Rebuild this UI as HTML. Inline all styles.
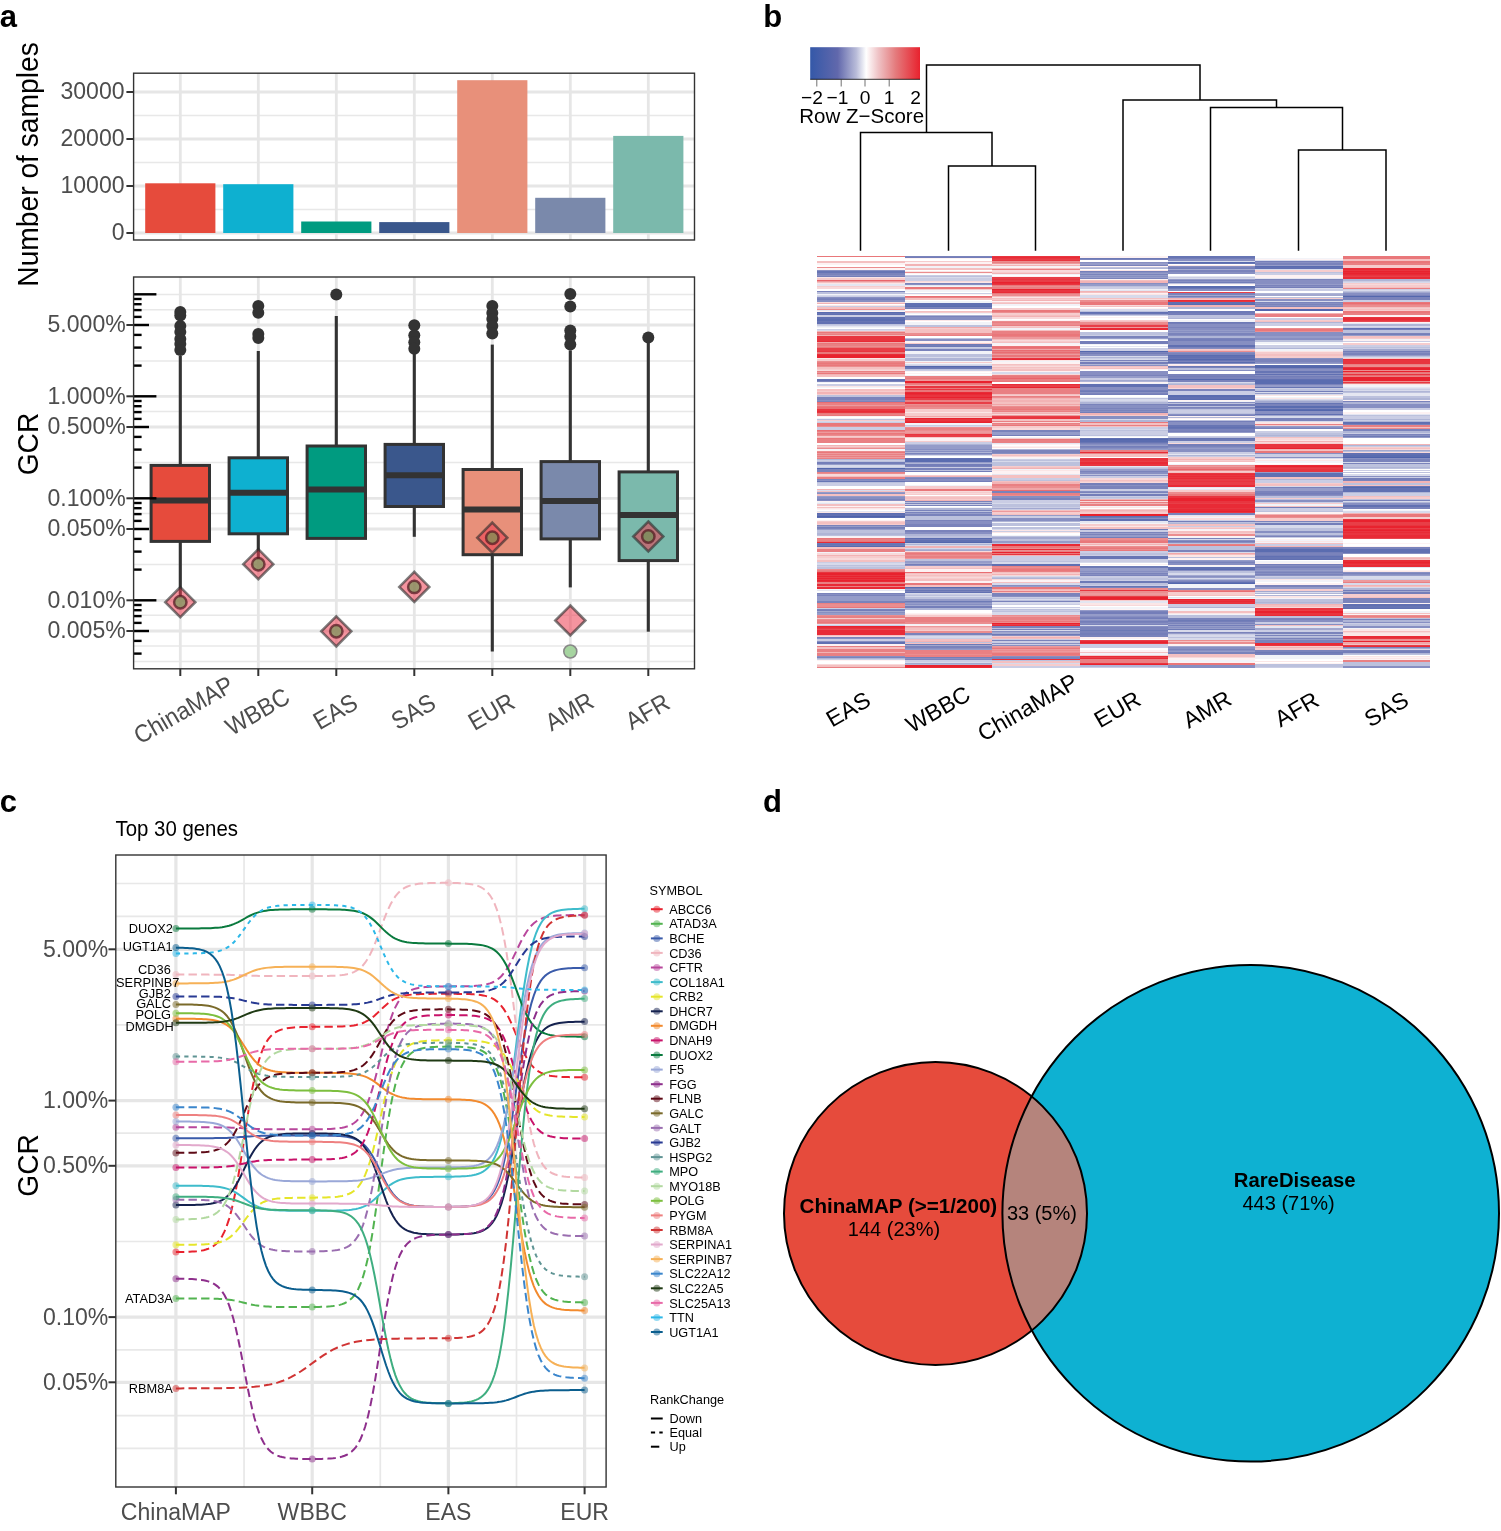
<!DOCTYPE html>
<html><head><meta charset="utf-8"><title>Figure</title>
<style>html,body{margin:0;padding:0;background:#fff;} svg{display:block;} text{font-family:'Liberation Sans', Arial, Helvetica, sans-serif;}</style>
</head><body>
<svg width="1501" height="1531" viewBox="0 0 1501 1531">
<rect width="1501" height="1531" fill="#fff"/>
<rect x="133.6" y="73.2" width="560.9" height="166.8" fill="#fff"/>
<line x1="133.6" x2="694.5" y1="115.6" y2="115.6" stroke="#e8e8e8" stroke-width="1.5"/>
<line x1="133.6" x2="694.5" y1="162.6" y2="162.6" stroke="#e8e8e8" stroke-width="1.5"/>
<line x1="133.6" x2="694.5" y1="209.6" y2="209.6" stroke="#e8e8e8" stroke-width="1.5"/>
<line x1="133.6" x2="694.5" y1="233.0" y2="233.0" stroke="#e6e6e6" stroke-width="2.8"/>
<line x1="133.6" x2="694.5" y1="186.0" y2="186.0" stroke="#e6e6e6" stroke-width="2.8"/>
<line x1="133.6" x2="694.5" y1="139.0" y2="139.0" stroke="#e6e6e6" stroke-width="2.8"/>
<line x1="133.6" x2="694.5" y1="92.0" y2="92.0" stroke="#e6e6e6" stroke-width="2.8"/>
<line x1="180.3" x2="180.3" y1="73.2" y2="240.0" stroke="#e6e6e6" stroke-width="2.8"/>
<line x1="258.3" x2="258.3" y1="73.2" y2="240.0" stroke="#e6e6e6" stroke-width="2.8"/>
<line x1="336.3" x2="336.3" y1="73.2" y2="240.0" stroke="#e6e6e6" stroke-width="2.8"/>
<line x1="414.3" x2="414.3" y1="73.2" y2="240.0" stroke="#e6e6e6" stroke-width="2.8"/>
<line x1="492.3" x2="492.3" y1="73.2" y2="240.0" stroke="#e6e6e6" stroke-width="2.8"/>
<line x1="570.3" x2="570.3" y1="73.2" y2="240.0" stroke="#e6e6e6" stroke-width="2.8"/>
<line x1="648.3" x2="648.3" y1="73.2" y2="240.0" stroke="#e6e6e6" stroke-width="2.8"/>
<rect x="145.2" y="183.3" width="70.2" height="49.7" fill="#E64B3C"/>
<rect x="223.2" y="184.2" width="70.2" height="48.8" fill="#0EB0D0"/>
<rect x="301.2" y="221.5" width="70.2" height="11.5" fill="#009B80"/>
<rect x="379.2" y="222.1" width="70.2" height="10.9" fill="#3A578C"/>
<rect x="457.2" y="80.2" width="70.2" height="152.8" fill="#E8907A"/>
<rect x="535.2" y="197.8" width="70.2" height="35.2" fill="#7A89AB"/>
<rect x="613.2" y="135.9" width="70.2" height="97.1" fill="#7BB9AC"/>
<rect x="133.6" y="73.2" width="560.9" height="166.8" fill="none" stroke="#333" stroke-width="1.4"/>
<line x1="126.4" x2="133.6" y1="233.0" y2="233.0" stroke="#333" stroke-width="2"/>
<text transform="translate(124.60,240.40) scale(0.93,1)" font-size="24.8" fill="#4d4d4d" text-anchor="end">0</text>
<line x1="126.4" x2="133.6" y1="186.0" y2="186.0" stroke="#333" stroke-width="2"/>
<text transform="translate(124.60,193.40) scale(0.93,1)" font-size="24.8" fill="#4d4d4d" text-anchor="end">10000</text>
<line x1="126.4" x2="133.6" y1="139.0" y2="139.0" stroke="#333" stroke-width="2"/>
<text transform="translate(124.60,146.40) scale(0.93,1)" font-size="24.8" fill="#4d4d4d" text-anchor="end">20000</text>
<line x1="126.4" x2="133.6" y1="92.0" y2="92.0" stroke="#333" stroke-width="2"/>
<text transform="translate(124.60,99.40) scale(0.93,1)" font-size="24.8" fill="#4d4d4d" text-anchor="end">30000</text>
<text transform="translate(38.30,164.50) rotate(-90) scale(0.94,1)" font-size="30.0" fill="#000" text-anchor="middle">Number of samples</text>
<rect x="133.6" y="277.0" width="560.9" height="391.79999999999995" fill="#fff"/>
<line x1="133.6" x2="694.5" y1="294.4" y2="294.4" stroke="#e8e8e8" stroke-width="1.5"/>
<line x1="133.6" x2="694.5" y1="309.8" y2="309.8" stroke="#e8e8e8" stroke-width="1.5"/>
<line x1="133.6" x2="694.5" y1="360.9" y2="360.9" stroke="#e8e8e8" stroke-width="1.5"/>
<line x1="133.6" x2="694.5" y1="411.5" y2="411.5" stroke="#e8e8e8" stroke-width="1.5"/>
<line x1="133.6" x2="694.5" y1="462.5" y2="462.5" stroke="#e8e8e8" stroke-width="1.5"/>
<line x1="133.6" x2="694.5" y1="513.6" y2="513.6" stroke="#e8e8e8" stroke-width="1.5"/>
<line x1="133.6" x2="694.5" y1="564.5" y2="564.5" stroke="#e8e8e8" stroke-width="1.5"/>
<line x1="133.6" x2="694.5" y1="615.2" y2="615.2" stroke="#e8e8e8" stroke-width="1.5"/>
<line x1="133.6" x2="694.5" y1="645.9" y2="645.9" stroke="#e8e8e8" stroke-width="1.5"/>
<line x1="133.6" x2="694.5" y1="661.5" y2="661.5" stroke="#e8e8e8" stroke-width="1.5"/>
<line x1="133.6" x2="694.5" y1="325.0" y2="325.0" stroke="#e6e6e6" stroke-width="2.8"/>
<line x1="133.6" x2="694.5" y1="396.3" y2="396.3" stroke="#e6e6e6" stroke-width="2.8"/>
<line x1="133.6" x2="694.5" y1="427.0" y2="427.0" stroke="#e6e6e6" stroke-width="2.8"/>
<line x1="133.6" x2="694.5" y1="498.3" y2="498.3" stroke="#e6e6e6" stroke-width="2.8"/>
<line x1="133.6" x2="694.5" y1="529.0" y2="529.0" stroke="#e6e6e6" stroke-width="2.8"/>
<line x1="133.6" x2="694.5" y1="600.3" y2="600.3" stroke="#e6e6e6" stroke-width="2.8"/>
<line x1="133.6" x2="694.5" y1="631.0" y2="631.0" stroke="#e6e6e6" stroke-width="2.8"/>
<line x1="180.3" x2="180.3" y1="277.0" y2="668.8" stroke="#e6e6e6" stroke-width="2.8"/>
<line x1="258.3" x2="258.3" y1="277.0" y2="668.8" stroke="#e6e6e6" stroke-width="2.8"/>
<line x1="336.3" x2="336.3" y1="277.0" y2="668.8" stroke="#e6e6e6" stroke-width="2.8"/>
<line x1="414.3" x2="414.3" y1="277.0" y2="668.8" stroke="#e6e6e6" stroke-width="2.8"/>
<line x1="492.3" x2="492.3" y1="277.0" y2="668.8" stroke="#e6e6e6" stroke-width="2.8"/>
<line x1="570.3" x2="570.3" y1="277.0" y2="668.8" stroke="#e6e6e6" stroke-width="2.8"/>
<line x1="648.3" x2="648.3" y1="277.0" y2="668.8" stroke="#e6e6e6" stroke-width="2.8"/>
<line x1="180.3" x2="180.3" y1="356.0" y2="465.4" stroke="#333" stroke-width="3.1"/>
<line x1="180.3" x2="180.3" y1="541.4" y2="596.0" stroke="#333" stroke-width="3.1"/>
<rect x="151.1" y="465.4" width="58.4" height="76.0" fill="#E64B3C" stroke="#333" stroke-width="3.0"/>
<line x1="151.1" x2="209.5" y1="500.4" y2="500.4" stroke="#333" stroke-width="6.0"/>
<circle cx="180.3" cy="312" r="6" fill="#333"/>
<circle cx="180.3" cy="315.6" r="6" fill="#333"/>
<circle cx="180.3" cy="326" r="6" fill="#333"/>
<circle cx="180.3" cy="332" r="6" fill="#333"/>
<circle cx="180.3" cy="339" r="6" fill="#333"/>
<circle cx="180.3" cy="344" r="6" fill="#333"/>
<circle cx="180.3" cy="350" r="6" fill="#333"/>
<line x1="258.3" x2="258.3" y1="351.0" y2="457.8" stroke="#333" stroke-width="3.1"/>
<line x1="258.3" x2="258.3" y1="533.8" y2="559.0" stroke="#333" stroke-width="3.1"/>
<rect x="229.1" y="457.8" width="58.4" height="76.0" fill="#0EB0D0" stroke="#333" stroke-width="3.0"/>
<line x1="229.1" x2="287.5" y1="492.8" y2="492.8" stroke="#333" stroke-width="6.0"/>
<circle cx="258.3" cy="306" r="6" fill="#333"/>
<circle cx="258.3" cy="312.8" r="6" fill="#333"/>
<circle cx="258.3" cy="334" r="6" fill="#333"/>
<circle cx="258.3" cy="338" r="6" fill="#333"/>
<line x1="336.3" x2="336.3" y1="316.0" y2="446.0" stroke="#333" stroke-width="3.1"/>
<rect x="307.1" y="446.0" width="58.4" height="92.4" fill="#009B80" stroke="#333" stroke-width="3.0"/>
<line x1="307.1" x2="365.5" y1="489.5" y2="489.5" stroke="#333" stroke-width="6.0"/>
<circle cx="336.3" cy="294.4" r="6" fill="#333"/>
<line x1="414.3" x2="414.3" y1="354.0" y2="444.4" stroke="#333" stroke-width="3.1"/>
<line x1="414.3" x2="414.3" y1="506.5" y2="536.8" stroke="#333" stroke-width="3.1"/>
<rect x="385.1" y="444.4" width="58.4" height="62.1" fill="#3A578C" stroke="#333" stroke-width="3.0"/>
<line x1="385.1" x2="443.5" y1="475.3" y2="475.3" stroke="#333" stroke-width="6.0"/>
<circle cx="414.3" cy="325.3" r="6" fill="#333"/>
<circle cx="414.3" cy="335.3" r="6" fill="#333"/>
<circle cx="414.3" cy="342.3" r="6" fill="#333"/>
<circle cx="414.3" cy="348.8" r="6" fill="#333"/>
<line x1="492.3" x2="492.3" y1="344.6" y2="469.5" stroke="#333" stroke-width="3.1"/>
<line x1="492.3" x2="492.3" y1="554.7" y2="651.5" stroke="#333" stroke-width="3.1"/>
<rect x="463.1" y="469.5" width="58.4" height="85.2" fill="#E8907A" stroke="#333" stroke-width="3.0"/>
<line x1="463.1" x2="521.5" y1="509.4" y2="509.4" stroke="#333" stroke-width="6.0"/>
<circle cx="492.3" cy="306.1" r="6" fill="#333"/>
<circle cx="492.3" cy="313.1" r="6" fill="#333"/>
<circle cx="492.3" cy="319" r="6" fill="#333"/>
<circle cx="492.3" cy="326" r="6" fill="#333"/>
<circle cx="492.3" cy="333.4" r="6" fill="#333"/>
<line x1="570.3" x2="570.3" y1="350.4" y2="461.6" stroke="#333" stroke-width="3.1"/>
<line x1="570.3" x2="570.3" y1="538.9" y2="587.4" stroke="#333" stroke-width="3.1"/>
<rect x="541.1" y="461.6" width="58.4" height="77.3" fill="#7A89AB" stroke="#333" stroke-width="3.0"/>
<line x1="541.1" x2="599.5" y1="501.0" y2="501.0" stroke="#333" stroke-width="6.0"/>
<circle cx="570.3" cy="294" r="6" fill="#333"/>
<circle cx="570.3" cy="306.6" r="6" fill="#333"/>
<circle cx="570.3" cy="330.6" r="6" fill="#333"/>
<circle cx="570.3" cy="336.4" r="6" fill="#333"/>
<circle cx="570.3" cy="344.6" r="6" fill="#333"/>
<line x1="648.3" x2="648.3" y1="337.6" y2="471.9" stroke="#333" stroke-width="3.1"/>
<line x1="648.3" x2="648.3" y1="560.6" y2="631.7" stroke="#333" stroke-width="3.1"/>
<rect x="619.1" y="471.9" width="58.4" height="88.7" fill="#7BB9AC" stroke="#333" stroke-width="3.0"/>
<line x1="619.1" x2="677.5" y1="515.0" y2="515.0" stroke="#333" stroke-width="6.0"/>
<circle cx="648.3" cy="337.6" r="6" fill="#333"/>
<path d="M180.3 587.2 L195.3 602.2 L180.3 617.2 L165.3 602.2 Z" fill="rgba(236,60,80,0.55)" stroke="rgba(40,40,40,0.6)" stroke-width="2.6"/>
<circle cx="180.3" cy="602.2" r="6.2" fill="rgba(96,153,80,0.6)" stroke="rgba(85,25,35,0.72)" stroke-width="2.5"/>
<path d="M258.3 549.2 L273.3 564.2 L258.3 579.2 L243.3 564.2 Z" fill="rgba(236,60,80,0.55)" stroke="rgba(40,40,40,0.6)" stroke-width="2.6"/>
<circle cx="258.3" cy="564.2" r="6.2" fill="rgba(96,153,80,0.6)" stroke="rgba(85,25,35,0.72)" stroke-width="2.5"/>
<path d="M336.3 616.3 L351.3 631.3 L336.3 646.3 L321.3 631.3 Z" fill="rgba(236,60,80,0.55)" stroke="rgba(40,40,40,0.6)" stroke-width="2.6"/>
<circle cx="336.3" cy="631.3" r="6.2" fill="rgba(96,153,80,0.6)" stroke="rgba(85,25,35,0.72)" stroke-width="2.5"/>
<path d="M414.3 571.9 L429.3 586.9 L414.3 601.9 L399.3 586.9 Z" fill="rgba(236,60,80,0.55)" stroke="rgba(40,40,40,0.6)" stroke-width="2.6"/>
<circle cx="414.3" cy="586.9" r="6.2" fill="rgba(96,153,80,0.6)" stroke="rgba(85,25,35,0.72)" stroke-width="2.5"/>
<path d="M492.3 522.7 L507.3 537.7 L492.3 552.7 L477.3 537.7 Z" fill="rgba(236,60,80,0.55)" stroke="rgba(40,40,40,0.6)" stroke-width="2.6"/>
<circle cx="492.3" cy="537.7" r="6.2" fill="rgba(96,153,80,0.6)" stroke="rgba(85,25,35,0.72)" stroke-width="2.5"/>
<path d="M570.3 605.5 L585.3 620.5 L570.3 635.5 L555.3 620.5 Z" fill="rgba(236,60,80,0.55)" stroke="rgba(40,40,40,0.6)" stroke-width="2.6"/>
<path d="M648.3 521.5 L663.3 536.5 L648.3 551.5 L633.3 536.5 Z" fill="rgba(236,60,80,0.55)" stroke="rgba(40,40,40,0.6)" stroke-width="2.6"/>
<circle cx="648.3" cy="536.5" r="6.2" fill="rgba(96,153,80,0.6)" stroke="rgba(85,25,35,0.72)" stroke-width="2.5"/>
<circle cx="570.3" cy="651.5" r="6.5" fill="#a6d4a0" stroke="#888" stroke-width="1.6"/>
<line x1="133.6" x2="141.6" y1="653.6" y2="653.6" stroke="#000" stroke-width="2.4"/>
<line x1="133.6" x2="141.6" y1="640.9" y2="640.9" stroke="#000" stroke-width="2.4"/>
<line x1="133.6" x2="149.0" y1="631.0" y2="631.0" stroke="#000" stroke-width="2.4"/>
<line x1="133.6" x2="141.6" y1="622.9" y2="622.9" stroke="#000" stroke-width="2.4"/>
<line x1="133.6" x2="141.6" y1="616.1" y2="616.1" stroke="#000" stroke-width="2.4"/>
<line x1="133.6" x2="141.6" y1="610.2" y2="610.2" stroke="#000" stroke-width="2.4"/>
<line x1="133.6" x2="141.6" y1="605.0" y2="605.0" stroke="#000" stroke-width="2.4"/>
<line x1="133.6" x2="156.4" y1="600.3" y2="600.3" stroke="#000" stroke-width="2.4"/>
<line x1="133.6" x2="141.6" y1="569.6" y2="569.6" stroke="#000" stroke-width="2.4"/>
<line x1="133.6" x2="141.6" y1="551.6" y2="551.6" stroke="#000" stroke-width="2.4"/>
<line x1="133.6" x2="141.6" y1="538.9" y2="538.9" stroke="#000" stroke-width="2.4"/>
<line x1="133.6" x2="149.0" y1="529.0" y2="529.0" stroke="#000" stroke-width="2.4"/>
<line x1="133.6" x2="141.6" y1="520.9" y2="520.9" stroke="#000" stroke-width="2.4"/>
<line x1="133.6" x2="141.6" y1="514.1" y2="514.1" stroke="#000" stroke-width="2.4"/>
<line x1="133.6" x2="141.6" y1="508.2" y2="508.2" stroke="#000" stroke-width="2.4"/>
<line x1="133.6" x2="141.6" y1="503.0" y2="503.0" stroke="#000" stroke-width="2.4"/>
<line x1="133.6" x2="156.4" y1="498.3" y2="498.3" stroke="#000" stroke-width="2.4"/>
<line x1="133.6" x2="141.6" y1="467.6" y2="467.6" stroke="#000" stroke-width="2.4"/>
<line x1="133.6" x2="141.6" y1="449.6" y2="449.6" stroke="#000" stroke-width="2.4"/>
<line x1="133.6" x2="141.6" y1="436.9" y2="436.9" stroke="#000" stroke-width="2.4"/>
<line x1="133.6" x2="149.0" y1="427.0" y2="427.0" stroke="#000" stroke-width="2.4"/>
<line x1="133.6" x2="141.6" y1="418.9" y2="418.9" stroke="#000" stroke-width="2.4"/>
<line x1="133.6" x2="141.6" y1="412.1" y2="412.1" stroke="#000" stroke-width="2.4"/>
<line x1="133.6" x2="141.6" y1="406.2" y2="406.2" stroke="#000" stroke-width="2.4"/>
<line x1="133.6" x2="141.6" y1="401.0" y2="401.0" stroke="#000" stroke-width="2.4"/>
<line x1="133.6" x2="156.4" y1="396.3" y2="396.3" stroke="#000" stroke-width="2.4"/>
<line x1="133.6" x2="141.6" y1="365.6" y2="365.6" stroke="#000" stroke-width="2.4"/>
<line x1="133.6" x2="141.6" y1="347.6" y2="347.6" stroke="#000" stroke-width="2.4"/>
<line x1="133.6" x2="141.6" y1="334.9" y2="334.9" stroke="#000" stroke-width="2.4"/>
<line x1="133.6" x2="149.0" y1="325.0" y2="325.0" stroke="#000" stroke-width="2.4"/>
<line x1="133.6" x2="141.6" y1="316.9" y2="316.9" stroke="#000" stroke-width="2.4"/>
<line x1="133.6" x2="141.6" y1="310.1" y2="310.1" stroke="#000" stroke-width="2.4"/>
<line x1="133.6" x2="141.6" y1="304.2" y2="304.2" stroke="#000" stroke-width="2.4"/>
<line x1="133.6" x2="141.6" y1="299.0" y2="299.0" stroke="#000" stroke-width="2.4"/>
<line x1="133.6" x2="156.4" y1="294.3" y2="294.3" stroke="#000" stroke-width="2.4"/>
<rect x="133.6" y="277.0" width="560.9" height="391.79999999999995" fill="none" stroke="#333" stroke-width="1.4"/>
<line x1="126.4" x2="133.6" y1="325.0" y2="325.0" stroke="#333" stroke-width="2"/>
<text transform="translate(125.70,332.41) scale(0.93,1)" font-size="24.8" fill="#4d4d4d" text-anchor="end">5.000%</text>
<line x1="126.4" x2="133.6" y1="396.3" y2="396.3" stroke="#333" stroke-width="2"/>
<text transform="translate(125.70,403.70) scale(0.93,1)" font-size="24.8" fill="#4d4d4d" text-anchor="end">1.000%</text>
<line x1="126.4" x2="133.6" y1="427.0" y2="427.0" stroke="#333" stroke-width="2"/>
<text transform="translate(125.70,434.41) scale(0.93,1)" font-size="24.8" fill="#4d4d4d" text-anchor="end">0.500%</text>
<line x1="126.4" x2="133.6" y1="498.3" y2="498.3" stroke="#333" stroke-width="2"/>
<text transform="translate(125.70,505.70) scale(0.93,1)" font-size="24.8" fill="#4d4d4d" text-anchor="end">0.100%</text>
<line x1="126.4" x2="133.6" y1="529.0" y2="529.0" stroke="#333" stroke-width="2"/>
<text transform="translate(125.70,536.41) scale(0.93,1)" font-size="24.8" fill="#4d4d4d" text-anchor="end">0.050%</text>
<line x1="126.4" x2="133.6" y1="600.3" y2="600.3" stroke="#333" stroke-width="2"/>
<text transform="translate(125.70,607.70) scale(0.93,1)" font-size="24.8" fill="#4d4d4d" text-anchor="end">0.010%</text>
<line x1="126.4" x2="133.6" y1="631.0" y2="631.0" stroke="#333" stroke-width="2"/>
<text transform="translate(125.70,638.41) scale(0.93,1)" font-size="24.8" fill="#4d4d4d" text-anchor="end">0.005%</text>
<line x1="180.3" x2="180.3" y1="668.8" y2="676" stroke="#333" stroke-width="2"/>
<line x1="258.3" x2="258.3" y1="668.8" y2="676" stroke="#333" stroke-width="2"/>
<line x1="336.3" x2="336.3" y1="668.8" y2="676" stroke="#333" stroke-width="2"/>
<line x1="414.3" x2="414.3" y1="668.8" y2="676" stroke="#333" stroke-width="2"/>
<line x1="492.3" x2="492.3" y1="668.8" y2="676" stroke="#333" stroke-width="2"/>
<line x1="570.3" x2="570.3" y1="668.8" y2="676" stroke="#333" stroke-width="2"/>
<line x1="648.3" x2="648.3" y1="668.8" y2="676" stroke="#333" stroke-width="2"/>
<text transform="translate(187.80,717.30) rotate(-30) scale(0.93,1)" font-size="24.8" fill="#4d4d4d" text-anchor="middle">ChinaMAP</text>
<text transform="translate(261.60,719.00) rotate(-30) scale(0.93,1)" font-size="24.8" fill="#4d4d4d" text-anchor="middle">WBBC</text>
<text transform="translate(339.60,719.00) rotate(-30) scale(0.93,1)" font-size="24.8" fill="#4d4d4d" text-anchor="middle">EAS</text>
<text transform="translate(417.60,719.00) rotate(-30) scale(0.93,1)" font-size="24.8" fill="#4d4d4d" text-anchor="middle">SAS</text>
<text transform="translate(495.60,719.00) rotate(-30) scale(0.93,1)" font-size="24.8" fill="#4d4d4d" text-anchor="middle">EUR</text>
<text transform="translate(573.60,719.00) rotate(-30) scale(0.93,1)" font-size="24.8" fill="#4d4d4d" text-anchor="middle">AMR</text>
<text transform="translate(651.60,719.00) rotate(-30) scale(0.93,1)" font-size="24.8" fill="#4d4d4d" text-anchor="middle">AFR</text>
<text transform="translate(38.30,444.00) rotate(-90) scale(0.94,1)" font-size="30.0" fill="#000" text-anchor="middle">GCR</text>
<defs><linearGradient id="ck" x1="0" x2="1" y1="0" y2="0"><stop offset="0" stop-color="#3458A8"/><stop offset="0.25" stop-color="#6168AC"/><stop offset="0.42" stop-color="#b9bcd9"/><stop offset="0.51" stop-color="#ffffff"/><stop offset="0.62" stop-color="#efc3c6"/><stop offset="0.78" stop-color="#e47a7c"/><stop offset="1" stop-color="#E8222E"/></linearGradient></defs>
<rect x="810.2" y="47.2" width="109.8" height="32.1" fill="url(#ck)"/>
<line x1="810.2" x2="920" y1="79.3" y2="79.3" stroke="#000" stroke-width="0.8"/>
<line x1="816.8" x2="816.8" y1="79.3" y2="86.5" stroke="#333" stroke-width="0.7"/>
<line x1="841.2" x2="841.2" y1="79.3" y2="86.5" stroke="#333" stroke-width="0.7"/>
<line x1="865.0" x2="865.0" y1="79.3" y2="86.5" stroke="#333" stroke-width="0.7"/>
<line x1="889.2" x2="889.2" y1="79.3" y2="86.5" stroke="#333" stroke-width="0.7"/>
<text x="812.0" y="104.2" font-size="19.2" fill="#000" text-anchor="middle">−2</text>
<text x="837.5" y="104.2" font-size="19.2" fill="#000" text-anchor="middle">−1</text>
<text x="865.0" y="104.2" font-size="19.2" fill="#000" text-anchor="middle">0</text>
<text x="889.2" y="104.2" font-size="19.2" fill="#000" text-anchor="middle">1</text>
<text x="915.7" y="104.2" font-size="19.2" fill="#000" text-anchor="middle">2</text>
<text x="861.7" y="122.7" font-size="20.5" fill="#000" text-anchor="middle">Row Z−Score</text>
<path d="M926.5 65L1200 65 M926.5 65L926.5 132.5 M1200 65L1200 100 M860.5 132.5L992 132.5 M860.5 132.5L860.5 250 M992 132.5L992 166 M948.5 166L1035.5 166 M948.5 166L948.5 250 M1035.5 166L1035.5 250 M1123 100L1276.5 100 M1123 100L1123 250 M1276.5 100L1276.5 107.5 M1210.5 107.5L1342.5 107.5 M1210.5 107.5L1210.5 250 M1342.5 107.5L1342.5 150 M1298.5 150L1386 150 M1298.5 150L1298.5 250 M1386 150L1386 250" stroke="#000" stroke-width="1.5" fill="none" stroke-linecap="square"/>
<text transform="translate(852.2,716.2) rotate(-30)" font-size="23.2" fill="#000" text-anchor="middle">EAS</text>
<text transform="translate(941.9,716.2) rotate(-30)" font-size="23.2" fill="#000" text-anchor="middle">WBBC</text>
<text transform="translate(1031.6,714.2) rotate(-30)" font-size="23.2" fill="#000" text-anchor="middle">ChinaMAP</text>
<text transform="translate(1121.3,716.2) rotate(-30)" font-size="23.2" fill="#000" text-anchor="middle">EUR</text>
<text transform="translate(1211.0,716.2) rotate(-30)" font-size="23.2" fill="#000" text-anchor="middle">AMR</text>
<text transform="translate(1300.7,716.2) rotate(-30)" font-size="23.2" fill="#000" text-anchor="middle">AFR</text>
<text transform="translate(1390.4,716.2) rotate(-30)" font-size="23.2" fill="#000" text-anchor="middle">SAS</text>
<g shape-rendering="crispEdges"><rect x="817.2" y="256.0" width="87.6" height="1.0" fill="#e9777a"/><rect x="817.2" y="259.5" width="87.6" height="0.5" fill="#fdf2f3"/><rect x="817.2" y="260.5" width="87.6" height="0.5" fill="#f2f3f8"/><rect x="817.2" y="261.0" width="87.6" height="1.5" fill="#f4c0c1"/><rect x="817.2" y="262.5" width="87.6" height="0.5" fill="#f2b3b5"/><rect x="817.2" y="263.0" width="87.6" height="2.0" fill="#fdf2f3"/><rect x="817.2" y="266.5" width="87.6" height="0.5" fill="#e98083"/><rect x="817.2" y="267.0" width="87.6" height="1.0" fill="#eb8d8f"/><rect x="817.2" y="268.0" width="87.6" height="1.5" fill="#fdf2f3"/><rect x="817.2" y="269.5" width="87.6" height="0.5" fill="#959cc9"/><rect x="817.2" y="270.0" width="87.6" height="0.5" fill="#878fc2"/><rect x="817.2" y="270.5" width="87.6" height="0.5" fill="#959cc9"/><rect x="817.2" y="271.0" width="87.6" height="1.5" fill="#6775b4"/><rect x="817.2" y="272.5" width="87.6" height="0.5" fill="#5a6cb0"/><rect x="817.2" y="273.0" width="87.6" height="1.5" fill="#7a83bb"/><rect x="817.2" y="274.5" width="87.6" height="1.0" fill="#878fc2"/><rect x="817.2" y="275.5" width="87.6" height="1.0" fill="#747eb9"/><rect x="817.2" y="276.5" width="87.6" height="0.5" fill="#7a83bb"/><rect x="817.2" y="277.0" width="87.6" height="0.5" fill="#fbe6e6"/><rect x="817.2" y="277.5" width="87.6" height="0.5" fill="#f2f3f8"/><rect x="817.2" y="278.0" width="87.6" height="2.0" fill="#f6cccd"/><rect x="817.2" y="280.0" width="87.6" height="0.5" fill="#e9646a"/><rect x="817.2" y="280.5" width="87.6" height="1.5" fill="#ed999c"/><rect x="817.2" y="282.0" width="87.6" height="0.5" fill="#f4c0c1"/><rect x="817.2" y="282.5" width="87.6" height="1.0" fill="#fbe6e6"/><rect x="817.2" y="283.5" width="87.6" height="0.5" fill="#f2b3b5"/><rect x="817.2" y="284.0" width="87.6" height="1.5" fill="#e4e6f1"/><rect x="817.2" y="285.5" width="87.6" height="0.5" fill="#f2f3f8"/><rect x="817.2" y="286.0" width="87.6" height="1.0" fill="#f6cccd"/><rect x="817.2" y="287.0" width="87.6" height="1.5" fill="#f8d9da"/><rect x="817.2" y="290.5" width="87.6" height="1.5" fill="#7a83bb"/><rect x="817.2" y="292.0" width="87.6" height="2.0" fill="#bcc1dd"/><rect x="817.2" y="294.0" width="87.6" height="0.5" fill="#f2f3f8"/><rect x="817.2" y="294.5" width="87.6" height="1.0" fill="#d7daeb"/><rect x="817.2" y="295.5" width="87.6" height="1.5" fill="#cacde4"/><rect x="817.2" y="297.0" width="87.6" height="1.0" fill="#878fc2"/><rect x="817.2" y="298.0" width="87.6" height="0.5" fill="#7a83bb"/><rect x="817.2" y="298.5" width="87.6" height="1.0" fill="#747eb9"/><rect x="817.2" y="299.5" width="87.6" height="2.0" fill="#878fc2"/><rect x="817.2" y="301.5" width="87.6" height="1.0" fill="#f8d9da"/><rect x="817.2" y="302.5" width="87.6" height="1.0" fill="#f2b3b5"/><rect x="817.2" y="303.5" width="87.6" height="0.5" fill="#f6cccd"/><rect x="817.2" y="304.5" width="87.6" height="0.5" fill="#fdf2f3"/><rect x="817.2" y="305.0" width="87.6" height="0.5" fill="#fbe6e6"/><rect x="817.2" y="306.0" width="87.6" height="1.0" fill="#cacde4"/><rect x="817.2" y="307.0" width="87.6" height="1.5" fill="#f4c0c1"/><rect x="817.2" y="308.5" width="87.6" height="1.5" fill="#eb8d8f"/><rect x="817.2" y="310.0" width="87.6" height="0.5" fill="#e4e6f1"/><rect x="817.2" y="310.5" width="87.6" height="1.5" fill="#fdf2f3"/><rect x="817.2" y="312.0" width="87.6" height="1.0" fill="#5a6cb0"/><rect x="817.2" y="313.0" width="87.6" height="1.0" fill="#6775b4"/><rect x="817.2" y="314.0" width="87.6" height="0.5" fill="#6170b2"/><rect x="817.2" y="314.5" width="87.6" height="2.5" fill="#cacde4"/><rect x="817.2" y="317.0" width="87.6" height="2.0" fill="#6170b2"/><rect x="817.2" y="319.0" width="87.6" height="1.5" fill="#5a6cb0"/><rect x="817.2" y="320.5" width="87.6" height="1.0" fill="#6775b4"/><rect x="817.2" y="321.5" width="87.6" height="2.5" fill="#6170b2"/><rect x="817.2" y="324.0" width="87.6" height="1.0" fill="#bcc1dd"/><rect x="817.2" y="325.0" width="87.6" height="0.5" fill="#cacde4"/><rect x="817.2" y="325.5" width="87.6" height="0.5" fill="#bcc1dd"/><rect x="817.2" y="326.0" width="87.6" height="1.0" fill="#e4e6f1"/><rect x="817.2" y="327.0" width="87.6" height="0.5" fill="#f2f3f8"/><rect x="817.2" y="329.0" width="87.6" height="1.0" fill="#cacde4"/><rect x="817.2" y="330.0" width="87.6" height="0.5" fill="#d7daeb"/><rect x="817.2" y="330.5" width="87.6" height="0.5" fill="#bcc1dd"/><rect x="817.2" y="331.0" width="87.6" height="0.5" fill="#f2b3b5"/><rect x="817.2" y="331.5" width="87.6" height="1.0" fill="#e9777a"/><rect x="817.2" y="332.5" width="87.6" height="1.0" fill="#eb8d8f"/><rect x="817.2" y="333.5" width="87.6" height="1.5" fill="#e98083"/><rect x="817.2" y="335.0" width="87.6" height="1.0" fill="#f2b3b5"/><rect x="817.2" y="336.0" width="87.6" height="3.5" fill="#e8353f"/><rect x="817.2" y="339.5" width="87.6" height="0.5" fill="#e82b36"/><rect x="817.2" y="340.0" width="87.6" height="1.0" fill="#e8353f"/><rect x="817.2" y="341.0" width="87.6" height="1.0" fill="#e82b36"/><rect x="817.2" y="342.0" width="87.6" height="1.0" fill="#f0a6a8"/><rect x="817.2" y="343.0" width="87.6" height="1.0" fill="#e9777a"/><rect x="817.2" y="344.0" width="87.6" height="2.0" fill="#e98083"/><rect x="817.2" y="346.0" width="87.6" height="0.5" fill="#eb8d8f"/><rect x="817.2" y="346.5" width="87.6" height="1.0" fill="#e9777a"/><rect x="817.2" y="347.5" width="87.6" height="0.5" fill="#eb8d8f"/><rect x="817.2" y="348.0" width="87.6" height="0.5" fill="#e83e47"/><rect x="817.2" y="348.5" width="87.6" height="0.5" fill="#e82b36"/><rect x="817.2" y="349.0" width="87.6" height="1.5" fill="#e83e47"/><rect x="817.2" y="350.5" width="87.6" height="1.5" fill="#e8353f"/><rect x="817.2" y="352.0" width="87.6" height="2.0" fill="#e9777a"/><rect x="817.2" y="354.0" width="87.6" height="1.0" fill="#e82b36"/><rect x="817.2" y="355.0" width="87.6" height="2.5" fill="#e8222e"/><rect x="817.2" y="357.5" width="87.6" height="1.0" fill="#fbe6e6"/><rect x="817.2" y="358.5" width="87.6" height="1.0" fill="#f6cccd"/><rect x="817.2" y="359.5" width="87.6" height="0.5" fill="#fbe6e6"/><rect x="817.2" y="360.0" width="87.6" height="0.5" fill="#f6cccd"/><rect x="817.2" y="360.5" width="87.6" height="0.5" fill="#e98083"/><rect x="817.2" y="361.0" width="87.6" height="1.0" fill="#eb8d8f"/><rect x="817.2" y="362.0" width="87.6" height="0.5" fill="#e98083"/><rect x="817.2" y="362.5" width="87.6" height="1.5" fill="#e9777a"/><rect x="817.2" y="364.0" width="87.6" height="1.0" fill="#e98083"/><rect x="817.2" y="365.0" width="87.6" height="1.0" fill="#e9777a"/><rect x="817.2" y="366.0" width="87.6" height="0.5" fill="#eb8d8f"/><rect x="817.2" y="366.5" width="87.6" height="2.0" fill="#f4c0c1"/><rect x="817.2" y="368.5" width="87.6" height="1.5" fill="#f6cccd"/><rect x="817.2" y="370.0" width="87.6" height="0.5" fill="#f8d9da"/><rect x="817.2" y="370.5" width="87.6" height="0.5" fill="#f6cccd"/><rect x="817.2" y="371.0" width="87.6" height="1.0" fill="#e98083"/><rect x="817.2" y="372.0" width="87.6" height="0.5" fill="#ed999c"/><rect x="817.2" y="372.5" width="87.6" height="1.0" fill="#e9777a"/><rect x="817.2" y="373.5" width="87.6" height="1.5" fill="#f2b3b5"/><rect x="817.2" y="375.0" width="87.6" height="1.5" fill="#f4c0c1"/><rect x="817.2" y="376.5" width="87.6" height="0.5" fill="#f8d9da"/><rect x="817.2" y="379.0" width="87.6" height="0.5" fill="#6775b4"/><rect x="817.2" y="379.5" width="87.6" height="1.5" fill="#6170b2"/><rect x="817.2" y="381.0" width="87.6" height="0.5" fill="#7a83bb"/><rect x="817.2" y="381.5" width="87.6" height="1.5" fill="#f2f3f8"/><rect x="817.2" y="384.0" width="87.6" height="1.5" fill="#cacde4"/><rect x="817.2" y="385.5" width="87.6" height="0.5" fill="#747eb9"/><rect x="817.2" y="386.0" width="87.6" height="1.0" fill="#fbe6e6"/><rect x="817.2" y="387.0" width="87.6" height="0.5" fill="#f2f3f8"/><rect x="817.2" y="388.5" width="87.6" height="2.5" fill="#f4c0c1"/><rect x="817.2" y="391.0" width="87.6" height="0.5" fill="#f6cccd"/><rect x="817.2" y="391.5" width="87.6" height="0.5" fill="#f8d9da"/><rect x="817.2" y="392.0" width="87.6" height="2.0" fill="#f2b3b5"/><rect x="817.2" y="394.0" width="87.6" height="0.5" fill="#f6cccd"/><rect x="817.2" y="394.5" width="87.6" height="1.0" fill="#bcc1dd"/><rect x="817.2" y="395.5" width="87.6" height="0.5" fill="#e4e6f1"/><rect x="817.2" y="396.0" width="87.6" height="0.5" fill="#bcc1dd"/><rect x="817.2" y="396.5" width="87.6" height="0.5" fill="#d7daeb"/><rect x="817.2" y="397.0" width="87.6" height="2.5" fill="#7a83bb"/><rect x="817.2" y="399.5" width="87.6" height="1.5" fill="#878fc2"/><rect x="817.2" y="401.0" width="87.6" height="0.5" fill="#7a83bb"/><rect x="817.2" y="401.5" width="87.6" height="0.5" fill="#e98083"/><rect x="817.2" y="402.0" width="87.6" height="0.5" fill="#e96d72"/><rect x="817.2" y="402.5" width="87.6" height="2.5" fill="#e98083"/><rect x="817.2" y="405.0" width="87.6" height="1.0" fill="#ed999c"/><rect x="817.2" y="406.0" width="87.6" height="1.0" fill="#e9777a"/><rect x="817.2" y="407.0" width="87.6" height="1.5" fill="#e96d72"/><rect x="817.2" y="408.5" width="87.6" height="2.0" fill="#e8353f"/><rect x="817.2" y="410.5" width="87.6" height="1.0" fill="#e82b36"/><rect x="817.2" y="411.5" width="87.6" height="1.0" fill="#e8353f"/><rect x="817.2" y="412.5" width="87.6" height="0.5" fill="#e82b36"/><rect x="817.2" y="413.0" width="87.6" height="1.0" fill="#e9777a"/><rect x="817.2" y="414.0" width="87.6" height="1.0" fill="#e98083"/><rect x="817.2" y="415.0" width="87.6" height="1.0" fill="#e9777a"/><rect x="817.2" y="416.0" width="87.6" height="1.0" fill="#fdf2f3"/><rect x="817.2" y="417.5" width="87.6" height="0.5" fill="#fdf2f3"/><rect x="817.2" y="418.0" width="87.6" height="1.0" fill="#f2f3f8"/><rect x="817.2" y="419.0" width="87.6" height="1.0" fill="#bcc1dd"/><rect x="817.2" y="420.0" width="87.6" height="1.0" fill="#f6cccd"/><rect x="817.2" y="421.0" width="87.6" height="1.0" fill="#d7daeb"/><rect x="817.2" y="422.0" width="87.6" height="1.0" fill="#cacde4"/><rect x="817.2" y="423.0" width="87.6" height="2.5" fill="#e9777a"/><rect x="817.2" y="425.5" width="87.6" height="1.0" fill="#eb8d8f"/><rect x="817.2" y="426.5" width="87.6" height="3.0" fill="#cacde4"/><rect x="817.2" y="429.5" width="87.6" height="0.5" fill="#afb5d6"/><rect x="817.2" y="430.0" width="87.6" height="1.0" fill="#e96d72"/><rect x="817.2" y="431.0" width="87.6" height="0.5" fill="#e98083"/><rect x="817.2" y="431.5" width="87.6" height="1.5" fill="#ed999c"/><rect x="817.2" y="433.0" width="87.6" height="0.5" fill="#e9777a"/><rect x="817.2" y="433.5" width="87.6" height="1.0" fill="#e98083"/><rect x="817.2" y="434.5" width="87.6" height="1.5" fill="#eb8d8f"/><rect x="817.2" y="436.0" width="87.6" height="0.5" fill="#f6cccd"/><rect x="817.2" y="436.5" width="87.6" height="1.5" fill="#f4c0c1"/><rect x="817.2" y="438.0" width="87.6" height="1.0" fill="#e9777a"/><rect x="817.2" y="439.0" width="87.6" height="4.0" fill="#e98083"/><rect x="817.2" y="445.0" width="87.6" height="0.5" fill="#f2b3b5"/><rect x="817.2" y="445.5" width="87.6" height="1.5" fill="#f6cccd"/><rect x="817.2" y="447.0" width="87.6" height="1.0" fill="#f2b3b5"/><rect x="817.2" y="448.0" width="87.6" height="0.5" fill="#eb8d8f"/><rect x="817.2" y="448.5" width="87.6" height="1.5" fill="#f2f3f8"/><rect x="817.2" y="450.0" width="87.6" height="1.0" fill="#fdf2f3"/><rect x="817.2" y="451.0" width="87.6" height="0.5" fill="#eb8d8f"/><rect x="817.2" y="451.5" width="87.6" height="1.0" fill="#e9777a"/><rect x="817.2" y="452.5" width="87.6" height="1.5" fill="#ed999c"/><rect x="817.2" y="454.0" width="87.6" height="1.0" fill="#e98083"/><rect x="817.2" y="455.0" width="87.6" height="0.5" fill="#ed999c"/><rect x="817.2" y="455.5" width="87.6" height="1.5" fill="#e98083"/><rect x="817.2" y="457.0" width="87.6" height="0.5" fill="#ed999c"/><rect x="817.2" y="457.5" width="87.6" height="1.5" fill="#e98083"/><rect x="817.2" y="459.0" width="87.6" height="0.5" fill="#afb5d6"/><rect x="817.2" y="459.5" width="87.6" height="1.5" fill="#cacde4"/><rect x="817.2" y="461.0" width="87.6" height="0.5" fill="#bcc1dd"/><rect x="817.2" y="461.5" width="87.6" height="0.5" fill="#878fc2"/><rect x="817.2" y="462.0" width="87.6" height="1.5" fill="#747eb9"/><rect x="817.2" y="463.5" width="87.6" height="1.0" fill="#959cc9"/><rect x="817.2" y="464.5" width="87.6" height="0.5" fill="#878fc2"/><rect x="817.2" y="465.0" width="87.6" height="1.5" fill="#d7daeb"/><rect x="817.2" y="466.5" width="87.6" height="1.5" fill="#cacde4"/><rect x="817.2" y="468.0" width="87.6" height="1.0" fill="#5467ad"/><rect x="817.2" y="469.0" width="87.6" height="2.5" fill="#7a83bb"/><rect x="817.2" y="471.5" width="87.6" height="0.5" fill="#959cc9"/><rect x="817.2" y="472.0" width="87.6" height="1.0" fill="#e98083"/><rect x="817.2" y="473.0" width="87.6" height="1.0" fill="#eb8d8f"/><rect x="817.2" y="474.0" width="87.6" height="1.5" fill="#f8d9da"/><rect x="817.2" y="475.5" width="87.6" height="0.5" fill="#f0a6a8"/><rect x="817.2" y="476.0" width="87.6" height="0.5" fill="#f4c0c1"/><rect x="817.2" y="476.5" width="87.6" height="2.0" fill="#e98083"/><rect x="817.2" y="478.5" width="87.6" height="1.0" fill="#7a83bb"/><rect x="817.2" y="479.5" width="87.6" height="1.0" fill="#878fc2"/><rect x="817.2" y="480.5" width="87.6" height="1.5" fill="#6775b4"/><rect x="817.2" y="482.0" width="87.6" height="0.5" fill="#bcc1dd"/><rect x="817.2" y="482.5" width="87.6" height="1.0" fill="#cacde4"/><rect x="817.2" y="483.5" width="87.6" height="0.5" fill="#bcc1dd"/><rect x="817.2" y="484.0" width="87.6" height="1.5" fill="#cacde4"/><rect x="817.2" y="485.5" width="87.6" height="0.5" fill="#d7daeb"/><rect x="817.2" y="486.5" width="87.6" height="0.5" fill="#f2f3f8"/><rect x="817.2" y="488.5" width="87.6" height="1.0" fill="#f2b3b5"/><rect x="817.2" y="489.5" width="87.6" height="1.5" fill="#d7daeb"/><rect x="817.2" y="491.0" width="87.6" height="0.5" fill="#f4c0c1"/><rect x="817.2" y="491.5" width="87.6" height="0.5" fill="#e4e6f1"/><rect x="817.2" y="492.0" width="87.6" height="0.5" fill="#959cc9"/><rect x="817.2" y="492.5" width="87.6" height="1.0" fill="#878fc2"/><rect x="817.2" y="493.5" width="87.6" height="2.5" fill="#f4c0c1"/><rect x="817.2" y="496.0" width="87.6" height="1.0" fill="#959cc9"/><rect x="817.2" y="497.0" width="87.6" height="1.5" fill="#878fc2"/><rect x="817.2" y="498.5" width="87.6" height="1.5" fill="#7a83bb"/><rect x="817.2" y="500.0" width="87.6" height="0.5" fill="#878fc2"/><rect x="817.2" y="500.5" width="87.6" height="1.5" fill="#fdf2f3"/><rect x="817.2" y="502.0" width="87.6" height="0.5" fill="#f2f3f8"/><rect x="817.2" y="502.5" width="87.6" height="0.5" fill="#bcc1dd"/><rect x="817.2" y="503.0" width="87.6" height="1.0" fill="#e4e6f1"/><rect x="817.2" y="504.0" width="87.6" height="1.5" fill="#f4c0c1"/><rect x="817.2" y="505.5" width="87.6" height="1.5" fill="#fdf2f3"/><rect x="817.2" y="507.0" width="87.6" height="0.5" fill="#f4c0c1"/><rect x="817.2" y="507.5" width="87.6" height="0.5" fill="#f2f3f8"/><rect x="817.2" y="508.0" width="87.6" height="0.5" fill="#fbe6e6"/><rect x="817.2" y="508.5" width="87.6" height="1.0" fill="#fdf2f3"/><rect x="817.2" y="511.0" width="87.6" height="1.0" fill="#e4e6f1"/><rect x="817.2" y="512.0" width="87.6" height="0.5" fill="#fbe6e6"/><rect x="817.2" y="512.5" width="87.6" height="0.5" fill="#6775b4"/><rect x="817.2" y="513.0" width="87.6" height="0.5" fill="#5a6cb0"/><rect x="817.2" y="513.5" width="87.6" height="2.0" fill="#6170b2"/><rect x="817.2" y="515.5" width="87.6" height="1.0" fill="#4e62ab"/><rect x="817.2" y="516.5" width="87.6" height="1.5" fill="#5a6cb0"/><rect x="817.2" y="520.0" width="87.6" height="1.0" fill="#fdf2f3"/><rect x="817.2" y="521.0" width="87.6" height="0.5" fill="#f6cccd"/><rect x="817.2" y="521.5" width="87.6" height="2.5" fill="#f4c0c1"/><rect x="817.2" y="524.0" width="87.6" height="0.5" fill="#f6cccd"/><rect x="817.2" y="524.5" width="87.6" height="0.5" fill="#f4c0c1"/><rect x="817.2" y="525.0" width="87.6" height="1.0" fill="#7a83bb"/><rect x="817.2" y="526.0" width="87.6" height="0.5" fill="#959cc9"/><rect x="817.2" y="526.5" width="87.6" height="1.0" fill="#747eb9"/><rect x="817.2" y="527.5" width="87.6" height="0.5" fill="#959cc9"/><rect x="817.2" y="528.0" width="87.6" height="1.0" fill="#7a83bb"/><rect x="817.2" y="529.0" width="87.6" height="1.0" fill="#959cc9"/><rect x="817.2" y="530.0" width="87.6" height="2.5" fill="#bcc1dd"/><rect x="817.2" y="532.5" width="87.6" height="2.0" fill="#afb5d6"/><rect x="817.2" y="534.5" width="87.6" height="1.0" fill="#bcc1dd"/><rect x="817.2" y="535.5" width="87.6" height="1.0" fill="#f2f3f8"/><rect x="817.2" y="536.5" width="87.6" height="0.5" fill="#afb5d6"/><rect x="817.2" y="537.0" width="87.6" height="1.0" fill="#fdf2f3"/><rect x="817.2" y="538.0" width="87.6" height="1.0" fill="#e9777a"/><rect x="817.2" y="539.0" width="87.6" height="1.5" fill="#e98083"/><rect x="817.2" y="540.5" width="87.6" height="1.0" fill="#e9777a"/><rect x="817.2" y="541.5" width="87.6" height="0.5" fill="#e8353f"/><rect x="817.2" y="542.0" width="87.6" height="0.5" fill="#e82b36"/><rect x="817.2" y="542.5" width="87.6" height="0.5" fill="#e8222e"/><rect x="817.2" y="543.0" width="87.6" height="1.0" fill="#6d7ab6"/><rect x="817.2" y="544.0" width="87.6" height="0.5" fill="#6775b4"/><rect x="817.2" y="544.5" width="87.6" height="0.5" fill="#6170b2"/><rect x="817.2" y="545.0" width="87.6" height="1.0" fill="#6d7ab6"/><rect x="817.2" y="546.0" width="87.6" height="1.0" fill="#5a6cb0"/><rect x="817.2" y="547.0" width="87.6" height="2.0" fill="#f4c0c1"/><rect x="817.2" y="549.0" width="87.6" height="2.5" fill="#e98083"/><rect x="817.2" y="551.5" width="87.6" height="0.5" fill="#f6cccd"/><rect x="817.2" y="552.0" width="87.6" height="1.0" fill="#f2f3f8"/><rect x="817.2" y="553.0" width="87.6" height="1.5" fill="#f8d9da"/><rect x="817.2" y="554.5" width="87.6" height="1.5" fill="#f2b3b5"/><rect x="817.2" y="556.0" width="87.6" height="2.0" fill="#f6cccd"/><rect x="817.2" y="558.0" width="87.6" height="1.5" fill="#f8d9da"/><rect x="817.2" y="559.5" width="87.6" height="0.5" fill="#fbe6e6"/><rect x="817.2" y="560.0" width="87.6" height="1.5" fill="#f4c0c1"/><rect x="817.2" y="561.5" width="87.6" height="1.0" fill="#cacde4"/><rect x="817.2" y="562.5" width="87.6" height="2.0" fill="#d7daeb"/><rect x="817.2" y="564.5" width="87.6" height="0.5" fill="#fdf2f3"/><rect x="817.2" y="565.0" width="87.6" height="1.0" fill="#bcc1dd"/><rect x="817.2" y="566.0" width="87.6" height="1.0" fill="#cacde4"/><rect x="817.2" y="567.0" width="87.6" height="1.5" fill="#bcc1dd"/><rect x="817.2" y="568.5" width="87.6" height="0.5" fill="#e9777a"/><rect x="817.2" y="569.0" width="87.6" height="0.5" fill="#eb8d8f"/><rect x="817.2" y="569.5" width="87.6" height="1.5" fill="#e98083"/><rect x="817.2" y="571.0" width="87.6" height="0.5" fill="#e9777a"/><rect x="817.2" y="571.5" width="87.6" height="0.5" fill="#e98083"/><rect x="817.2" y="572.0" width="87.6" height="0.5" fill="#e8353f"/><rect x="817.2" y="572.5" width="87.6" height="0.5" fill="#e82b36"/><rect x="817.2" y="573.0" width="87.6" height="1.0" fill="#e8222e"/><rect x="817.2" y="574.0" width="87.6" height="0.5" fill="#e8222e"/><rect x="817.2" y="574.5" width="87.6" height="1.0" fill="#e8353f"/><rect x="817.2" y="575.5" width="87.6" height="0.5" fill="#e8222e"/><rect x="817.2" y="576.0" width="87.6" height="1.0" fill="#e8222e"/><rect x="817.2" y="577.0" width="87.6" height="0.5" fill="#e8353f"/><rect x="817.2" y="577.5" width="87.6" height="1.0" fill="#e8222e"/><rect x="817.2" y="578.5" width="87.6" height="1.0" fill="#e8353f"/><rect x="817.2" y="579.5" width="87.6" height="0.5" fill="#e82b36"/><rect x="817.2" y="580.0" width="87.6" height="1.0" fill="#e8222e"/><rect x="817.2" y="581.0" width="87.6" height="1.0" fill="#e82b36"/><rect x="817.2" y="582.0" width="87.6" height="2.0" fill="#e98083"/><rect x="817.2" y="584.0" width="87.6" height="1.5" fill="#e82b36"/><rect x="817.2" y="585.5" width="87.6" height="1.5" fill="#e98083"/><rect x="817.2" y="587.0" width="87.6" height="1.5" fill="#e82b36"/><rect x="817.2" y="588.5" width="87.6" height="0.5" fill="#e8353f"/><rect x="817.2" y="589.0" width="87.6" height="1.0" fill="#f2f3f8"/><rect x="817.2" y="590.0" width="87.6" height="0.5" fill="#e4e6f1"/><rect x="817.2" y="592.5" width="87.6" height="1.0" fill="#7a83bb"/><rect x="817.2" y="593.5" width="87.6" height="1.5" fill="#878fc2"/><rect x="817.2" y="595.0" width="87.6" height="0.5" fill="#7a83bb"/><rect x="817.2" y="595.5" width="87.6" height="1.0" fill="#959cc9"/><rect x="817.2" y="596.5" width="87.6" height="0.5" fill="#7a83bb"/><rect x="817.2" y="597.0" width="87.6" height="3.5" fill="#959cc9"/><rect x="817.2" y="600.5" width="87.6" height="0.5" fill="#cacde4"/><rect x="817.2" y="601.0" width="87.6" height="1.5" fill="#7a83bb"/><rect x="817.2" y="602.5" width="87.6" height="0.5" fill="#878fc2"/><rect x="817.2" y="603.0" width="87.6" height="0.5" fill="#e98083"/><rect x="817.2" y="603.5" width="87.6" height="3.5" fill="#eb8d8f"/><rect x="817.2" y="607.0" width="87.6" height="0.5" fill="#e9777a"/><rect x="817.2" y="607.5" width="87.6" height="1.5" fill="#cacde4"/><rect x="817.2" y="609.0" width="87.6" height="0.5" fill="#7a83bb"/><rect x="817.2" y="609.5" width="87.6" height="1.5" fill="#747eb9"/><rect x="817.2" y="611.0" width="87.6" height="0.5" fill="#a2a8cf"/><rect x="817.2" y="611.5" width="87.6" height="1.0" fill="#878fc2"/><rect x="817.2" y="612.5" width="87.6" height="2.0" fill="#959cc9"/><rect x="817.2" y="614.5" width="87.6" height="1.0" fill="#eb8d8f"/><rect x="817.2" y="615.5" width="87.6" height="2.0" fill="#e98083"/><rect x="817.2" y="617.5" width="87.6" height="1.5" fill="#f6cccd"/><rect x="817.2" y="619.0" width="87.6" height="1.0" fill="#eb8d8f"/><rect x="817.2" y="620.0" width="87.6" height="1.5" fill="#e98083"/><rect x="817.2" y="621.5" width="87.6" height="1.5" fill="#e9777a"/><rect x="817.2" y="623.0" width="87.6" height="1.0" fill="#eb8d8f"/><rect x="817.2" y="624.0" width="87.6" height="1.0" fill="#e4e6f1"/><rect x="817.2" y="625.0" width="87.6" height="1.0" fill="#cacde4"/><rect x="817.2" y="626.0" width="87.6" height="0.5" fill="#e8222e"/><rect x="817.2" y="626.5" width="87.6" height="1.0" fill="#e82b36"/><rect x="817.2" y="627.5" width="87.6" height="1.0" fill="#e8353f"/><rect x="817.2" y="628.5" width="87.6" height="0.5" fill="#e8222e"/><rect x="817.2" y="629.0" width="87.6" height="0.5" fill="#e84850"/><rect x="817.2" y="629.5" width="87.6" height="5.0" fill="#e82b36"/><rect x="817.2" y="634.5" width="87.6" height="0.5" fill="#f6cccd"/><rect x="817.2" y="635.0" width="87.6" height="0.5" fill="#f4c0c1"/><rect x="817.2" y="635.5" width="87.6" height="1.0" fill="#f8d9da"/><rect x="817.2" y="636.5" width="87.6" height="1.0" fill="#7a83bb"/><rect x="817.2" y="637.5" width="87.6" height="1.0" fill="#878fc2"/><rect x="817.2" y="638.5" width="87.6" height="2.0" fill="#cacde4"/><rect x="817.2" y="640.5" width="87.6" height="1.0" fill="#878fc2"/><rect x="817.2" y="641.5" width="87.6" height="1.0" fill="#6170b2"/><rect x="817.2" y="642.5" width="87.6" height="0.5" fill="#6775b4"/><rect x="817.2" y="643.0" width="87.6" height="0.5" fill="#6170b2"/><rect x="817.2" y="643.5" width="87.6" height="0.5" fill="#5a6cb0"/><rect x="817.2" y="644.0" width="87.6" height="2.0" fill="#fdf2f3"/><rect x="817.2" y="646.0" width="87.6" height="1.0" fill="#e98083"/><rect x="817.2" y="647.0" width="87.6" height="2.0" fill="#f4c0c1"/><rect x="817.2" y="649.0" width="87.6" height="3.0" fill="#e98083"/><rect x="817.2" y="652.0" width="87.6" height="1.0" fill="#f2b3b5"/><rect x="817.2" y="653.0" width="87.6" height="2.5" fill="#e98083"/><rect x="817.2" y="655.5" width="87.6" height="1.5" fill="#878fc2"/><rect x="817.2" y="657.0" width="87.6" height="1.0" fill="#7a83bb"/><rect x="817.2" y="658.0" width="87.6" height="1.0" fill="#afb5d6"/><rect x="817.2" y="659.0" width="87.6" height="1.0" fill="#cacde4"/><rect x="817.2" y="660.0" width="87.6" height="0.5" fill="#fdf2f3"/><rect x="817.2" y="663.5" width="87.6" height="1.0" fill="#f8d9da"/><rect x="817.2" y="664.5" width="87.6" height="0.5" fill="#eb8d8f"/><rect x="817.2" y="665.0" width="87.6" height="2.0" fill="#f4c0c1"/><rect x="817.2" y="667.0" width="87.6" height="1.0" fill="#e98083"/><rect x="904.8" y="256.0" width="87.6" height="0.5" fill="#7a83bb"/><rect x="904.8" y="256.5" width="87.6" height="1.5" fill="#747eb9"/><rect x="904.8" y="258.0" width="87.6" height="1.0" fill="#fdf2f3"/><rect x="904.8" y="261.0" width="87.6" height="0.5" fill="#f6cccd"/><rect x="904.8" y="261.5" width="87.6" height="0.5" fill="#f4c0c1"/><rect x="904.8" y="262.0" width="87.6" height="0.5" fill="#fdf2f3"/><rect x="904.8" y="263.0" width="87.6" height="1.0" fill="#fdf2f3"/><rect x="904.8" y="264.0" width="87.6" height="1.5" fill="#f2b3b5"/><rect x="904.8" y="265.5" width="87.6" height="0.5" fill="#f6cccd"/><rect x="904.8" y="266.0" width="87.6" height="1.5" fill="#f2f3f8"/><rect x="904.8" y="267.5" width="87.6" height="0.5" fill="#fdf2f3"/><rect x="904.8" y="268.0" width="87.6" height="1.5" fill="#f4c0c1"/><rect x="904.8" y="270.5" width="87.6" height="1.0" fill="#fbe6e6"/><rect x="904.8" y="271.5" width="87.6" height="0.5" fill="#e98083"/><rect x="904.8" y="272.0" width="87.6" height="1.0" fill="#eb8d8f"/><rect x="904.8" y="273.0" width="87.6" height="1.0" fill="#fdf2f3"/><rect x="904.8" y="274.5" width="87.6" height="0.5" fill="#bcc1dd"/><rect x="904.8" y="275.0" width="87.6" height="0.5" fill="#cacde4"/><rect x="904.8" y="275.5" width="87.6" height="1.5" fill="#bcc1dd"/><rect x="904.8" y="277.0" width="87.6" height="0.5" fill="#d7daeb"/><rect x="904.8" y="277.5" width="87.6" height="3.0" fill="#cacde4"/><rect x="904.8" y="280.5" width="87.6" height="0.5" fill="#d7daeb"/><rect x="904.8" y="281.0" width="87.6" height="1.0" fill="#f8d9da"/><rect x="904.8" y="282.0" width="87.6" height="1.0" fill="#fbe6e6"/><rect x="904.8" y="283.0" width="87.6" height="0.5" fill="#7a83bb"/><rect x="904.8" y="283.5" width="87.6" height="1.0" fill="#878fc2"/><rect x="904.8" y="284.5" width="87.6" height="1.0" fill="#e4e6f1"/><rect x="904.8" y="285.5" width="87.6" height="1.5" fill="#f2f3f8"/><rect x="904.8" y="287.0" width="87.6" height="1.5" fill="#e9777a"/><rect x="904.8" y="288.5" width="87.6" height="1.5" fill="#f6cccd"/><rect x="904.8" y="290.0" width="87.6" height="2.0" fill="#f2f3f8"/><rect x="904.8" y="292.5" width="87.6" height="1.5" fill="#cacde4"/><rect x="904.8" y="294.0" width="87.6" height="1.0" fill="#fdf2f3"/><rect x="904.8" y="296.0" width="87.6" height="0.5" fill="#e96d72"/><rect x="904.8" y="296.5" width="87.6" height="1.5" fill="#e98083"/><rect x="904.8" y="298.0" width="87.6" height="1.5" fill="#f4c0c1"/><rect x="904.8" y="299.5" width="87.6" height="0.5" fill="#f6cccd"/><rect x="904.8" y="301.0" width="87.6" height="2.0" fill="#f2f3f8"/><rect x="904.8" y="303.0" width="87.6" height="1.5" fill="#6170b2"/><rect x="904.8" y="304.5" width="87.6" height="0.5" fill="#6d7ab6"/><rect x="904.8" y="305.0" width="87.6" height="1.0" fill="#6170b2"/><rect x="904.8" y="306.0" width="87.6" height="1.0" fill="#5a6cb0"/><rect x="904.8" y="307.0" width="87.6" height="1.0" fill="#7a83bb"/><rect x="904.8" y="308.0" width="87.6" height="0.5" fill="#747eb9"/><rect x="904.8" y="308.5" width="87.6" height="0.5" fill="#7a83bb"/><rect x="904.8" y="309.0" width="87.6" height="1.0" fill="#fdf2f3"/><rect x="904.8" y="311.0" width="87.6" height="1.0" fill="#f4c0c1"/><rect x="904.8" y="312.0" width="87.6" height="1.0" fill="#f6cccd"/><rect x="904.8" y="313.0" width="87.6" height="0.5" fill="#f2f3f8"/><rect x="904.8" y="315.0" width="87.6" height="1.0" fill="#afb5d6"/><rect x="904.8" y="316.0" width="87.6" height="1.0" fill="#7a83bb"/><rect x="904.8" y="317.0" width="87.6" height="2.5" fill="#878fc2"/><rect x="904.8" y="319.5" width="87.6" height="1.0" fill="#fbe6e6"/><rect x="904.8" y="321.5" width="87.6" height="1.0" fill="#f2f3f8"/><rect x="904.8" y="323.0" width="87.6" height="2.0" fill="#f2f3f8"/><rect x="904.8" y="325.0" width="87.6" height="1.5" fill="#bcc1dd"/><rect x="904.8" y="326.5" width="87.6" height="0.5" fill="#cacde4"/><rect x="904.8" y="327.0" width="87.6" height="0.5" fill="#f0a6a8"/><rect x="904.8" y="327.5" width="87.6" height="0.5" fill="#f8d9da"/><rect x="904.8" y="328.0" width="87.6" height="0.5" fill="#f6cccd"/><rect x="904.8" y="328.5" width="87.6" height="0.5" fill="#f2b3b5"/><rect x="904.8" y="329.0" width="87.6" height="3.5" fill="#f4c0c1"/><rect x="904.8" y="332.5" width="87.6" height="0.5" fill="#f6cccd"/><rect x="904.8" y="333.0" width="87.6" height="2.0" fill="#eb8d8f"/><rect x="904.8" y="335.0" width="87.6" height="1.0" fill="#e98083"/><rect x="904.8" y="337.5" width="87.6" height="1.0" fill="#bcc1dd"/><rect x="904.8" y="338.5" width="87.6" height="0.5" fill="#7a83bb"/><rect x="904.8" y="339.0" width="87.6" height="2.0" fill="#878fc2"/><rect x="904.8" y="341.0" width="87.6" height="2.0" fill="#fdf2f3"/><rect x="904.8" y="343.0" width="87.6" height="0.5" fill="#f6cccd"/><rect x="904.8" y="343.5" width="87.6" height="0.5" fill="#f2f3f8"/><rect x="904.8" y="344.0" width="87.6" height="1.0" fill="#6d7ab6"/><rect x="904.8" y="345.0" width="87.6" height="1.0" fill="#747eb9"/><rect x="904.8" y="346.0" width="87.6" height="0.5" fill="#6d7ab6"/><rect x="904.8" y="346.5" width="87.6" height="1.5" fill="#cacde4"/><rect x="904.8" y="348.0" width="87.6" height="1.0" fill="#bcc1dd"/><rect x="904.8" y="349.0" width="87.6" height="2.0" fill="#7a83bb"/><rect x="904.8" y="351.0" width="87.6" height="3.0" fill="#f2f3f8"/><rect x="904.8" y="354.0" width="87.6" height="1.5" fill="#bcc1dd"/><rect x="904.8" y="355.5" width="87.6" height="0.5" fill="#cacde4"/><rect x="904.8" y="356.0" width="87.6" height="0.5" fill="#bcc1dd"/><rect x="904.8" y="356.5" width="87.6" height="1.5" fill="#d7daeb"/><rect x="904.8" y="358.0" width="87.6" height="2.5" fill="#afb5d6"/><rect x="904.8" y="360.5" width="87.6" height="1.0" fill="#f2f3f8"/><rect x="904.8" y="362.0" width="87.6" height="1.0" fill="#f6cccd"/><rect x="904.8" y="363.0" width="87.6" height="1.0" fill="#f2f3f8"/><rect x="904.8" y="364.0" width="87.6" height="0.5" fill="#d7daeb"/><rect x="904.8" y="364.5" width="87.6" height="1.5" fill="#cacde4"/><rect x="904.8" y="366.0" width="87.6" height="0.5" fill="#5467ad"/><rect x="904.8" y="366.5" width="87.6" height="1.0" fill="#6775b4"/><rect x="904.8" y="367.5" width="87.6" height="0.5" fill="#6170b2"/><rect x="904.8" y="368.0" width="87.6" height="0.5" fill="#6d7ab6"/><rect x="904.8" y="368.5" width="87.6" height="0.5" fill="#6170b2"/><rect x="904.8" y="369.0" width="87.6" height="1.0" fill="#bcc1dd"/><rect x="904.8" y="370.0" width="87.6" height="0.5" fill="#cacde4"/><rect x="904.8" y="370.5" width="87.6" height="0.5" fill="#bcc1dd"/><rect x="904.8" y="371.0" width="87.6" height="0.5" fill="#fdf2f3"/><rect x="904.8" y="372.5" width="87.6" height="1.0" fill="#fdf2f3"/><rect x="904.8" y="374.5" width="87.6" height="1.0" fill="#f2f3f8"/><rect x="904.8" y="375.5" width="87.6" height="2.0" fill="#e98083"/><rect x="904.8" y="377.5" width="87.6" height="0.5" fill="#ed999c"/><rect x="904.8" y="378.0" width="87.6" height="1.0" fill="#e9777a"/><rect x="904.8" y="379.0" width="87.6" height="1.0" fill="#eb8d8f"/><rect x="904.8" y="380.0" width="87.6" height="0.5" fill="#ed999c"/><rect x="904.8" y="380.5" width="87.6" height="2.0" fill="#e8222e"/><rect x="904.8" y="382.5" width="87.6" height="1.0" fill="#e9777a"/><rect x="904.8" y="383.5" width="87.6" height="1.5" fill="#e98083"/><rect x="904.8" y="385.0" width="87.6" height="0.5" fill="#f0a6a8"/><rect x="904.8" y="385.5" width="87.6" height="0.5" fill="#e98083"/><rect x="904.8" y="386.0" width="87.6" height="1.5" fill="#e8353f"/><rect x="904.8" y="387.5" width="87.6" height="1.5" fill="#e9777a"/><rect x="904.8" y="389.0" width="87.6" height="1.0" fill="#e8353f"/><rect x="904.8" y="390.0" width="87.6" height="1.5" fill="#e9777a"/><rect x="904.8" y="391.5" width="87.6" height="1.0" fill="#e82b36"/><rect x="904.8" y="392.5" width="87.6" height="1.0" fill="#e8222e"/><rect x="904.8" y="393.5" width="87.6" height="0.5" fill="#e83e47"/><rect x="904.8" y="394.0" width="87.6" height="1.0" fill="#e82b36"/><rect x="904.8" y="395.0" width="87.6" height="1.5" fill="#e8353f"/><rect x="904.8" y="396.5" width="87.6" height="1.5" fill="#e8222e"/><rect x="904.8" y="398.0" width="87.6" height="2.0" fill="#e83e47"/><rect x="904.8" y="400.0" width="87.6" height="2.0" fill="#e98083"/><rect x="904.8" y="402.0" width="87.6" height="2.0" fill="#e83e47"/><rect x="904.8" y="404.0" width="87.6" height="1.0" fill="#eb8d8f"/><rect x="904.8" y="405.0" width="87.6" height="1.5" fill="#e98083"/><rect x="904.8" y="406.5" width="87.6" height="2.0" fill="#eb8d8f"/><rect x="904.8" y="408.5" width="87.6" height="3.5" fill="#f6cccd"/><rect x="904.8" y="412.0" width="87.6" height="1.0" fill="#fbe6e6"/><rect x="904.8" y="413.0" width="87.6" height="3.0" fill="#f6cccd"/><rect x="904.8" y="416.0" width="87.6" height="0.5" fill="#f0a6a8"/><rect x="904.8" y="416.5" width="87.6" height="0.5" fill="#f4c0c1"/><rect x="904.8" y="417.0" width="87.6" height="1.0" fill="#f6cccd"/><rect x="904.8" y="418.0" width="87.6" height="0.5" fill="#e8222e"/><rect x="904.8" y="418.5" width="87.6" height="2.0" fill="#e8353f"/><rect x="904.8" y="420.5" width="87.6" height="1.5" fill="#e82b36"/><rect x="904.8" y="422.0" width="87.6" height="0.5" fill="#e8222e"/><rect x="904.8" y="422.5" width="87.6" height="0.5" fill="#cacde4"/><rect x="904.8" y="423.0" width="87.6" height="1.5" fill="#f2f3f8"/><rect x="904.8" y="424.5" width="87.6" height="1.0" fill="#cacde4"/><rect x="904.8" y="425.5" width="87.6" height="1.0" fill="#d7daeb"/><rect x="904.8" y="426.5" width="87.6" height="1.0" fill="#eb8d8f"/><rect x="904.8" y="427.5" width="87.6" height="2.0" fill="#e98083"/><rect x="904.8" y="429.5" width="87.6" height="1.0" fill="#eb8d8f"/><rect x="904.8" y="430.5" width="87.6" height="2.0" fill="#ed999c"/><rect x="904.8" y="432.5" width="87.6" height="1.0" fill="#eb8d8f"/><rect x="904.8" y="433.5" width="87.6" height="1.0" fill="#e8353f"/><rect x="904.8" y="434.5" width="87.6" height="2.0" fill="#e83e47"/><rect x="904.8" y="436.5" width="87.6" height="0.5" fill="#e9777a"/><rect x="904.8" y="437.0" width="87.6" height="1.0" fill="#f6cccd"/><rect x="904.8" y="438.0" width="87.6" height="3.0" fill="#fdf2f3"/><rect x="904.8" y="441.0" width="87.6" height="0.5" fill="#f6cccd"/><rect x="904.8" y="441.5" width="87.6" height="0.5" fill="#bcc1dd"/><rect x="904.8" y="442.0" width="87.6" height="0.5" fill="#cacde4"/><rect x="904.8" y="442.5" width="87.6" height="0.5" fill="#bcc1dd"/><rect x="904.8" y="443.0" width="87.6" height="0.5" fill="#cacde4"/><rect x="904.8" y="443.5" width="87.6" height="1.5" fill="#afb5d6"/><rect x="904.8" y="445.0" width="87.6" height="3.5" fill="#959cc9"/><rect x="904.8" y="448.5" width="87.6" height="1.0" fill="#878fc2"/><rect x="904.8" y="449.5" width="87.6" height="1.5" fill="#a2a8cf"/><rect x="904.8" y="451.0" width="87.6" height="1.0" fill="#878fc2"/><rect x="904.8" y="452.0" width="87.6" height="0.5" fill="#afb5d6"/><rect x="904.8" y="452.5" width="87.6" height="1.0" fill="#7a83bb"/><rect x="904.8" y="453.5" width="87.6" height="1.5" fill="#959cc9"/><rect x="904.8" y="455.0" width="87.6" height="0.5" fill="#d7daeb"/><rect x="904.8" y="457.5" width="87.6" height="0.5" fill="#fdf2f3"/><rect x="904.8" y="458.0" width="87.6" height="0.5" fill="#6170b2"/><rect x="904.8" y="458.5" width="87.6" height="1.0" fill="#5a6cb0"/><rect x="904.8" y="459.5" width="87.6" height="0.5" fill="#6170b2"/><rect x="904.8" y="460.0" width="87.6" height="0.5" fill="#5a6cb0"/><rect x="904.8" y="460.5" width="87.6" height="0.5" fill="#6170b2"/><rect x="904.8" y="461.0" width="87.6" height="0.5" fill="#5a6cb0"/><rect x="904.8" y="461.5" width="87.6" height="1.5" fill="#959cc9"/><rect x="904.8" y="463.0" width="87.6" height="1.0" fill="#afb5d6"/><rect x="904.8" y="464.0" width="87.6" height="1.5" fill="#747eb9"/><rect x="904.8" y="465.5" width="87.6" height="1.0" fill="#7a83bb"/><rect x="904.8" y="466.5" width="87.6" height="1.5" fill="#cacde4"/><rect x="904.8" y="468.0" width="87.6" height="1.5" fill="#7a83bb"/><rect x="904.8" y="469.5" width="87.6" height="1.0" fill="#bcc1dd"/><rect x="904.8" y="470.5" width="87.6" height="1.0" fill="#747eb9"/><rect x="904.8" y="471.5" width="87.6" height="0.5" fill="#cacde4"/><rect x="904.8" y="474.5" width="87.6" height="1.0" fill="#f6cccd"/><rect x="904.8" y="475.5" width="87.6" height="1.0" fill="#f2b3b5"/><rect x="904.8" y="476.5" width="87.6" height="0.5" fill="#7a83bb"/><rect x="904.8" y="477.0" width="87.6" height="1.0" fill="#878fc2"/><rect x="904.8" y="478.0" width="87.6" height="1.0" fill="#7a83bb"/><rect x="904.8" y="479.0" width="87.6" height="1.5" fill="#878fc2"/><rect x="904.8" y="480.5" width="87.6" height="1.0" fill="#747eb9"/><rect x="904.8" y="481.5" width="87.6" height="0.5" fill="#d7daeb"/><rect x="904.8" y="483.5" width="87.6" height="0.5" fill="#e4e6f1"/><rect x="904.8" y="485.0" width="87.6" height="1.0" fill="#f2f3f8"/><rect x="904.8" y="486.0" width="87.6" height="3.0" fill="#f6cccd"/><rect x="904.8" y="489.0" width="87.6" height="1.5" fill="#e9777a"/><rect x="904.8" y="490.5" width="87.6" height="0.5" fill="#f4c0c1"/><rect x="904.8" y="491.0" width="87.6" height="1.0" fill="#f8d9da"/><rect x="904.8" y="492.0" width="87.6" height="0.5" fill="#f6cccd"/><rect x="904.8" y="492.5" width="87.6" height="1.0" fill="#f8d9da"/><rect x="904.8" y="493.5" width="87.6" height="1.5" fill="#f6cccd"/><rect x="904.8" y="496.0" width="87.6" height="1.0" fill="#f6cccd"/><rect x="904.8" y="497.0" width="87.6" height="1.5" fill="#f4c0c1"/><rect x="904.8" y="498.5" width="87.6" height="0.5" fill="#f8d9da"/><rect x="904.8" y="499.0" width="87.6" height="0.5" fill="#f6cccd"/><rect x="904.8" y="499.5" width="87.6" height="0.5" fill="#f4c0c1"/><rect x="904.8" y="500.0" width="87.6" height="0.5" fill="#f2b3b5"/><rect x="904.8" y="500.5" width="87.6" height="1.0" fill="#7a83bb"/><rect x="904.8" y="501.5" width="87.6" height="1.5" fill="#bcc1dd"/><rect x="904.8" y="503.0" width="87.6" height="1.0" fill="#7a83bb"/><rect x="904.8" y="504.0" width="87.6" height="0.5" fill="#cacde4"/><rect x="904.8" y="504.5" width="87.6" height="1.0" fill="#7a83bb"/><rect x="904.8" y="506.5" width="87.6" height="1.0" fill="#f2f3f8"/><rect x="904.8" y="507.5" width="87.6" height="2.5" fill="#afb5d6"/><rect x="904.8" y="510.0" width="87.6" height="0.5" fill="#7a83bb"/><rect x="904.8" y="510.5" width="87.6" height="1.5" fill="#bcc1dd"/><rect x="904.8" y="512.0" width="87.6" height="1.0" fill="#7a83bb"/><rect x="904.8" y="513.0" width="87.6" height="0.5" fill="#959cc9"/><rect x="904.8" y="513.5" width="87.6" height="2.0" fill="#7a83bb"/><rect x="904.8" y="515.5" width="87.6" height="0.5" fill="#afb5d6"/><rect x="904.8" y="516.0" width="87.6" height="3.5" fill="#bcc1dd"/><rect x="904.8" y="519.5" width="87.6" height="1.0" fill="#7a83bb"/><rect x="904.8" y="520.5" width="87.6" height="2.0" fill="#878fc2"/><rect x="904.8" y="522.5" width="87.6" height="0.5" fill="#6d7ab6"/><rect x="904.8" y="523.0" width="87.6" height="1.0" fill="#878fc2"/><rect x="904.8" y="524.0" width="87.6" height="2.5" fill="#7a83bb"/><rect x="904.8" y="526.5" width="87.6" height="0.5" fill="#e4e6f1"/><rect x="904.8" y="530.0" width="87.6" height="1.5" fill="#7a83bb"/><rect x="904.8" y="531.5" width="87.6" height="0.5" fill="#afb5d6"/><rect x="904.8" y="532.0" width="87.6" height="1.5" fill="#878fc2"/><rect x="904.8" y="533.5" width="87.6" height="0.5" fill="#a2a8cf"/><rect x="904.8" y="534.0" width="87.6" height="2.0" fill="#afb5d6"/><rect x="904.8" y="536.0" width="87.6" height="1.5" fill="#bcc1dd"/><rect x="904.8" y="537.5" width="87.6" height="0.5" fill="#7a83bb"/><rect x="904.8" y="538.0" width="87.6" height="1.0" fill="#5a6cb0"/><rect x="904.8" y="539.0" width="87.6" height="0.5" fill="#6d7ab6"/><rect x="904.8" y="539.5" width="87.6" height="2.5" fill="#6170b2"/><rect x="904.8" y="542.0" width="87.6" height="0.5" fill="#5467ad"/><rect x="904.8" y="542.5" width="87.6" height="1.5" fill="#cacde4"/><rect x="904.8" y="544.0" width="87.6" height="0.5" fill="#afb5d6"/><rect x="904.8" y="544.5" width="87.6" height="0.5" fill="#bcc1dd"/><rect x="904.8" y="545.0" width="87.6" height="1.0" fill="#d7daeb"/><rect x="904.8" y="546.0" width="87.6" height="1.5" fill="#f2b3b5"/><rect x="904.8" y="547.5" width="87.6" height="0.5" fill="#f8d9da"/><rect x="904.8" y="548.0" width="87.6" height="0.5" fill="#d7daeb"/><rect x="904.8" y="548.5" width="87.6" height="1.5" fill="#afb5d6"/><rect x="904.8" y="550.0" width="87.6" height="1.0" fill="#a2a8cf"/><rect x="904.8" y="551.0" width="87.6" height="1.0" fill="#f8d9da"/><rect x="904.8" y="552.0" width="87.6" height="1.0" fill="#eb8d8f"/><rect x="904.8" y="553.0" width="87.6" height="1.0" fill="#e9777a"/><rect x="904.8" y="554.0" width="87.6" height="1.0" fill="#e98083"/><rect x="904.8" y="555.0" width="87.6" height="0.5" fill="#eb8d8f"/><rect x="904.8" y="555.5" width="87.6" height="2.0" fill="#e98083"/><rect x="904.8" y="557.5" width="87.6" height="1.0" fill="#ed999c"/><rect x="904.8" y="558.5" width="87.6" height="0.5" fill="#e9777a"/><rect x="904.8" y="559.0" width="87.6" height="1.5" fill="#bcc1dd"/><rect x="904.8" y="560.5" width="87.6" height="2.0" fill="#959cc9"/><rect x="904.8" y="562.5" width="87.6" height="1.5" fill="#a2a8cf"/><rect x="904.8" y="564.0" width="87.6" height="1.0" fill="#747eb9"/><rect x="904.8" y="565.0" width="87.6" height="1.0" fill="#878fc2"/><rect x="904.8" y="566.0" width="87.6" height="1.5" fill="#f6cccd"/><rect x="904.8" y="567.5" width="87.6" height="1.5" fill="#f4c0c1"/><rect x="904.8" y="569.0" width="87.6" height="3.0" fill="#fdf2f3"/><rect x="904.8" y="572.0" width="87.6" height="0.5" fill="#e96d72"/><rect x="904.8" y="572.5" width="87.6" height="1.0" fill="#f4c0c1"/><rect x="904.8" y="573.5" width="87.6" height="1.0" fill="#f6cccd"/><rect x="904.8" y="574.5" width="87.6" height="1.5" fill="#f4c0c1"/><rect x="904.8" y="576.0" width="87.6" height="0.5" fill="#f6cccd"/><rect x="904.8" y="576.5" width="87.6" height="1.5" fill="#f8d9da"/><rect x="904.8" y="578.0" width="87.6" height="0.5" fill="#f6cccd"/><rect x="904.8" y="578.5" width="87.6" height="2.0" fill="#f4c0c1"/><rect x="904.8" y="580.5" width="87.6" height="2.0" fill="#fdf2f3"/><rect x="904.8" y="583.0" width="87.6" height="1.5" fill="#e9777a"/><rect x="904.8" y="584.5" width="87.6" height="0.5" fill="#e98083"/><rect x="904.8" y="585.0" width="87.6" height="1.5" fill="#f4c0c1"/><rect x="904.8" y="586.5" width="87.6" height="1.0" fill="#5a6cb0"/><rect x="904.8" y="587.5" width="87.6" height="1.5" fill="#7a83bb"/><rect x="904.8" y="589.0" width="87.6" height="1.0" fill="#878fc2"/><rect x="904.8" y="590.0" width="87.6" height="1.0" fill="#6775b4"/><rect x="904.8" y="591.0" width="87.6" height="1.0" fill="#7a83bb"/><rect x="904.8" y="592.0" width="87.6" height="0.5" fill="#6170b2"/><rect x="904.8" y="592.5" width="87.6" height="1.5" fill="#d7daeb"/><rect x="904.8" y="594.0" width="87.6" height="0.5" fill="#cacde4"/><rect x="904.8" y="594.5" width="87.6" height="1.5" fill="#bcc1dd"/><rect x="904.8" y="596.0" width="87.6" height="0.5" fill="#d7daeb"/><rect x="904.8" y="596.5" width="87.6" height="2.5" fill="#bcc1dd"/><rect x="904.8" y="599.0" width="87.6" height="1.5" fill="#959cc9"/><rect x="904.8" y="600.5" width="87.6" height="1.0" fill="#6d7ab6"/><rect x="904.8" y="601.5" width="87.6" height="1.5" fill="#878fc2"/><rect x="904.8" y="603.0" width="87.6" height="0.5" fill="#959cc9"/><rect x="904.8" y="603.5" width="87.6" height="1.0" fill="#878fc2"/><rect x="904.8" y="604.5" width="87.6" height="1.0" fill="#a2a8cf"/><rect x="904.8" y="605.5" width="87.6" height="0.5" fill="#7a83bb"/><rect x="904.8" y="606.0" width="87.6" height="1.5" fill="#747eb9"/><rect x="904.8" y="607.5" width="87.6" height="2.0" fill="#afb5d6"/><rect x="904.8" y="612.5" width="87.6" height="1.0" fill="#fdf2f3"/><rect x="904.8" y="613.5" width="87.6" height="1.0" fill="#fbe6e6"/><rect x="904.8" y="614.5" width="87.6" height="0.5" fill="#f4c0c1"/><rect x="904.8" y="615.0" width="87.6" height="1.5" fill="#f6cccd"/><rect x="904.8" y="616.5" width="87.6" height="0.5" fill="#ed999c"/><rect x="904.8" y="617.0" width="87.6" height="4.5" fill="#e98083"/><rect x="904.8" y="621.5" width="87.6" height="2.5" fill="#eb8d8f"/><rect x="904.8" y="624.0" width="87.6" height="0.5" fill="#f2f3f8"/><rect x="904.8" y="624.5" width="87.6" height="1.5" fill="#fdf2f3"/><rect x="904.8" y="626.0" width="87.6" height="0.5" fill="#ed999c"/><rect x="904.8" y="626.5" width="87.6" height="1.5" fill="#f2b3b5"/><rect x="904.8" y="628.0" width="87.6" height="1.5" fill="#f4c0c1"/><rect x="904.8" y="629.5" width="87.6" height="1.5" fill="#f6cccd"/><rect x="904.8" y="631.0" width="87.6" height="2.0" fill="#eb8d8f"/><rect x="904.8" y="633.0" width="87.6" height="2.0" fill="#7a83bb"/><rect x="904.8" y="635.0" width="87.6" height="1.0" fill="#bcc1dd"/><rect x="904.8" y="636.0" width="87.6" height="1.5" fill="#d7daeb"/><rect x="904.8" y="637.5" width="87.6" height="1.5" fill="#cacde4"/><rect x="904.8" y="639.0" width="87.6" height="1.5" fill="#f4c0c1"/><rect x="904.8" y="640.5" width="87.6" height="1.5" fill="#f2b3b5"/><rect x="904.8" y="642.0" width="87.6" height="1.0" fill="#bcc1dd"/><rect x="904.8" y="643.0" width="87.6" height="1.0" fill="#f4c0c1"/><rect x="904.8" y="644.0" width="87.6" height="1.0" fill="#6d7ab6"/><rect x="904.8" y="645.0" width="87.6" height="1.0" fill="#a2a8cf"/><rect x="904.8" y="646.0" width="87.6" height="1.5" fill="#7a83bb"/><rect x="904.8" y="647.5" width="87.6" height="0.5" fill="#a2a8cf"/><rect x="904.8" y="648.0" width="87.6" height="1.0" fill="#878fc2"/><rect x="904.8" y="649.0" width="87.6" height="0.5" fill="#959cc9"/><rect x="904.8" y="649.5" width="87.6" height="4.0" fill="#e98083"/><rect x="904.8" y="653.5" width="87.6" height="1.5" fill="#eb8d8f"/><rect x="904.8" y="655.0" width="87.6" height="1.5" fill="#e98083"/><rect x="904.8" y="656.5" width="87.6" height="0.5" fill="#959cc9"/><rect x="904.8" y="657.0" width="87.6" height="1.0" fill="#747eb9"/><rect x="904.8" y="658.0" width="87.6" height="0.5" fill="#878fc2"/><rect x="904.8" y="658.5" width="87.6" height="0.5" fill="#959cc9"/><rect x="904.8" y="659.0" width="87.6" height="1.0" fill="#7a83bb"/><rect x="904.8" y="660.0" width="87.6" height="1.5" fill="#cacde4"/><rect x="904.8" y="661.5" width="87.6" height="1.0" fill="#d7daeb"/><rect x="904.8" y="662.5" width="87.6" height="1.5" fill="#a2a8cf"/><rect x="904.8" y="664.0" width="87.6" height="1.0" fill="#afb5d6"/><rect x="904.8" y="665.0" width="87.6" height="1.0" fill="#e8222e"/><rect x="904.8" y="666.0" width="87.6" height="0.5" fill="#e8222e"/><rect x="904.8" y="666.5" width="87.6" height="1.5" fill="#e82b36"/><rect x="992.4" y="256.0" width="87.6" height="0.5" fill="#e8353f"/><rect x="992.4" y="256.5" width="87.6" height="1.5" fill="#e82b36"/><rect x="992.4" y="258.0" width="87.6" height="0.5" fill="#e8353f"/><rect x="992.4" y="258.5" width="87.6" height="1.0" fill="#e83e47"/><rect x="992.4" y="259.5" width="87.6" height="1.0" fill="#e8353f"/><rect x="992.4" y="260.5" width="87.6" height="0.5" fill="#e8222e"/><rect x="992.4" y="261.0" width="87.6" height="1.0" fill="#eb8d8f"/><rect x="992.4" y="262.0" width="87.6" height="1.0" fill="#e98083"/><rect x="992.4" y="263.0" width="87.6" height="1.0" fill="#ed999c"/><rect x="992.4" y="264.0" width="87.6" height="1.0" fill="#f8d9da"/><rect x="992.4" y="265.0" width="87.6" height="0.5" fill="#f2b3b5"/><rect x="992.4" y="265.5" width="87.6" height="0.5" fill="#f6cccd"/><rect x="992.4" y="266.0" width="87.6" height="0.5" fill="#f2f3f8"/><rect x="992.4" y="267.0" width="87.6" height="0.5" fill="#fdf2f3"/><rect x="992.4" y="268.0" width="87.6" height="1.0" fill="#f4c0c1"/><rect x="992.4" y="269.0" width="87.6" height="0.5" fill="#e98083"/><rect x="992.4" y="269.5" width="87.6" height="0.5" fill="#f6cccd"/><rect x="992.4" y="270.0" width="87.6" height="2.0" fill="#f8d9da"/><rect x="992.4" y="272.0" width="87.6" height="0.5" fill="#f6cccd"/><rect x="992.4" y="272.5" width="87.6" height="1.0" fill="#f2b3b5"/><rect x="992.4" y="273.5" width="87.6" height="0.5" fill="#f8d9da"/><rect x="992.4" y="274.0" width="87.6" height="1.0" fill="#f2f3f8"/><rect x="992.4" y="276.0" width="87.6" height="1.0" fill="#fdf2f3"/><rect x="992.4" y="277.0" width="87.6" height="1.5" fill="#e83e47"/><rect x="992.4" y="278.5" width="87.6" height="0.5" fill="#e82b36"/><rect x="992.4" y="279.0" width="87.6" height="1.0" fill="#e8353f"/><rect x="992.4" y="280.0" width="87.6" height="1.5" fill="#e83e47"/><rect x="992.4" y="281.5" width="87.6" height="1.5" fill="#e8222e"/><rect x="992.4" y="283.0" width="87.6" height="0.5" fill="#e82b36"/><rect x="992.4" y="283.5" width="87.6" height="1.0" fill="#e8353f"/><rect x="992.4" y="284.5" width="87.6" height="0.5" fill="#e82b36"/><rect x="992.4" y="285.0" width="87.6" height="1.0" fill="#e9777a"/><rect x="992.4" y="286.0" width="87.6" height="1.0" fill="#eb8d8f"/><rect x="992.4" y="287.0" width="87.6" height="2.0" fill="#e98083"/><rect x="992.4" y="289.0" width="87.6" height="0.5" fill="#e8222e"/><rect x="992.4" y="289.5" width="87.6" height="2.0" fill="#e8353f"/><rect x="992.4" y="291.5" width="87.6" height="1.5" fill="#e82b36"/><rect x="992.4" y="293.0" width="87.6" height="0.5" fill="#e9777a"/><rect x="992.4" y="293.5" width="87.6" height="2.5" fill="#eb8d8f"/><rect x="992.4" y="296.0" width="87.6" height="1.0" fill="#f4c0c1"/><rect x="992.4" y="297.0" width="87.6" height="0.5" fill="#fbe6e6"/><rect x="992.4" y="297.5" width="87.6" height="0.5" fill="#f2b3b5"/><rect x="992.4" y="298.0" width="87.6" height="1.0" fill="#f4c0c1"/><rect x="992.4" y="299.0" width="87.6" height="1.0" fill="#f6cccd"/><rect x="992.4" y="300.0" width="87.6" height="0.5" fill="#f2b3b5"/><rect x="992.4" y="300.5" width="87.6" height="1.0" fill="#fdf2f3"/><rect x="992.4" y="302.0" width="87.6" height="1.0" fill="#f6cccd"/><rect x="992.4" y="303.0" width="87.6" height="0.5" fill="#f4c0c1"/><rect x="992.4" y="303.5" width="87.6" height="0.5" fill="#f0a6a8"/><rect x="992.4" y="304.0" width="87.6" height="1.5" fill="#f2f3f8"/><rect x="992.4" y="308.0" width="87.6" height="2.0" fill="#f6cccd"/><rect x="992.4" y="310.0" width="87.6" height="1.5" fill="#e9777a"/><rect x="992.4" y="311.5" width="87.6" height="1.5" fill="#eb8d8f"/><rect x="992.4" y="313.0" width="87.6" height="1.5" fill="#f6cccd"/><rect x="992.4" y="314.5" width="87.6" height="0.5" fill="#fdf2f3"/><rect x="992.4" y="315.0" width="87.6" height="1.0" fill="#f4c0c1"/><rect x="992.4" y="316.0" width="87.6" height="1.0" fill="#f2b3b5"/><rect x="992.4" y="317.0" width="87.6" height="1.5" fill="#f8d9da"/><rect x="992.4" y="318.5" width="87.6" height="0.5" fill="#f2b3b5"/><rect x="992.4" y="319.5" width="87.6" height="1.5" fill="#fdf2f3"/><rect x="992.4" y="321.0" width="87.6" height="0.5" fill="#eb8d8f"/><rect x="992.4" y="321.5" width="87.6" height="1.5" fill="#e98083"/><rect x="992.4" y="323.0" width="87.6" height="2.0" fill="#eb8d8f"/><rect x="992.4" y="325.0" width="87.6" height="1.0" fill="#e98083"/><rect x="992.4" y="326.0" width="87.6" height="0.5" fill="#f6cccd"/><rect x="992.4" y="326.5" width="87.6" height="0.5" fill="#f8d9da"/><rect x="992.4" y="327.0" width="87.6" height="0.5" fill="#f4c0c1"/><rect x="992.4" y="327.5" width="87.6" height="0.5" fill="#f8d9da"/><rect x="992.4" y="328.0" width="87.6" height="1.5" fill="#f2f3f8"/><rect x="992.4" y="329.5" width="87.6" height="1.5" fill="#f4c0c1"/><rect x="992.4" y="331.0" width="87.6" height="3.0" fill="#e98083"/><rect x="992.4" y="334.0" width="87.6" height="2.0" fill="#e9777a"/><rect x="992.4" y="336.0" width="87.6" height="1.0" fill="#e98083"/><rect x="992.4" y="337.0" width="87.6" height="1.5" fill="#ed999c"/><rect x="992.4" y="338.5" width="87.6" height="0.5" fill="#f6cccd"/><rect x="992.4" y="339.0" width="87.6" height="1.0" fill="#f4c0c1"/><rect x="992.4" y="340.0" width="87.6" height="1.0" fill="#f8d9da"/><rect x="992.4" y="341.0" width="87.6" height="1.0" fill="#f6cccd"/><rect x="992.4" y="342.0" width="87.6" height="0.5" fill="#f4c0c1"/><rect x="992.4" y="342.5" width="87.6" height="1.5" fill="#f2f3f8"/><rect x="992.4" y="344.0" width="87.6" height="1.5" fill="#fdf2f3"/><rect x="992.4" y="345.5" width="87.6" height="1.5" fill="#e9777a"/><rect x="992.4" y="347.0" width="87.6" height="0.5" fill="#e96d72"/><rect x="992.4" y="347.5" width="87.6" height="1.5" fill="#e9777a"/><rect x="992.4" y="349.0" width="87.6" height="0.5" fill="#f0a6a8"/><rect x="992.4" y="349.5" width="87.6" height="1.0" fill="#e96d72"/><rect x="992.4" y="350.5" width="87.6" height="0.5" fill="#ed999c"/><rect x="992.4" y="351.0" width="87.6" height="0.5" fill="#e98083"/><rect x="992.4" y="351.5" width="87.6" height="1.0" fill="#e96d72"/><rect x="992.4" y="352.5" width="87.6" height="1.5" fill="#e98083"/><rect x="992.4" y="354.0" width="87.6" height="1.0" fill="#ed999c"/><rect x="992.4" y="355.0" width="87.6" height="1.5" fill="#e9777a"/><rect x="992.4" y="356.5" width="87.6" height="1.0" fill="#ed999c"/><rect x="992.4" y="357.5" width="87.6" height="1.0" fill="#e8353f"/><rect x="992.4" y="358.5" width="87.6" height="1.0" fill="#e82b36"/><rect x="992.4" y="359.5" width="87.6" height="1.0" fill="#fbe6e6"/><rect x="992.4" y="360.5" width="87.6" height="1.5" fill="#f2f3f8"/><rect x="992.4" y="362.0" width="87.6" height="1.5" fill="#fdf2f3"/><rect x="992.4" y="363.5" width="87.6" height="1.5" fill="#f4c0c1"/><rect x="992.4" y="365.0" width="87.6" height="0.5" fill="#f6cccd"/><rect x="992.4" y="365.5" width="87.6" height="1.0" fill="#f8d9da"/><rect x="992.4" y="366.5" width="87.6" height="1.5" fill="#f4c0c1"/><rect x="992.4" y="368.0" width="87.6" height="0.5" fill="#f6cccd"/><rect x="992.4" y="368.5" width="87.6" height="0.5" fill="#f2b3b5"/><rect x="992.4" y="369.0" width="87.6" height="2.0" fill="#f4c0c1"/><rect x="992.4" y="371.0" width="87.6" height="1.0" fill="#fdf2f3"/><rect x="992.4" y="372.0" width="87.6" height="1.5" fill="#d7daeb"/><rect x="992.4" y="373.5" width="87.6" height="1.0" fill="#f8d9da"/><rect x="992.4" y="374.5" width="87.6" height="1.5" fill="#e98083"/><rect x="992.4" y="376.0" width="87.6" height="1.5" fill="#e9777a"/><rect x="992.4" y="377.5" width="87.6" height="0.5" fill="#ed999c"/><rect x="992.4" y="378.0" width="87.6" height="0.5" fill="#e9646a"/><rect x="992.4" y="378.5" width="87.6" height="2.5" fill="#e98083"/><rect x="992.4" y="381.0" width="87.6" height="0.5" fill="#e9777a"/><rect x="992.4" y="381.5" width="87.6" height="0.5" fill="#f2f3f8"/><rect x="992.4" y="384.0" width="87.6" height="1.0" fill="#e82b36"/><rect x="992.4" y="385.0" width="87.6" height="1.5" fill="#e83e47"/><rect x="992.4" y="386.5" width="87.6" height="1.0" fill="#e8222e"/><rect x="992.4" y="387.5" width="87.6" height="6.0" fill="#e98083"/><rect x="992.4" y="393.5" width="87.6" height="1.5" fill="#f4c0c1"/><rect x="992.4" y="395.0" width="87.6" height="0.5" fill="#f6cccd"/><rect x="992.4" y="395.5" width="87.6" height="1.5" fill="#e98083"/><rect x="992.4" y="397.0" width="87.6" height="1.0" fill="#eb8d8f"/><rect x="992.4" y="398.0" width="87.6" height="0.5" fill="#f2b3b5"/><rect x="992.4" y="398.5" width="87.6" height="0.5" fill="#fbe6e6"/><rect x="992.4" y="399.0" width="87.6" height="1.0" fill="#f4c0c1"/><rect x="992.4" y="400.0" width="87.6" height="0.5" fill="#f2b3b5"/><rect x="992.4" y="400.5" width="87.6" height="0.5" fill="#f4c0c1"/><rect x="992.4" y="401.0" width="87.6" height="0.5" fill="#f2b3b5"/><rect x="992.4" y="401.5" width="87.6" height="2.0" fill="#f4c0c1"/><rect x="992.4" y="403.5" width="87.6" height="0.5" fill="#f2b3b5"/><rect x="992.4" y="404.0" width="87.6" height="1.0" fill="#f0a6a8"/><rect x="992.4" y="405.0" width="87.6" height="1.0" fill="#f4c0c1"/><rect x="992.4" y="406.0" width="87.6" height="1.0" fill="#eb8d8f"/><rect x="992.4" y="407.0" width="87.6" height="1.5" fill="#e98083"/><rect x="992.4" y="408.5" width="87.6" height="1.5" fill="#e9777a"/><rect x="992.4" y="410.0" width="87.6" height="0.5" fill="#eb8d8f"/><rect x="992.4" y="410.5" width="87.6" height="1.0" fill="#e98083"/><rect x="992.4" y="411.5" width="87.6" height="1.0" fill="#f4c0c1"/><rect x="992.4" y="412.5" width="87.6" height="0.5" fill="#eb8d8f"/><rect x="992.4" y="413.0" width="87.6" height="0.5" fill="#f2b3b5"/><rect x="992.4" y="413.5" width="87.6" height="1.5" fill="#f8d9da"/><rect x="992.4" y="415.0" width="87.6" height="1.0" fill="#ed999c"/><rect x="992.4" y="416.0" width="87.6" height="1.0" fill="#e83e47"/><rect x="992.4" y="417.0" width="87.6" height="2.0" fill="#e8353f"/><rect x="992.4" y="419.0" width="87.6" height="2.0" fill="#f4c0c1"/><rect x="992.4" y="421.0" width="87.6" height="1.0" fill="#e98083"/><rect x="992.4" y="422.0" width="87.6" height="1.0" fill="#f8d9da"/><rect x="992.4" y="423.0" width="87.6" height="1.0" fill="#e98083"/><rect x="992.4" y="424.0" width="87.6" height="1.0" fill="#eb8d8f"/><rect x="992.4" y="425.0" width="87.6" height="0.5" fill="#e9777a"/><rect x="992.4" y="425.5" width="87.6" height="2.0" fill="#f6cccd"/><rect x="992.4" y="427.5" width="87.6" height="0.5" fill="#ed999c"/><rect x="992.4" y="428.0" width="87.6" height="1.5" fill="#f8d9da"/><rect x="992.4" y="429.5" width="87.6" height="0.5" fill="#f6cccd"/><rect x="992.4" y="430.0" width="87.6" height="2.0" fill="#7a83bb"/><rect x="992.4" y="432.0" width="87.6" height="2.5" fill="#959cc9"/><rect x="992.4" y="434.5" width="87.6" height="0.5" fill="#7a83bb"/><rect x="992.4" y="435.0" width="87.6" height="1.0" fill="#747eb9"/><rect x="992.4" y="437.0" width="87.6" height="0.5" fill="#f2f3f8"/><rect x="992.4" y="437.5" width="87.6" height="0.5" fill="#fdf2f3"/><rect x="992.4" y="438.0" width="87.6" height="0.5" fill="#f6cccd"/><rect x="992.4" y="438.5" width="87.6" height="1.0" fill="#e9777a"/><rect x="992.4" y="439.5" width="87.6" height="3.5" fill="#e98083"/><rect x="992.4" y="443.0" width="87.6" height="1.0" fill="#e4e6f1"/><rect x="992.4" y="444.0" width="87.6" height="0.5" fill="#fdf2f3"/><rect x="992.4" y="445.5" width="87.6" height="1.0" fill="#fdf2f3"/><rect x="992.4" y="446.5" width="87.6" height="1.0" fill="#fbe6e6"/><rect x="992.4" y="448.5" width="87.6" height="1.0" fill="#afb5d6"/><rect x="992.4" y="449.5" width="87.6" height="0.5" fill="#959cc9"/><rect x="992.4" y="450.0" width="87.6" height="2.5" fill="#7a83bb"/><rect x="992.4" y="452.5" width="87.6" height="0.5" fill="#afb5d6"/><rect x="992.4" y="453.0" width="87.6" height="0.5" fill="#878fc2"/><rect x="992.4" y="453.5" width="87.6" height="0.5" fill="#f8d9da"/><rect x="992.4" y="454.0" width="87.6" height="0.5" fill="#f6cccd"/><rect x="992.4" y="454.5" width="87.6" height="1.5" fill="#f4c0c1"/><rect x="992.4" y="456.0" width="87.6" height="1.0" fill="#f8d9da"/><rect x="992.4" y="457.0" width="87.6" height="1.0" fill="#fdf2f3"/><rect x="992.4" y="458.0" width="87.6" height="1.0" fill="#f2f3f8"/><rect x="992.4" y="459.0" width="87.6" height="1.0" fill="#cacde4"/><rect x="992.4" y="460.0" width="87.6" height="1.0" fill="#bcc1dd"/><rect x="992.4" y="461.0" width="87.6" height="0.5" fill="#d7daeb"/><rect x="992.4" y="461.5" width="87.6" height="0.5" fill="#afb5d6"/><rect x="992.4" y="462.0" width="87.6" height="1.5" fill="#bcc1dd"/><rect x="992.4" y="463.5" width="87.6" height="0.5" fill="#cacde4"/><rect x="992.4" y="464.0" width="87.6" height="1.5" fill="#bcc1dd"/><rect x="992.4" y="465.5" width="87.6" height="0.5" fill="#afb5d6"/><rect x="992.4" y="466.0" width="87.6" height="0.5" fill="#f6cccd"/><rect x="992.4" y="466.5" width="87.6" height="1.0" fill="#f4c0c1"/><rect x="992.4" y="467.5" width="87.6" height="1.0" fill="#f2b3b5"/><rect x="992.4" y="468.5" width="87.6" height="1.0" fill="#f2f3f8"/><rect x="992.4" y="469.5" width="87.6" height="1.5" fill="#fbe6e6"/><rect x="992.4" y="471.0" width="87.6" height="2.5" fill="#fdf2f3"/><rect x="992.4" y="473.5" width="87.6" height="1.0" fill="#e4e6f1"/><rect x="992.4" y="474.5" width="87.6" height="0.5" fill="#f2b3b5"/><rect x="992.4" y="475.0" width="87.6" height="3.0" fill="#f4c0c1"/><rect x="992.4" y="478.0" width="87.6" height="1.5" fill="#cacde4"/><rect x="992.4" y="479.5" width="87.6" height="1.0" fill="#bcc1dd"/><rect x="992.4" y="480.5" width="87.6" height="1.0" fill="#f4c0c1"/><rect x="992.4" y="481.5" width="87.6" height="2.5" fill="#f2b3b5"/><rect x="992.4" y="484.0" width="87.6" height="1.5" fill="#e98083"/><rect x="992.4" y="485.5" width="87.6" height="2.5" fill="#eb8d8f"/><rect x="992.4" y="488.0" width="87.6" height="1.5" fill="#f0a6a8"/><rect x="992.4" y="489.5" width="87.6" height="0.5" fill="#e9777a"/><rect x="992.4" y="490.0" width="87.6" height="1.0" fill="#e96d72"/><rect x="992.4" y="491.0" width="87.6" height="1.5" fill="#7a83bb"/><rect x="992.4" y="492.5" width="87.6" height="0.5" fill="#959cc9"/><rect x="992.4" y="493.0" width="87.6" height="2.0" fill="#e98083"/><rect x="992.4" y="495.0" width="87.6" height="1.0" fill="#eb8d8f"/><rect x="992.4" y="496.0" width="87.6" height="0.5" fill="#878fc2"/><rect x="992.4" y="496.5" width="87.6" height="0.5" fill="#afb5d6"/><rect x="992.4" y="497.0" width="87.6" height="1.0" fill="#878fc2"/><rect x="992.4" y="498.0" width="87.6" height="1.5" fill="#7a83bb"/><rect x="992.4" y="499.5" width="87.6" height="3.0" fill="#cacde4"/><rect x="992.4" y="502.5" width="87.6" height="1.5" fill="#d7daeb"/><rect x="992.4" y="504.0" width="87.6" height="3.0" fill="#bcc1dd"/><rect x="992.4" y="507.0" width="87.6" height="0.5" fill="#cacde4"/><rect x="992.4" y="507.5" width="87.6" height="1.0" fill="#a2a8cf"/><rect x="992.4" y="508.5" width="87.6" height="1.0" fill="#cacde4"/><rect x="992.4" y="509.5" width="87.6" height="0.5" fill="#d7daeb"/><rect x="992.4" y="510.0" width="87.6" height="0.5" fill="#f4c0c1"/><rect x="992.4" y="510.5" width="87.6" height="1.0" fill="#ed999c"/><rect x="992.4" y="511.5" width="87.6" height="2.0" fill="#f6cccd"/><rect x="992.4" y="513.5" width="87.6" height="1.0" fill="#f4c0c1"/><rect x="992.4" y="514.5" width="87.6" height="1.0" fill="#959cc9"/><rect x="992.4" y="515.5" width="87.6" height="2.0" fill="#cacde4"/><rect x="992.4" y="517.5" width="87.6" height="3.5" fill="#878fc2"/><rect x="992.4" y="521.0" width="87.6" height="0.5" fill="#afb5d6"/><rect x="992.4" y="521.5" width="87.6" height="1.0" fill="#f2f3f8"/><rect x="992.4" y="522.5" width="87.6" height="1.0" fill="#bcc1dd"/><rect x="992.4" y="523.5" width="87.6" height="0.5" fill="#f2f3f8"/><rect x="992.4" y="524.0" width="87.6" height="1.5" fill="#bcc1dd"/><rect x="992.4" y="527.0" width="87.6" height="1.5" fill="#bcc1dd"/><rect x="992.4" y="528.5" width="87.6" height="1.5" fill="#d7daeb"/><rect x="992.4" y="530.0" width="87.6" height="1.0" fill="#fbe6e6"/><rect x="992.4" y="531.0" width="87.6" height="1.0" fill="#cacde4"/><rect x="992.4" y="532.0" width="87.6" height="1.0" fill="#fbe6e6"/><rect x="992.4" y="535.0" width="87.6" height="1.0" fill="#f2f3f8"/><rect x="992.4" y="536.0" width="87.6" height="1.0" fill="#bcc1dd"/><rect x="992.4" y="537.0" width="87.6" height="2.0" fill="#a2a8cf"/><rect x="992.4" y="539.0" width="87.6" height="1.5" fill="#bcc1dd"/><rect x="992.4" y="540.5" width="87.6" height="0.5" fill="#7a83bb"/><rect x="992.4" y="541.0" width="87.6" height="1.5" fill="#959cc9"/><rect x="992.4" y="542.5" width="87.6" height="1.5" fill="#bcc1dd"/><rect x="992.4" y="544.0" width="87.6" height="2.0" fill="#e82b36"/><rect x="992.4" y="546.0" width="87.6" height="1.5" fill="#e9777a"/><rect x="992.4" y="547.5" width="87.6" height="1.0" fill="#eb8d8f"/><rect x="992.4" y="548.5" width="87.6" height="1.5" fill="#e82b36"/><rect x="992.4" y="550.0" width="87.6" height="1.0" fill="#eb8d8f"/><rect x="992.4" y="551.0" width="87.6" height="1.0" fill="#e98083"/><rect x="992.4" y="552.0" width="87.6" height="1.0" fill="#e8222e"/><rect x="992.4" y="553.0" width="87.6" height="1.0" fill="#e9777a"/><rect x="992.4" y="554.0" width="87.6" height="0.5" fill="#e8353f"/><rect x="992.4" y="554.5" width="87.6" height="1.5" fill="#f2b3b5"/><rect x="992.4" y="556.0" width="87.6" height="4.5" fill="#cacde4"/><rect x="992.4" y="560.5" width="87.6" height="1.0" fill="#bcc1dd"/><rect x="992.4" y="561.5" width="87.6" height="2.0" fill="#d7daeb"/><rect x="992.4" y="563.5" width="87.6" height="2.0" fill="#6170b2"/><rect x="992.4" y="565.5" width="87.6" height="0.5" fill="#bcc1dd"/><rect x="992.4" y="566.0" width="87.6" height="0.5" fill="#e98083"/><rect x="992.4" y="566.5" width="87.6" height="1.5" fill="#eb8d8f"/><rect x="992.4" y="568.0" width="87.6" height="1.0" fill="#e98083"/><rect x="992.4" y="569.0" width="87.6" height="1.5" fill="#e9777a"/><rect x="992.4" y="570.5" width="87.6" height="1.0" fill="#e98083"/><rect x="992.4" y="571.5" width="87.6" height="0.5" fill="#e9777a"/><rect x="992.4" y="572.0" width="87.6" height="0.5" fill="#f4c0c1"/><rect x="992.4" y="572.5" width="87.6" height="1.0" fill="#f6cccd"/><rect x="992.4" y="573.5" width="87.6" height="1.0" fill="#f2b3b5"/><rect x="992.4" y="574.5" width="87.6" height="1.5" fill="#f8d9da"/><rect x="992.4" y="576.0" width="87.6" height="0.5" fill="#d7daeb"/><rect x="992.4" y="576.5" width="87.6" height="0.5" fill="#afb5d6"/><rect x="992.4" y="577.0" width="87.6" height="1.0" fill="#bcc1dd"/><rect x="992.4" y="578.0" width="87.6" height="0.5" fill="#afb5d6"/><rect x="992.4" y="578.5" width="87.6" height="1.0" fill="#f8d9da"/><rect x="992.4" y="579.5" width="87.6" height="1.0" fill="#fdf2f3"/><rect x="992.4" y="580.5" width="87.6" height="0.5" fill="#f2f3f8"/><rect x="992.4" y="581.0" width="87.6" height="1.0" fill="#fdf2f3"/><rect x="992.4" y="582.0" width="87.6" height="0.5" fill="#f4c0c1"/><rect x="992.4" y="582.5" width="87.6" height="0.5" fill="#f6cccd"/><rect x="992.4" y="583.0" width="87.6" height="1.5" fill="#d7daeb"/><rect x="992.4" y="584.5" width="87.6" height="0.5" fill="#bcc1dd"/><rect x="992.4" y="585.0" width="87.6" height="0.5" fill="#878fc2"/><rect x="992.4" y="585.5" width="87.6" height="1.0" fill="#959cc9"/><rect x="992.4" y="586.5" width="87.6" height="2.0" fill="#e9777a"/><rect x="992.4" y="588.5" width="87.6" height="1.5" fill="#f2b3b5"/><rect x="992.4" y="590.0" width="87.6" height="1.0" fill="#f4c0c1"/><rect x="992.4" y="591.0" width="87.6" height="1.0" fill="#e98083"/><rect x="992.4" y="592.0" width="87.6" height="0.5" fill="#f4c0c1"/><rect x="992.4" y="592.5" width="87.6" height="3.0" fill="#7a83bb"/><rect x="992.4" y="595.5" width="87.6" height="1.0" fill="#878fc2"/><rect x="992.4" y="596.5" width="87.6" height="1.5" fill="#cacde4"/><rect x="992.4" y="598.0" width="87.6" height="0.5" fill="#bcc1dd"/><rect x="992.4" y="598.5" width="87.6" height="1.5" fill="#d7daeb"/><rect x="992.4" y="600.0" width="87.6" height="0.5" fill="#bcc1dd"/><rect x="992.4" y="600.5" width="87.6" height="1.0" fill="#7a83bb"/><rect x="992.4" y="601.5" width="87.6" height="2.0" fill="#d7daeb"/><rect x="992.4" y="603.5" width="87.6" height="1.0" fill="#cacde4"/><rect x="992.4" y="604.5" width="87.6" height="0.5" fill="#d7daeb"/><rect x="992.4" y="606.5" width="87.6" height="1.0" fill="#cacde4"/><rect x="992.4" y="607.5" width="87.6" height="0.5" fill="#fdf2f3"/><rect x="992.4" y="608.0" width="87.6" height="1.0" fill="#f2f3f8"/><rect x="992.4" y="609.0" width="87.6" height="1.0" fill="#bcc1dd"/><rect x="992.4" y="610.0" width="87.6" height="0.5" fill="#cacde4"/><rect x="992.4" y="610.5" width="87.6" height="1.0" fill="#bcc1dd"/><rect x="992.4" y="611.5" width="87.6" height="3.0" fill="#d7daeb"/><rect x="992.4" y="614.5" width="87.6" height="1.5" fill="#eb8d8f"/><rect x="992.4" y="616.0" width="87.6" height="1.0" fill="#ed999c"/><rect x="992.4" y="617.0" width="87.6" height="2.5" fill="#e98083"/><rect x="992.4" y="619.5" width="87.6" height="1.0" fill="#eb8d8f"/><rect x="992.4" y="620.5" width="87.6" height="1.0" fill="#e9777a"/><rect x="992.4" y="621.5" width="87.6" height="1.5" fill="#eb8d8f"/><rect x="992.4" y="623.0" width="87.6" height="1.0" fill="#e8222e"/><rect x="992.4" y="624.0" width="87.6" height="1.0" fill="#e83e47"/><rect x="992.4" y="625.0" width="87.6" height="1.0" fill="#e82b36"/><rect x="992.4" y="626.0" width="87.6" height="1.5" fill="#7a83bb"/><rect x="992.4" y="627.5" width="87.6" height="1.0" fill="#bcc1dd"/><rect x="992.4" y="628.5" width="87.6" height="1.0" fill="#7a83bb"/><rect x="992.4" y="629.5" width="87.6" height="1.5" fill="#d7daeb"/><rect x="992.4" y="631.0" width="87.6" height="1.0" fill="#878fc2"/><rect x="992.4" y="632.0" width="87.6" height="1.5" fill="#a2a8cf"/><rect x="992.4" y="633.5" width="87.6" height="1.5" fill="#6d7ab6"/><rect x="992.4" y="635.0" width="87.6" height="0.5" fill="#878fc2"/><rect x="992.4" y="635.5" width="87.6" height="0.5" fill="#f4c0c1"/><rect x="992.4" y="636.0" width="87.6" height="0.5" fill="#f6cccd"/><rect x="992.4" y="636.5" width="87.6" height="1.0" fill="#f2b3b5"/><rect x="992.4" y="637.5" width="87.6" height="0.5" fill="#f6cccd"/><rect x="992.4" y="638.0" width="87.6" height="1.0" fill="#f4c0c1"/><rect x="992.4" y="639.0" width="87.6" height="0.5" fill="#cacde4"/><rect x="992.4" y="639.5" width="87.6" height="1.0" fill="#7a83bb"/><rect x="992.4" y="640.5" width="87.6" height="0.5" fill="#d7daeb"/><rect x="992.4" y="641.0" width="87.6" height="2.0" fill="#cacde4"/><rect x="992.4" y="643.0" width="87.6" height="0.5" fill="#878fc2"/><rect x="992.4" y="643.5" width="87.6" height="1.5" fill="#cacde4"/><rect x="992.4" y="645.0" width="87.6" height="1.0" fill="#878fc2"/><rect x="992.4" y="646.0" width="87.6" height="1.0" fill="#ed999c"/><rect x="992.4" y="647.0" width="87.6" height="1.0" fill="#eb8d8f"/><rect x="992.4" y="648.0" width="87.6" height="1.0" fill="#e9777a"/><rect x="992.4" y="649.0" width="87.6" height="1.0" fill="#ed999c"/><rect x="992.4" y="650.0" width="87.6" height="0.5" fill="#eb8d8f"/><rect x="992.4" y="650.5" width="87.6" height="0.5" fill="#e9777a"/><rect x="992.4" y="651.0" width="87.6" height="0.5" fill="#ed999c"/><rect x="992.4" y="651.5" width="87.6" height="1.5" fill="#eb8d8f"/><rect x="992.4" y="653.0" width="87.6" height="1.5" fill="#e9777a"/><rect x="992.4" y="654.5" width="87.6" height="1.0" fill="#e98083"/><rect x="992.4" y="655.5" width="87.6" height="0.5" fill="#e8222e"/><rect x="992.4" y="656.0" width="87.6" height="1.0" fill="#878fc2"/><rect x="992.4" y="657.0" width="87.6" height="1.5" fill="#7a83bb"/><rect x="992.4" y="658.5" width="87.6" height="1.0" fill="#e82b36"/><rect x="992.4" y="659.5" width="87.6" height="0.5" fill="#878fc2"/><rect x="992.4" y="660.0" width="87.6" height="0.5" fill="#bcc1dd"/><rect x="992.4" y="660.5" width="87.6" height="2.0" fill="#f4c0c1"/><rect x="992.4" y="662.5" width="87.6" height="1.5" fill="#d7daeb"/><rect x="992.4" y="664.0" width="87.6" height="2.0" fill="#f6cccd"/><rect x="992.4" y="666.0" width="87.6" height="2.0" fill="#cacde4"/><rect x="1080.0" y="256.0" width="87.6" height="1.5" fill="#fdf2f3"/><rect x="1080.0" y="258.0" width="87.6" height="1.0" fill="#6d7ab6"/><rect x="1080.0" y="259.0" width="87.6" height="0.5" fill="#7a83bb"/><rect x="1080.0" y="259.5" width="87.6" height="0.5" fill="#959cc9"/><rect x="1080.0" y="262.0" width="87.6" height="1.0" fill="#878fc2"/><rect x="1080.0" y="263.0" width="87.6" height="1.5" fill="#959cc9"/><rect x="1080.0" y="264.5" width="87.6" height="1.0" fill="#7a83bb"/><rect x="1080.0" y="266.0" width="87.6" height="1.0" fill="#fdf2f3"/><rect x="1080.0" y="267.0" width="87.6" height="0.5" fill="#bcc1dd"/><rect x="1080.0" y="267.5" width="87.6" height="0.5" fill="#d7daeb"/><rect x="1080.0" y="268.0" width="87.6" height="0.5" fill="#afb5d6"/><rect x="1080.0" y="268.5" width="87.6" height="0.5" fill="#d7daeb"/><rect x="1080.0" y="270.0" width="87.6" height="1.0" fill="#fbe6e6"/><rect x="1080.0" y="271.0" width="87.6" height="1.0" fill="#747eb9"/><rect x="1080.0" y="272.0" width="87.6" height="1.0" fill="#878fc2"/><rect x="1080.0" y="273.0" width="87.6" height="0.5" fill="#959cc9"/><rect x="1080.0" y="273.5" width="87.6" height="1.5" fill="#7a83bb"/><rect x="1080.0" y="275.0" width="87.6" height="1.0" fill="#959cc9"/><rect x="1080.0" y="276.0" width="87.6" height="1.0" fill="#878fc2"/><rect x="1080.0" y="277.0" width="87.6" height="1.0" fill="#959cc9"/><rect x="1080.0" y="278.0" width="87.6" height="0.5" fill="#7a83bb"/><rect x="1080.0" y="279.0" width="87.6" height="1.0" fill="#fdf2f3"/><rect x="1080.0" y="280.0" width="87.6" height="1.0" fill="#f4c0c1"/><rect x="1080.0" y="281.0" width="87.6" height="2.0" fill="#f2b3b5"/><rect x="1080.0" y="283.0" width="87.6" height="1.0" fill="#878fc2"/><rect x="1080.0" y="284.0" width="87.6" height="1.5" fill="#959cc9"/><rect x="1080.0" y="285.5" width="87.6" height="0.5" fill="#747eb9"/><rect x="1080.0" y="286.0" width="87.6" height="1.0" fill="#bcc1dd"/><rect x="1080.0" y="287.0" width="87.6" height="1.5" fill="#cacde4"/><rect x="1080.0" y="288.5" width="87.6" height="0.5" fill="#7a83bb"/><rect x="1080.0" y="289.0" width="87.6" height="1.0" fill="#f2f3f8"/><rect x="1080.0" y="290.0" width="87.6" height="0.5" fill="#e4e6f1"/><rect x="1080.0" y="290.5" width="87.6" height="0.5" fill="#f2f3f8"/><rect x="1080.0" y="291.0" width="87.6" height="1.0" fill="#f2b3b5"/><rect x="1080.0" y="292.0" width="87.6" height="1.0" fill="#f4c0c1"/><rect x="1080.0" y="293.0" width="87.6" height="1.0" fill="#fdf2f3"/><rect x="1080.0" y="294.0" width="87.6" height="1.0" fill="#fbe6e6"/><rect x="1080.0" y="295.0" width="87.6" height="2.5" fill="#d7daeb"/><rect x="1080.0" y="297.5" width="87.6" height="0.5" fill="#afb5d6"/><rect x="1080.0" y="298.0" width="87.6" height="1.0" fill="#f4c0c1"/><rect x="1080.0" y="299.0" width="87.6" height="1.0" fill="#f8d9da"/><rect x="1080.0" y="300.0" width="87.6" height="1.5" fill="#eb8d8f"/><rect x="1080.0" y="301.5" width="87.6" height="0.5" fill="#e98083"/><rect x="1080.0" y="302.0" width="87.6" height="2.5" fill="#e9777a"/><rect x="1080.0" y="304.5" width="87.6" height="0.5" fill="#eb8d8f"/><rect x="1080.0" y="305.0" width="87.6" height="0.5" fill="#f8d9da"/><rect x="1080.0" y="305.5" width="87.6" height="1.5" fill="#f4c0c1"/><rect x="1080.0" y="308.0" width="87.6" height="1.0" fill="#fdf2f3"/><rect x="1080.0" y="309.0" width="87.6" height="1.5" fill="#d7daeb"/><rect x="1080.0" y="310.5" width="87.6" height="0.5" fill="#a2a8cf"/><rect x="1080.0" y="311.0" width="87.6" height="0.5" fill="#bcc1dd"/><rect x="1080.0" y="311.5" width="87.6" height="0.5" fill="#e4e6f1"/><rect x="1080.0" y="312.0" width="87.6" height="1.0" fill="#6170b2"/><rect x="1080.0" y="313.0" width="87.6" height="1.0" fill="#6775b4"/><rect x="1080.0" y="314.0" width="87.6" height="1.0" fill="#959cc9"/><rect x="1080.0" y="315.0" width="87.6" height="1.0" fill="#cacde4"/><rect x="1080.0" y="317.0" width="87.6" height="0.5" fill="#fdf2f3"/><rect x="1080.0" y="317.5" width="87.6" height="0.5" fill="#f2f3f8"/><rect x="1080.0" y="320.0" width="87.6" height="1.0" fill="#f6cccd"/><rect x="1080.0" y="321.0" width="87.6" height="1.0" fill="#f4c0c1"/><rect x="1080.0" y="322.0" width="87.6" height="1.5" fill="#eb8d8f"/><rect x="1080.0" y="323.5" width="87.6" height="1.5" fill="#e98083"/><rect x="1080.0" y="325.0" width="87.6" height="2.0" fill="#e83e47"/><rect x="1080.0" y="327.0" width="87.6" height="1.0" fill="#ed999c"/><rect x="1080.0" y="328.0" width="87.6" height="1.5" fill="#e82b36"/><rect x="1080.0" y="329.5" width="87.6" height="0.5" fill="#cacde4"/><rect x="1080.0" y="332.0" width="87.6" height="2.5" fill="#bcc1dd"/><rect x="1080.0" y="334.5" width="87.6" height="0.5" fill="#afb5d6"/><rect x="1080.0" y="335.0" width="87.6" height="1.0" fill="#cacde4"/><rect x="1080.0" y="336.0" width="87.6" height="1.5" fill="#7a83bb"/><rect x="1080.0" y="337.5" width="87.6" height="1.0" fill="#959cc9"/><rect x="1080.0" y="338.5" width="87.6" height="0.5" fill="#878fc2"/><rect x="1080.0" y="339.0" width="87.6" height="1.0" fill="#e4e6f1"/><rect x="1080.0" y="340.5" width="87.6" height="3.5" fill="#747eb9"/><rect x="1080.0" y="344.0" width="87.6" height="0.5" fill="#f2f3f8"/><rect x="1080.0" y="346.0" width="87.6" height="1.0" fill="#e4e6f1"/><rect x="1080.0" y="347.5" width="87.6" height="3.0" fill="#cacde4"/><rect x="1080.0" y="350.5" width="87.6" height="1.0" fill="#5467ad"/><rect x="1080.0" y="351.5" width="87.6" height="1.0" fill="#7a83bb"/><rect x="1080.0" y="352.5" width="87.6" height="1.0" fill="#747eb9"/><rect x="1080.0" y="353.5" width="87.6" height="2.0" fill="#878fc2"/><rect x="1080.0" y="355.5" width="87.6" height="0.5" fill="#5a6cb0"/><rect x="1080.0" y="356.0" width="87.6" height="1.0" fill="#d7daeb"/><rect x="1080.0" y="357.0" width="87.6" height="0.5" fill="#afb5d6"/><rect x="1080.0" y="357.5" width="87.6" height="1.0" fill="#cacde4"/><rect x="1080.0" y="358.5" width="87.6" height="0.5" fill="#afb5d6"/><rect x="1080.0" y="359.0" width="87.6" height="0.5" fill="#d7daeb"/><rect x="1080.0" y="359.5" width="87.6" height="1.5" fill="#7a83bb"/><rect x="1080.0" y="361.0" width="87.6" height="1.0" fill="#bcc1dd"/><rect x="1080.0" y="362.0" width="87.6" height="2.0" fill="#747eb9"/><rect x="1080.0" y="364.0" width="87.6" height="1.0" fill="#afb5d6"/><rect x="1080.0" y="365.0" width="87.6" height="1.0" fill="#878fc2"/><rect x="1080.0" y="366.0" width="87.6" height="0.5" fill="#f4c0c1"/><rect x="1080.0" y="366.5" width="87.6" height="1.5" fill="#f6cccd"/><rect x="1080.0" y="368.0" width="87.6" height="0.5" fill="#f4c0c1"/><rect x="1080.0" y="368.5" width="87.6" height="1.0" fill="#fdf2f3"/><rect x="1080.0" y="371.0" width="87.6" height="3.5" fill="#878fc2"/><rect x="1080.0" y="374.5" width="87.6" height="1.0" fill="#7a83bb"/><rect x="1080.0" y="375.5" width="87.6" height="1.0" fill="#959cc9"/><rect x="1080.0" y="376.5" width="87.6" height="0.5" fill="#878fc2"/><rect x="1080.0" y="377.0" width="87.6" height="0.5" fill="#959cc9"/><rect x="1080.0" y="377.5" width="87.6" height="0.5" fill="#a2a8cf"/><rect x="1080.0" y="378.0" width="87.6" height="1.5" fill="#cacde4"/><rect x="1080.0" y="379.5" width="87.6" height="1.0" fill="#a2a8cf"/><rect x="1080.0" y="380.5" width="87.6" height="1.0" fill="#afb5d6"/><rect x="1080.0" y="381.5" width="87.6" height="1.0" fill="#fdf2f3"/><rect x="1080.0" y="382.5" width="87.6" height="1.0" fill="#f2f3f8"/><rect x="1080.0" y="383.5" width="87.6" height="0.5" fill="#fdf2f3"/><rect x="1080.0" y="384.0" width="87.6" height="2.5" fill="#6170b2"/><rect x="1080.0" y="386.5" width="87.6" height="3.0" fill="#878fc2"/><rect x="1080.0" y="389.5" width="87.6" height="1.5" fill="#747eb9"/><rect x="1080.0" y="391.0" width="87.6" height="1.0" fill="#6d7ab6"/><rect x="1080.0" y="392.0" width="87.6" height="0.5" fill="#878fc2"/><rect x="1080.0" y="392.5" width="87.6" height="0.5" fill="#747eb9"/><rect x="1080.0" y="393.0" width="87.6" height="1.0" fill="#7a83bb"/><rect x="1080.0" y="394.0" width="87.6" height="0.5" fill="#747eb9"/><rect x="1080.0" y="394.5" width="87.6" height="0.5" fill="#fdf2f3"/><rect x="1080.0" y="397.0" width="87.6" height="0.5" fill="#f2f3f8"/><rect x="1080.0" y="397.5" width="87.6" height="0.5" fill="#e4e6f1"/><rect x="1080.0" y="398.0" width="87.6" height="1.0" fill="#bcc1dd"/><rect x="1080.0" y="399.0" width="87.6" height="2.0" fill="#d7daeb"/><rect x="1080.0" y="401.0" width="87.6" height="1.0" fill="#cacde4"/><rect x="1080.0" y="402.0" width="87.6" height="1.5" fill="#afb5d6"/><rect x="1080.0" y="403.5" width="87.6" height="0.5" fill="#cacde4"/><rect x="1080.0" y="404.0" width="87.6" height="1.0" fill="#7a83bb"/><rect x="1080.0" y="405.0" width="87.6" height="3.0" fill="#878fc2"/><rect x="1080.0" y="408.0" width="87.6" height="0.5" fill="#7a83bb"/><rect x="1080.0" y="408.5" width="87.6" height="1.0" fill="#878fc2"/><rect x="1080.0" y="409.5" width="87.6" height="1.5" fill="#7a83bb"/><rect x="1080.0" y="411.0" width="87.6" height="1.0" fill="#878fc2"/><rect x="1080.0" y="412.0" width="87.6" height="1.0" fill="#747eb9"/><rect x="1080.0" y="413.0" width="87.6" height="2.0" fill="#f2b3b5"/><rect x="1080.0" y="415.0" width="87.6" height="1.0" fill="#f6cccd"/><rect x="1080.0" y="416.0" width="87.6" height="2.5" fill="#878fc2"/><rect x="1080.0" y="418.5" width="87.6" height="1.5" fill="#d7daeb"/><rect x="1080.0" y="420.0" width="87.6" height="2.0" fill="#afb5d6"/><rect x="1080.0" y="422.0" width="87.6" height="1.0" fill="#e9777a"/><rect x="1080.0" y="423.0" width="87.6" height="2.0" fill="#f4c0c1"/><rect x="1080.0" y="425.0" width="87.6" height="0.5" fill="#e98083"/><rect x="1080.0" y="425.5" width="87.6" height="1.5" fill="#f4c0c1"/><rect x="1080.0" y="427.0" width="87.6" height="1.5" fill="#cacde4"/><rect x="1080.0" y="428.5" width="87.6" height="1.5" fill="#d7daeb"/><rect x="1080.0" y="430.0" width="87.6" height="1.0" fill="#bcc1dd"/><rect x="1080.0" y="431.0" width="87.6" height="2.5" fill="#cacde4"/><rect x="1080.0" y="433.5" width="87.6" height="0.5" fill="#bcc1dd"/><rect x="1080.0" y="434.0" width="87.6" height="0.5" fill="#cacde4"/><rect x="1080.0" y="434.5" width="87.6" height="0.5" fill="#afb5d6"/><rect x="1080.0" y="435.0" width="87.6" height="1.0" fill="#bcc1dd"/><rect x="1080.0" y="436.0" width="87.6" height="0.5" fill="#f2f3f8"/><rect x="1080.0" y="437.5" width="87.6" height="0.5" fill="#f2f3f8"/><rect x="1080.0" y="438.0" width="87.6" height="0.5" fill="#6170b2"/><rect x="1080.0" y="438.5" width="87.6" height="1.5" fill="#5467ad"/><rect x="1080.0" y="440.0" width="87.6" height="0.5" fill="#5a6cb0"/><rect x="1080.0" y="440.5" width="87.6" height="0.5" fill="#6170b2"/><rect x="1080.0" y="441.0" width="87.6" height="0.5" fill="#5a6cb0"/><rect x="1080.0" y="441.5" width="87.6" height="1.0" fill="#6775b4"/><rect x="1080.0" y="442.5" width="87.6" height="0.5" fill="#6170b2"/><rect x="1080.0" y="443.0" width="87.6" height="0.5" fill="#7a83bb"/><rect x="1080.0" y="443.5" width="87.6" height="0.5" fill="#a2a8cf"/><rect x="1080.0" y="444.0" width="87.6" height="1.0" fill="#878fc2"/><rect x="1080.0" y="445.0" width="87.6" height="0.5" fill="#959cc9"/><rect x="1080.0" y="445.5" width="87.6" height="1.5" fill="#747eb9"/><rect x="1080.0" y="447.0" width="87.6" height="0.5" fill="#7a83bb"/><rect x="1080.0" y="447.5" width="87.6" height="1.5" fill="#878fc2"/><rect x="1080.0" y="449.0" width="87.6" height="1.0" fill="#959cc9"/><rect x="1080.0" y="450.0" width="87.6" height="1.5" fill="#e98083"/><rect x="1080.0" y="451.5" width="87.6" height="1.0" fill="#e82b36"/><rect x="1080.0" y="452.5" width="87.6" height="1.0" fill="#e98083"/><rect x="1080.0" y="453.5" width="87.6" height="3.0" fill="#f4c0c1"/><rect x="1080.0" y="458.0" width="87.6" height="2.5" fill="#e8353f"/><rect x="1080.0" y="460.5" width="87.6" height="0.5" fill="#e82b36"/><rect x="1080.0" y="461.0" width="87.6" height="0.5" fill="#e83e47"/><rect x="1080.0" y="461.5" width="87.6" height="0.5" fill="#e84850"/><rect x="1080.0" y="462.0" width="87.6" height="1.5" fill="#e82b36"/><rect x="1080.0" y="463.5" width="87.6" height="2.5" fill="#e8353f"/><rect x="1080.0" y="466.0" width="87.6" height="0.5" fill="#e4e6f1"/><rect x="1080.0" y="466.5" width="87.6" height="1.5" fill="#cacde4"/><rect x="1080.0" y="468.0" width="87.6" height="0.5" fill="#bcc1dd"/><rect x="1080.0" y="468.5" width="87.6" height="0.5" fill="#afb5d6"/><rect x="1080.0" y="469.0" width="87.6" height="2.0" fill="#959cc9"/><rect x="1080.0" y="471.0" width="87.6" height="1.0" fill="#7a83bb"/><rect x="1080.0" y="472.0" width="87.6" height="2.0" fill="#878fc2"/><rect x="1080.0" y="474.0" width="87.6" height="0.5" fill="#bcc1dd"/><rect x="1080.0" y="474.5" width="87.6" height="1.5" fill="#878fc2"/><rect x="1080.0" y="476.0" width="87.6" height="2.0" fill="#cacde4"/><rect x="1080.0" y="478.0" width="87.6" height="1.5" fill="#f8d9da"/><rect x="1080.0" y="479.5" width="87.6" height="0.5" fill="#f2b3b5"/><rect x="1080.0" y="480.0" width="87.6" height="1.0" fill="#f4c0c1"/><rect x="1080.0" y="481.0" width="87.6" height="1.0" fill="#f6cccd"/><rect x="1080.0" y="482.0" width="87.6" height="0.5" fill="#f8d9da"/><rect x="1080.0" y="482.5" width="87.6" height="0.5" fill="#959cc9"/><rect x="1080.0" y="483.0" width="87.6" height="1.5" fill="#747eb9"/><rect x="1080.0" y="484.5" width="87.6" height="1.0" fill="#878fc2"/><rect x="1080.0" y="485.5" width="87.6" height="3.0" fill="#7a83bb"/><rect x="1080.0" y="488.5" width="87.6" height="2.5" fill="#cacde4"/><rect x="1080.0" y="491.0" width="87.6" height="1.0" fill="#878fc2"/><rect x="1080.0" y="492.0" width="87.6" height="1.0" fill="#7a83bb"/><rect x="1080.0" y="493.0" width="87.6" height="0.5" fill="#bcc1dd"/><rect x="1080.0" y="493.5" width="87.6" height="0.5" fill="#cacde4"/><rect x="1080.0" y="494.0" width="87.6" height="2.0" fill="#747eb9"/><rect x="1080.0" y="496.0" width="87.6" height="0.5" fill="#cacde4"/><rect x="1080.0" y="496.5" width="87.6" height="1.0" fill="#bcc1dd"/><rect x="1080.0" y="497.5" width="87.6" height="0.5" fill="#afb5d6"/><rect x="1080.0" y="498.0" width="87.6" height="0.5" fill="#cacde4"/><rect x="1080.0" y="498.5" width="87.6" height="1.0" fill="#f2b3b5"/><rect x="1080.0" y="499.5" width="87.6" height="1.0" fill="#e9777a"/><rect x="1080.0" y="500.5" width="87.6" height="1.5" fill="#f8d9da"/><rect x="1080.0" y="502.0" width="87.6" height="1.0" fill="#e98083"/><rect x="1080.0" y="503.0" width="87.6" height="1.0" fill="#f2b3b5"/><rect x="1080.0" y="504.0" width="87.6" height="1.5" fill="#e98083"/><rect x="1080.0" y="505.5" width="87.6" height="1.0" fill="#f2f3f8"/><rect x="1080.0" y="506.5" width="87.6" height="1.0" fill="#fbe6e6"/><rect x="1080.0" y="509.0" width="87.6" height="1.0" fill="#f6cccd"/><rect x="1080.0" y="510.0" width="87.6" height="1.0" fill="#f2b3b5"/><rect x="1080.0" y="511.0" width="87.6" height="0.5" fill="#f4c0c1"/><rect x="1080.0" y="511.5" width="87.6" height="2.0" fill="#f6cccd"/><rect x="1080.0" y="513.5" width="87.6" height="0.5" fill="#e82b36"/><rect x="1080.0" y="514.0" width="87.6" height="1.0" fill="#e8222e"/><rect x="1080.0" y="515.0" width="87.6" height="0.5" fill="#e8222e"/><rect x="1080.0" y="515.5" width="87.6" height="0.5" fill="#e8353f"/><rect x="1080.0" y="516.0" width="87.6" height="0.5" fill="#6170b2"/><rect x="1080.0" y="516.5" width="87.6" height="1.5" fill="#6d7ab6"/><rect x="1080.0" y="518.0" width="87.6" height="1.0" fill="#878fc2"/><rect x="1080.0" y="519.0" width="87.6" height="1.5" fill="#6170b2"/><rect x="1080.0" y="520.5" width="87.6" height="2.0" fill="#e4e6f1"/><rect x="1080.0" y="522.5" width="87.6" height="1.5" fill="#f2f3f8"/><rect x="1080.0" y="524.0" width="87.6" height="2.0" fill="#f6cccd"/><rect x="1080.0" y="526.0" width="87.6" height="1.0" fill="#fbe6e6"/><rect x="1080.0" y="527.0" width="87.6" height="1.5" fill="#f4c0c1"/><rect x="1080.0" y="528.5" width="87.6" height="1.0" fill="#747eb9"/><rect x="1080.0" y="529.5" width="87.6" height="2.0" fill="#cacde4"/><rect x="1080.0" y="531.5" width="87.6" height="1.5" fill="#7a83bb"/><rect x="1080.0" y="533.0" width="87.6" height="0.5" fill="#959cc9"/><rect x="1080.0" y="533.5" width="87.6" height="1.0" fill="#7a83bb"/><rect x="1080.0" y="534.5" width="87.6" height="0.5" fill="#878fc2"/><rect x="1080.0" y="535.0" width="87.6" height="2.0" fill="#959cc9"/><rect x="1080.0" y="537.0" width="87.6" height="0.5" fill="#747eb9"/><rect x="1080.0" y="537.5" width="87.6" height="0.5" fill="#7a83bb"/><rect x="1080.0" y="538.0" width="87.6" height="2.0" fill="#eb8d8f"/><rect x="1080.0" y="540.0" width="87.6" height="1.0" fill="#e98083"/><rect x="1080.0" y="541.0" width="87.6" height="1.5" fill="#e9777a"/><rect x="1080.0" y="542.5" width="87.6" height="1.5" fill="#f6cccd"/><rect x="1080.0" y="544.0" width="87.6" height="0.5" fill="#f2b3b5"/><rect x="1080.0" y="544.5" width="87.6" height="1.0" fill="#f8d9da"/><rect x="1080.0" y="545.5" width="87.6" height="0.5" fill="#f4c0c1"/><rect x="1080.0" y="546.0" width="87.6" height="0.5" fill="#eb8d8f"/><rect x="1080.0" y="546.5" width="87.6" height="1.0" fill="#e98083"/><rect x="1080.0" y="547.5" width="87.6" height="1.0" fill="#e9777a"/><rect x="1080.0" y="548.5" width="87.6" height="1.0" fill="#eb8d8f"/><rect x="1080.0" y="549.5" width="87.6" height="1.0" fill="#e9777a"/><rect x="1080.0" y="550.5" width="87.6" height="0.5" fill="#e98083"/><rect x="1080.0" y="551.0" width="87.6" height="1.5" fill="#cacde4"/><rect x="1080.0" y="552.5" width="87.6" height="2.0" fill="#bcc1dd"/><rect x="1080.0" y="554.5" width="87.6" height="1.0" fill="#cacde4"/><rect x="1080.0" y="555.5" width="87.6" height="3.0" fill="#6775b4"/><rect x="1080.0" y="558.5" width="87.6" height="0.5" fill="#6170b2"/><rect x="1080.0" y="559.0" width="87.6" height="3.0" fill="#cacde4"/><rect x="1080.0" y="562.0" width="87.6" height="0.5" fill="#d7daeb"/><rect x="1080.0" y="564.0" width="87.6" height="0.5" fill="#fdf2f3"/><rect x="1080.0" y="565.5" width="87.6" height="0.5" fill="#f2f3f8"/><rect x="1080.0" y="566.0" width="87.6" height="1.5" fill="#6d7ab6"/><rect x="1080.0" y="567.5" width="87.6" height="3.0" fill="#959cc9"/><rect x="1080.0" y="570.5" width="87.6" height="1.0" fill="#878fc2"/><rect x="1080.0" y="571.5" width="87.6" height="1.0" fill="#959cc9"/><rect x="1080.0" y="572.5" width="87.6" height="1.0" fill="#7a83bb"/><rect x="1080.0" y="573.5" width="87.6" height="1.5" fill="#878fc2"/><rect x="1080.0" y="575.0" width="87.6" height="1.0" fill="#7a83bb"/><rect x="1080.0" y="576.0" width="87.6" height="1.5" fill="#cacde4"/><rect x="1080.0" y="577.5" width="87.6" height="2.0" fill="#bcc1dd"/><rect x="1080.0" y="579.5" width="87.6" height="1.5" fill="#cacde4"/><rect x="1080.0" y="581.0" width="87.6" height="2.0" fill="#6d7ab6"/><rect x="1080.0" y="583.0" width="87.6" height="1.5" fill="#bcc1dd"/><rect x="1080.0" y="584.5" width="87.6" height="1.0" fill="#cacde4"/><rect x="1080.0" y="585.5" width="87.6" height="1.5" fill="#6775b4"/><rect x="1080.0" y="587.0" width="87.6" height="0.5" fill="#7a83bb"/><rect x="1080.0" y="587.5" width="87.6" height="2.0" fill="#eb8d8f"/><rect x="1080.0" y="589.5" width="87.6" height="1.5" fill="#e8353f"/><rect x="1080.0" y="591.0" width="87.6" height="1.5" fill="#eb8d8f"/><rect x="1080.0" y="592.5" width="87.6" height="2.0" fill="#ed999c"/><rect x="1080.0" y="594.5" width="87.6" height="1.5" fill="#eb8d8f"/><rect x="1080.0" y="596.0" width="87.6" height="1.0" fill="#e83e47"/><rect x="1080.0" y="597.0" width="87.6" height="1.5" fill="#e8222e"/><rect x="1080.0" y="598.5" width="87.6" height="1.0" fill="#e82b36"/><rect x="1080.0" y="600.0" width="87.6" height="1.0" fill="#f6cccd"/><rect x="1080.0" y="601.0" width="87.6" height="1.5" fill="#e4e6f1"/><rect x="1080.0" y="602.5" width="87.6" height="2.0" fill="#fbe6e6"/><rect x="1080.0" y="604.5" width="87.6" height="1.0" fill="#f8d9da"/><rect x="1080.0" y="607.0" width="87.6" height="2.0" fill="#f2f3f8"/><rect x="1080.0" y="609.0" width="87.6" height="1.0" fill="#fdf2f3"/><rect x="1080.0" y="610.0" width="87.6" height="0.5" fill="#959cc9"/><rect x="1080.0" y="610.5" width="87.6" height="1.5" fill="#7a83bb"/><rect x="1080.0" y="612.0" width="87.6" height="2.0" fill="#747eb9"/><rect x="1080.0" y="614.0" width="87.6" height="1.5" fill="#959cc9"/><rect x="1080.0" y="615.5" width="87.6" height="1.5" fill="#878fc2"/><rect x="1080.0" y="617.0" width="87.6" height="0.5" fill="#7a83bb"/><rect x="1080.0" y="617.5" width="87.6" height="1.0" fill="#747eb9"/><rect x="1080.0" y="618.5" width="87.6" height="1.0" fill="#959cc9"/><rect x="1080.0" y="619.5" width="87.6" height="1.5" fill="#878fc2"/><rect x="1080.0" y="621.0" width="87.6" height="0.5" fill="#747eb9"/><rect x="1080.0" y="621.5" width="87.6" height="1.0" fill="#7a83bb"/><rect x="1080.0" y="622.5" width="87.6" height="1.5" fill="#878fc2"/><rect x="1080.0" y="624.0" width="87.6" height="1.0" fill="#7a83bb"/><rect x="1080.0" y="625.0" width="87.6" height="1.0" fill="#d7daeb"/><rect x="1080.0" y="626.0" width="87.6" height="1.0" fill="#878fc2"/><rect x="1080.0" y="627.0" width="87.6" height="3.0" fill="#7a83bb"/><rect x="1080.0" y="630.0" width="87.6" height="1.0" fill="#6d7ab6"/><rect x="1080.0" y="631.0" width="87.6" height="2.0" fill="#7a83bb"/><rect x="1080.0" y="633.0" width="87.6" height="1.5" fill="#747eb9"/><rect x="1080.0" y="634.5" width="87.6" height="2.0" fill="#7a83bb"/><rect x="1080.0" y="636.5" width="87.6" height="2.0" fill="#fdf2f3"/><rect x="1080.0" y="638.5" width="87.6" height="0.5" fill="#f2f3f8"/><rect x="1080.0" y="640.0" width="87.6" height="1.0" fill="#e83e47"/><rect x="1080.0" y="641.0" width="87.6" height="0.5" fill="#e82b36"/><rect x="1080.0" y="641.5" width="87.6" height="1.0" fill="#e8222e"/><rect x="1080.0" y="642.5" width="87.6" height="0.5" fill="#e84850"/><rect x="1080.0" y="643.0" width="87.6" height="1.0" fill="#e8353f"/><rect x="1080.0" y="644.0" width="87.6" height="1.5" fill="#cacde4"/><rect x="1080.0" y="645.5" width="87.6" height="0.5" fill="#d7daeb"/><rect x="1080.0" y="646.0" width="87.6" height="1.5" fill="#cacde4"/><rect x="1080.0" y="647.5" width="87.6" height="0.5" fill="#f4c0c1"/><rect x="1080.0" y="650.0" width="87.6" height="2.0" fill="#fdf2f3"/><rect x="1080.0" y="652.0" width="87.6" height="1.0" fill="#f4c0c1"/><rect x="1080.0" y="653.0" width="87.6" height="1.5" fill="#f2f3f8"/><rect x="1080.0" y="654.5" width="87.6" height="1.0" fill="#f6cccd"/><rect x="1080.0" y="655.5" width="87.6" height="1.5" fill="#e82b36"/><rect x="1080.0" y="657.0" width="87.6" height="0.5" fill="#e83e47"/><rect x="1080.0" y="657.5" width="87.6" height="0.5" fill="#e8222e"/><rect x="1080.0" y="658.0" width="87.6" height="0.5" fill="#e82b36"/><rect x="1080.0" y="658.5" width="87.6" height="0.5" fill="#e8353f"/><rect x="1080.0" y="659.0" width="87.6" height="3.5" fill="#e98083"/><rect x="1080.0" y="662.5" width="87.6" height="1.5" fill="#e8353f"/><rect x="1080.0" y="664.0" width="87.6" height="1.0" fill="#e8222e"/><rect x="1080.0" y="665.0" width="87.6" height="1.5" fill="#afb5d6"/><rect x="1080.0" y="666.5" width="87.6" height="1.5" fill="#cacde4"/><rect x="1167.6" y="256.0" width="87.6" height="1.5" fill="#6775b4"/><rect x="1167.6" y="257.5" width="87.6" height="1.5" fill="#747eb9"/><rect x="1167.6" y="259.0" width="87.6" height="1.5" fill="#878fc2"/><rect x="1167.6" y="260.5" width="87.6" height="1.0" fill="#d7daeb"/><rect x="1167.6" y="261.5" width="87.6" height="0.5" fill="#cacde4"/><rect x="1167.6" y="262.0" width="87.6" height="0.5" fill="#5a6cb0"/><rect x="1167.6" y="262.5" width="87.6" height="1.5" fill="#6775b4"/><rect x="1167.6" y="265.0" width="87.6" height="0.5" fill="#fbe6e6"/><rect x="1167.6" y="265.5" width="87.6" height="1.0" fill="#878fc2"/><rect x="1167.6" y="266.5" width="87.6" height="1.5" fill="#7a83bb"/><rect x="1167.6" y="268.0" width="87.6" height="1.0" fill="#747eb9"/><rect x="1167.6" y="269.0" width="87.6" height="1.0" fill="#a2a8cf"/><rect x="1167.6" y="270.0" width="87.6" height="1.5" fill="#7a83bb"/><rect x="1167.6" y="271.5" width="87.6" height="1.0" fill="#878fc2"/><rect x="1167.6" y="272.5" width="87.6" height="0.5" fill="#959cc9"/><rect x="1167.6" y="273.0" width="87.6" height="0.5" fill="#878fc2"/><rect x="1167.6" y="273.5" width="87.6" height="0.5" fill="#f2b3b5"/><rect x="1167.6" y="275.5" width="87.6" height="1.5" fill="#e4e6f1"/><rect x="1167.6" y="277.0" width="87.6" height="1.0" fill="#cacde4"/><rect x="1167.6" y="278.0" width="87.6" height="1.0" fill="#d7daeb"/><rect x="1167.6" y="279.0" width="87.6" height="0.5" fill="#959cc9"/><rect x="1167.6" y="279.5" width="87.6" height="1.0" fill="#7a83bb"/><rect x="1167.6" y="280.5" width="87.6" height="1.5" fill="#878fc2"/><rect x="1167.6" y="282.0" width="87.6" height="0.5" fill="#747eb9"/><rect x="1167.6" y="282.5" width="87.6" height="1.5" fill="#bcc1dd"/><rect x="1167.6" y="284.0" width="87.6" height="1.0" fill="#fdf2f3"/><rect x="1167.6" y="286.0" width="87.6" height="2.0" fill="#5a6cb0"/><rect x="1167.6" y="288.0" width="87.6" height="1.0" fill="#6d7ab6"/><rect x="1167.6" y="289.0" width="87.6" height="1.5" fill="#878fc2"/><rect x="1167.6" y="291.5" width="87.6" height="0.5" fill="#fbe6e6"/><rect x="1167.6" y="292.0" width="87.6" height="1.0" fill="#e83e47"/><rect x="1167.6" y="293.0" width="87.6" height="1.5" fill="#7a83bb"/><rect x="1167.6" y="294.5" width="87.6" height="0.5" fill="#878fc2"/><rect x="1167.6" y="295.0" width="87.6" height="1.0" fill="#a2a8cf"/><rect x="1167.6" y="296.0" width="87.6" height="1.0" fill="#747eb9"/><rect x="1167.6" y="297.0" width="87.6" height="1.0" fill="#959cc9"/><rect x="1167.6" y="298.0" width="87.6" height="1.0" fill="#f2b3b5"/><rect x="1167.6" y="299.0" width="87.6" height="0.5" fill="#f4c0c1"/><rect x="1167.6" y="299.5" width="87.6" height="1.5" fill="#e82b36"/><rect x="1167.6" y="301.0" width="87.6" height="1.0" fill="#e8353f"/><rect x="1167.6" y="302.0" width="87.6" height="1.5" fill="#6170b2"/><rect x="1167.6" y="303.5" width="87.6" height="1.5" fill="#5a6cb0"/><rect x="1167.6" y="305.0" width="87.6" height="1.5" fill="#f2b3b5"/><rect x="1167.6" y="306.5" width="87.6" height="2.5" fill="#afb5d6"/><rect x="1167.6" y="310.5" width="87.6" height="0.5" fill="#6170b2"/><rect x="1167.6" y="311.0" width="87.6" height="1.5" fill="#6d7ab6"/><rect x="1167.6" y="312.5" width="87.6" height="0.5" fill="#6775b4"/><rect x="1167.6" y="313.0" width="87.6" height="1.5" fill="#747eb9"/><rect x="1167.6" y="314.5" width="87.6" height="2.0" fill="#bcc1dd"/><rect x="1167.6" y="316.5" width="87.6" height="0.5" fill="#afb5d6"/><rect x="1167.6" y="317.0" width="87.6" height="1.0" fill="#bcc1dd"/><rect x="1167.6" y="318.0" width="87.6" height="0.5" fill="#afb5d6"/><rect x="1167.6" y="318.5" width="87.6" height="0.5" fill="#fdf2f3"/><rect x="1167.6" y="320.0" width="87.6" height="0.5" fill="#f2f3f8"/><rect x="1167.6" y="320.5" width="87.6" height="0.5" fill="#fdf2f3"/><rect x="1167.6" y="321.0" width="87.6" height="0.5" fill="#f2f3f8"/><rect x="1167.6" y="321.5" width="87.6" height="0.5" fill="#fdf2f3"/><rect x="1167.6" y="322.0" width="87.6" height="0.5" fill="#6d7ab6"/><rect x="1167.6" y="322.5" width="87.6" height="1.0" fill="#747eb9"/><rect x="1167.6" y="323.5" width="87.6" height="0.5" fill="#7a83bb"/><rect x="1167.6" y="324.0" width="87.6" height="0.5" fill="#878fc2"/><rect x="1167.6" y="324.5" width="87.6" height="0.5" fill="#a2a8cf"/><rect x="1167.6" y="325.0" width="87.6" height="1.5" fill="#878fc2"/><rect x="1167.6" y="326.5" width="87.6" height="1.5" fill="#7a83bb"/><rect x="1167.6" y="328.0" width="87.6" height="1.5" fill="#878fc2"/><rect x="1167.6" y="329.5" width="87.6" height="0.5" fill="#7a83bb"/><rect x="1167.6" y="330.0" width="87.6" height="1.0" fill="#959cc9"/><rect x="1167.6" y="331.0" width="87.6" height="1.0" fill="#878fc2"/><rect x="1167.6" y="332.0" width="87.6" height="0.5" fill="#959cc9"/><rect x="1167.6" y="332.5" width="87.6" height="2.5" fill="#7a83bb"/><rect x="1167.6" y="335.0" width="87.6" height="1.0" fill="#878fc2"/><rect x="1167.6" y="336.0" width="87.6" height="1.5" fill="#afb5d6"/><rect x="1167.6" y="337.5" width="87.6" height="0.5" fill="#bcc1dd"/><rect x="1167.6" y="338.0" width="87.6" height="0.5" fill="#7a83bb"/><rect x="1167.6" y="338.5" width="87.6" height="2.5" fill="#747eb9"/><rect x="1167.6" y="341.0" width="87.6" height="1.5" fill="#878fc2"/><rect x="1167.6" y="342.5" width="87.6" height="0.5" fill="#a2a8cf"/><rect x="1167.6" y="343.0" width="87.6" height="1.5" fill="#878fc2"/><rect x="1167.6" y="344.5" width="87.6" height="2.0" fill="#6170b2"/><rect x="1167.6" y="346.5" width="87.6" height="0.5" fill="#6775b4"/><rect x="1167.6" y="347.0" width="87.6" height="0.5" fill="#7a83bb"/><rect x="1167.6" y="347.5" width="87.6" height="1.5" fill="#878fc2"/><rect x="1167.6" y="349.0" width="87.6" height="0.5" fill="#f6cccd"/><rect x="1167.6" y="349.5" width="87.6" height="1.0" fill="#f4c0c1"/><rect x="1167.6" y="350.5" width="87.6" height="1.5" fill="#eb8d8f"/><rect x="1167.6" y="352.0" width="87.6" height="0.5" fill="#878fc2"/><rect x="1167.6" y="352.5" width="87.6" height="0.5" fill="#6170b2"/><rect x="1167.6" y="353.0" width="87.6" height="1.5" fill="#7a83bb"/><rect x="1167.6" y="354.5" width="87.6" height="1.5" fill="#5a6cb0"/><rect x="1167.6" y="356.0" width="87.6" height="2.0" fill="#6170b2"/><rect x="1167.6" y="358.0" width="87.6" height="0.5" fill="#6775b4"/><rect x="1167.6" y="358.5" width="87.6" height="0.5" fill="#5a6cb0"/><rect x="1167.6" y="359.0" width="87.6" height="1.0" fill="#5467ad"/><rect x="1167.6" y="360.0" width="87.6" height="1.0" fill="#6775b4"/><rect x="1167.6" y="361.0" width="87.6" height="1.0" fill="#7a83bb"/><rect x="1167.6" y="362.0" width="87.6" height="1.0" fill="#5a6cb0"/><rect x="1167.6" y="363.0" width="87.6" height="0.5" fill="#878fc2"/><rect x="1167.6" y="363.5" width="87.6" height="1.0" fill="#fdf2f3"/><rect x="1167.6" y="364.5" width="87.6" height="1.5" fill="#fbe6e6"/><rect x="1167.6" y="366.0" width="87.6" height="1.0" fill="#6d7ab6"/><rect x="1167.6" y="367.0" width="87.6" height="1.0" fill="#7a83bb"/><rect x="1167.6" y="368.0" width="87.6" height="1.5" fill="#bcc1dd"/><rect x="1167.6" y="369.5" width="87.6" height="1.0" fill="#878fc2"/><rect x="1167.6" y="370.5" width="87.6" height="0.5" fill="#bcc1dd"/><rect x="1167.6" y="373.5" width="87.6" height="0.5" fill="#f2f3f8"/><rect x="1167.6" y="374.0" width="87.6" height="1.5" fill="#7a83bb"/><rect x="1167.6" y="375.5" width="87.6" height="1.5" fill="#747eb9"/><rect x="1167.6" y="377.0" width="87.6" height="1.5" fill="#7a83bb"/><rect x="1167.6" y="378.5" width="87.6" height="1.5" fill="#5467ad"/><rect x="1167.6" y="380.0" width="87.6" height="1.5" fill="#7a83bb"/><rect x="1167.6" y="381.5" width="87.6" height="0.5" fill="#cacde4"/><rect x="1167.6" y="382.0" width="87.6" height="0.5" fill="#d7daeb"/><rect x="1167.6" y="382.5" width="87.6" height="1.0" fill="#bcc1dd"/><rect x="1167.6" y="383.5" width="87.6" height="0.5" fill="#cacde4"/><rect x="1167.6" y="384.0" width="87.6" height="0.5" fill="#afb5d6"/><rect x="1167.6" y="384.5" width="87.6" height="3.0" fill="#f4c0c1"/><rect x="1167.6" y="387.5" width="87.6" height="0.5" fill="#fdf2f3"/><rect x="1167.6" y="388.0" width="87.6" height="1.0" fill="#f8d9da"/><rect x="1167.6" y="389.0" width="87.6" height="2.0" fill="#7a83bb"/><rect x="1167.6" y="391.0" width="87.6" height="4.0" fill="#cacde4"/><rect x="1167.6" y="395.0" width="87.6" height="2.0" fill="#5a6cb0"/><rect x="1167.6" y="397.0" width="87.6" height="2.0" fill="#6170b2"/><rect x="1167.6" y="399.0" width="87.6" height="0.5" fill="#5a6cb0"/><rect x="1167.6" y="399.5" width="87.6" height="1.5" fill="#fdf2f3"/><rect x="1167.6" y="401.0" width="87.6" height="0.5" fill="#f2f3f8"/><rect x="1167.6" y="401.5" width="87.6" height="1.0" fill="#878fc2"/><rect x="1167.6" y="402.5" width="87.6" height="1.0" fill="#bcc1dd"/><rect x="1167.6" y="403.5" width="87.6" height="2.0" fill="#747eb9"/><rect x="1167.6" y="405.5" width="87.6" height="0.5" fill="#afb5d6"/><rect x="1167.6" y="406.0" width="87.6" height="1.0" fill="#bcc1dd"/><rect x="1167.6" y="407.0" width="87.6" height="1.0" fill="#7a83bb"/><rect x="1167.6" y="408.0" width="87.6" height="1.0" fill="#878fc2"/><rect x="1167.6" y="409.0" width="87.6" height="1.0" fill="#bcc1dd"/><rect x="1167.6" y="410.0" width="87.6" height="2.5" fill="#cacde4"/><rect x="1167.6" y="412.5" width="87.6" height="1.0" fill="#bcc1dd"/><rect x="1167.6" y="413.5" width="87.6" height="1.0" fill="#878fc2"/><rect x="1167.6" y="414.5" width="87.6" height="1.5" fill="#7a83bb"/><rect x="1167.6" y="416.0" width="87.6" height="0.5" fill="#fdf2f3"/><rect x="1167.6" y="416.5" width="87.6" height="1.0" fill="#afb5d6"/><rect x="1167.6" y="417.5" width="87.6" height="1.0" fill="#fdf2f3"/><rect x="1167.6" y="419.5" width="87.6" height="1.0" fill="#bcc1dd"/><rect x="1167.6" y="420.5" width="87.6" height="0.5" fill="#7a83bb"/><rect x="1167.6" y="421.0" width="87.6" height="1.0" fill="#747eb9"/><rect x="1167.6" y="422.0" width="87.6" height="3.0" fill="#878fc2"/><rect x="1167.6" y="425.0" width="87.6" height="1.5" fill="#6775b4"/><rect x="1167.6" y="426.5" width="87.6" height="1.5" fill="#6170b2"/><rect x="1167.6" y="428.0" width="87.6" height="0.5" fill="#6775b4"/><rect x="1167.6" y="428.5" width="87.6" height="2.5" fill="#7a83bb"/><rect x="1167.6" y="431.0" width="87.6" height="1.0" fill="#747eb9"/><rect x="1167.6" y="432.0" width="87.6" height="0.5" fill="#959cc9"/><rect x="1167.6" y="435.5" width="87.6" height="1.0" fill="#cacde4"/><rect x="1167.6" y="436.5" width="87.6" height="1.0" fill="#bcc1dd"/><rect x="1167.6" y="437.5" width="87.6" height="0.5" fill="#cacde4"/><rect x="1167.6" y="438.0" width="87.6" height="1.0" fill="#6775b4"/><rect x="1167.6" y="439.0" width="87.6" height="1.5" fill="#6d7ab6"/><rect x="1167.6" y="440.5" width="87.6" height="2.0" fill="#cacde4"/><rect x="1167.6" y="442.5" width="87.6" height="1.5" fill="#f8d9da"/><rect x="1167.6" y="444.0" width="87.6" height="1.5" fill="#747eb9"/><rect x="1167.6" y="445.5" width="87.6" height="1.5" fill="#7a83bb"/><rect x="1167.6" y="447.0" width="87.6" height="0.5" fill="#878fc2"/><rect x="1167.6" y="447.5" width="87.6" height="0.5" fill="#7a83bb"/><rect x="1167.6" y="448.0" width="87.6" height="0.5" fill="#959cc9"/><rect x="1167.6" y="448.5" width="87.6" height="3.0" fill="#878fc2"/><rect x="1167.6" y="451.5" width="87.6" height="0.5" fill="#7a83bb"/><rect x="1167.6" y="452.0" width="87.6" height="2.0" fill="#cacde4"/><rect x="1167.6" y="454.0" width="87.6" height="0.5" fill="#e4e6f1"/><rect x="1167.6" y="454.5" width="87.6" height="0.5" fill="#cacde4"/><rect x="1167.6" y="455.0" width="87.6" height="0.5" fill="#afb5d6"/><rect x="1167.6" y="455.5" width="87.6" height="1.0" fill="#cacde4"/><rect x="1167.6" y="456.5" width="87.6" height="2.0" fill="#f6cccd"/><rect x="1167.6" y="458.5" width="87.6" height="1.5" fill="#f2b3b5"/><rect x="1167.6" y="460.0" width="87.6" height="0.5" fill="#f6cccd"/><rect x="1167.6" y="460.5" width="87.6" height="1.0" fill="#f4c0c1"/><rect x="1167.6" y="461.5" width="87.6" height="0.5" fill="#fdf2f3"/><rect x="1167.6" y="464.0" width="87.6" height="0.5" fill="#f2f3f8"/><rect x="1167.6" y="464.5" width="87.6" height="1.0" fill="#eb8d8f"/><rect x="1167.6" y="465.5" width="87.6" height="1.0" fill="#ed999c"/><rect x="1167.6" y="466.5" width="87.6" height="0.5" fill="#eb8d8f"/><rect x="1167.6" y="467.0" width="87.6" height="2.0" fill="#e98083"/><rect x="1167.6" y="469.0" width="87.6" height="0.5" fill="#e9646a"/><rect x="1167.6" y="469.5" width="87.6" height="0.5" fill="#ed999c"/><rect x="1167.6" y="470.0" width="87.6" height="0.5" fill="#eb8d8f"/><rect x="1167.6" y="470.5" width="87.6" height="0.5" fill="#f2b3b5"/><rect x="1167.6" y="471.0" width="87.6" height="0.5" fill="#f6cccd"/><rect x="1167.6" y="471.5" width="87.6" height="1.0" fill="#f4c0c1"/><rect x="1167.6" y="472.5" width="87.6" height="1.0" fill="#e8353f"/><rect x="1167.6" y="473.5" width="87.6" height="0.5" fill="#e8222e"/><rect x="1167.6" y="474.0" width="87.6" height="0.5" fill="#e82b36"/><rect x="1167.6" y="474.5" width="87.6" height="1.0" fill="#e8353f"/><rect x="1167.6" y="475.5" width="87.6" height="0.5" fill="#e8222e"/><rect x="1167.6" y="476.0" width="87.6" height="1.0" fill="#e82b36"/><rect x="1167.6" y="477.0" width="87.6" height="0.5" fill="#e8353f"/><rect x="1167.6" y="477.5" width="87.6" height="0.5" fill="#e83e47"/><rect x="1167.6" y="478.0" width="87.6" height="1.0" fill="#e82b36"/><rect x="1167.6" y="479.0" width="87.6" height="1.5" fill="#e83e47"/><rect x="1167.6" y="480.5" width="87.6" height="1.0" fill="#e8353f"/><rect x="1167.6" y="481.5" width="87.6" height="3.0" fill="#e83e47"/><rect x="1167.6" y="484.5" width="87.6" height="2.0" fill="#e82b36"/><rect x="1167.6" y="486.5" width="87.6" height="1.5" fill="#e4e6f1"/><rect x="1167.6" y="488.0" width="87.6" height="1.0" fill="#fdf2f3"/><rect x="1167.6" y="489.0" width="87.6" height="0.5" fill="#e4e6f1"/><rect x="1167.6" y="489.5" width="87.6" height="0.5" fill="#fdf2f3"/><rect x="1167.6" y="490.0" width="87.6" height="2.0" fill="#f6cccd"/><rect x="1167.6" y="492.0" width="87.6" height="2.0" fill="#eb8d8f"/><rect x="1167.6" y="494.0" width="87.6" height="2.0" fill="#e9777a"/><rect x="1167.6" y="496.0" width="87.6" height="1.5" fill="#e8353f"/><rect x="1167.6" y="497.5" width="87.6" height="0.5" fill="#e82b36"/><rect x="1167.6" y="498.0" width="87.6" height="1.0" fill="#e8222e"/><rect x="1167.6" y="499.0" width="87.6" height="1.5" fill="#e8222e"/><rect x="1167.6" y="500.5" width="87.6" height="1.0" fill="#e8353f"/><rect x="1167.6" y="501.5" width="87.6" height="0.5" fill="#e82b36"/><rect x="1167.6" y="502.0" width="87.6" height="1.0" fill="#e8353f"/><rect x="1167.6" y="503.0" width="87.6" height="1.0" fill="#e83e47"/><rect x="1167.6" y="504.0" width="87.6" height="3.5" fill="#e82b36"/><rect x="1167.6" y="507.5" width="87.6" height="1.5" fill="#e8353f"/><rect x="1167.6" y="509.0" width="87.6" height="1.5" fill="#e82b36"/><rect x="1167.6" y="510.5" width="87.6" height="1.0" fill="#e8222e"/><rect x="1167.6" y="511.5" width="87.6" height="1.0" fill="#e8353f"/><rect x="1167.6" y="512.5" width="87.6" height="1.0" fill="#7a83bb"/><rect x="1167.6" y="513.5" width="87.6" height="0.5" fill="#747eb9"/><rect x="1167.6" y="514.0" width="87.6" height="0.5" fill="#7a83bb"/><rect x="1167.6" y="514.5" width="87.6" height="1.5" fill="#e4e6f1"/><rect x="1167.6" y="516.0" width="87.6" height="1.0" fill="#fbe6e6"/><rect x="1167.6" y="517.0" width="87.6" height="1.0" fill="#f2f3f8"/><rect x="1167.6" y="518.0" width="87.6" height="1.5" fill="#f8d9da"/><rect x="1167.6" y="519.5" width="87.6" height="1.0" fill="#cacde4"/><rect x="1167.6" y="520.5" width="87.6" height="1.0" fill="#747eb9"/><rect x="1167.6" y="521.5" width="87.6" height="1.5" fill="#bcc1dd"/><rect x="1167.6" y="523.0" width="87.6" height="0.5" fill="#afb5d6"/><rect x="1167.6" y="523.5" width="87.6" height="0.5" fill="#747eb9"/><rect x="1167.6" y="524.0" width="87.6" height="0.5" fill="#f4c0c1"/><rect x="1167.6" y="524.5" width="87.6" height="0.5" fill="#cacde4"/><rect x="1167.6" y="525.0" width="87.6" height="1.0" fill="#f4c0c1"/><rect x="1167.6" y="526.0" width="87.6" height="1.0" fill="#cacde4"/><rect x="1167.6" y="527.0" width="87.6" height="0.5" fill="#f6cccd"/><rect x="1167.6" y="527.5" width="87.6" height="0.5" fill="#cacde4"/><rect x="1167.6" y="528.0" width="87.6" height="0.5" fill="#f4c0c1"/><rect x="1167.6" y="528.5" width="87.6" height="1.0" fill="#f2f3f8"/><rect x="1167.6" y="529.5" width="87.6" height="0.5" fill="#cacde4"/><rect x="1167.6" y="530.0" width="87.6" height="1.0" fill="#fdf2f3"/><rect x="1167.6" y="531.0" width="87.6" height="2.0" fill="#f4c0c1"/><rect x="1167.6" y="533.0" width="87.6" height="1.0" fill="#f6cccd"/><rect x="1167.6" y="534.0" width="87.6" height="1.5" fill="#eb8d8f"/><rect x="1167.6" y="535.5" width="87.6" height="1.5" fill="#fdf2f3"/><rect x="1167.6" y="537.0" width="87.6" height="0.5" fill="#f2f3f8"/><rect x="1167.6" y="537.5" width="87.6" height="0.5" fill="#fdf2f3"/><rect x="1167.6" y="538.0" width="87.6" height="1.0" fill="#7a83bb"/><rect x="1167.6" y="539.0" width="87.6" height="1.0" fill="#d7daeb"/><rect x="1167.6" y="540.0" width="87.6" height="0.5" fill="#878fc2"/><rect x="1167.6" y="540.5" width="87.6" height="1.0" fill="#747eb9"/><rect x="1167.6" y="541.5" width="87.6" height="1.0" fill="#878fc2"/><rect x="1167.6" y="542.5" width="87.6" height="1.0" fill="#bcc1dd"/><rect x="1167.6" y="543.5" width="87.6" height="1.5" fill="#e98083"/><rect x="1167.6" y="545.0" width="87.6" height="1.0" fill="#e9777a"/><rect x="1167.6" y="546.0" width="87.6" height="3.5" fill="#bcc1dd"/><rect x="1167.6" y="549.5" width="87.6" height="2.0" fill="#7a83bb"/><rect x="1167.6" y="551.5" width="87.6" height="1.0" fill="#d7daeb"/><rect x="1167.6" y="552.5" width="87.6" height="1.0" fill="#f0a6a8"/><rect x="1167.6" y="553.5" width="87.6" height="1.5" fill="#f4c0c1"/><rect x="1167.6" y="555.0" width="87.6" height="2.0" fill="#fbe6e6"/><rect x="1167.6" y="557.0" width="87.6" height="1.0" fill="#bcc1dd"/><rect x="1167.6" y="558.0" width="87.6" height="1.5" fill="#fdf2f3"/><rect x="1167.6" y="559.5" width="87.6" height="0.5" fill="#878fc2"/><rect x="1167.6" y="560.0" width="87.6" height="1.0" fill="#959cc9"/><rect x="1167.6" y="561.0" width="87.6" height="0.5" fill="#878fc2"/><rect x="1167.6" y="561.5" width="87.6" height="0.5" fill="#a2a8cf"/><rect x="1167.6" y="562.0" width="87.6" height="1.0" fill="#7a83bb"/><rect x="1167.6" y="563.0" width="87.6" height="1.5" fill="#878fc2"/><rect x="1167.6" y="564.5" width="87.6" height="1.5" fill="#fdf2f3"/><rect x="1167.6" y="566.0" width="87.6" height="1.0" fill="#f2f3f8"/><rect x="1167.6" y="567.0" width="87.6" height="2.0" fill="#6170b2"/><rect x="1167.6" y="569.0" width="87.6" height="1.0" fill="#5a6cb0"/><rect x="1167.6" y="570.0" width="87.6" height="1.0" fill="#878fc2"/><rect x="1167.6" y="571.0" width="87.6" height="1.5" fill="#bcc1dd"/><rect x="1167.6" y="572.5" width="87.6" height="2.0" fill="#d7daeb"/><rect x="1167.6" y="574.5" width="87.6" height="1.5" fill="#a2a8cf"/><rect x="1167.6" y="576.0" width="87.6" height="1.0" fill="#878fc2"/><rect x="1167.6" y="577.0" width="87.6" height="0.5" fill="#959cc9"/><rect x="1167.6" y="577.5" width="87.6" height="1.0" fill="#d7daeb"/><rect x="1167.6" y="578.5" width="87.6" height="1.5" fill="#afb5d6"/><rect x="1167.6" y="580.0" width="87.6" height="1.0" fill="#878fc2"/><rect x="1167.6" y="581.0" width="87.6" height="0.5" fill="#7a83bb"/><rect x="1167.6" y="581.5" width="87.6" height="1.5" fill="#6170b2"/><rect x="1167.6" y="583.0" width="87.6" height="0.5" fill="#5467ad"/><rect x="1167.6" y="583.5" width="87.6" height="0.5" fill="#6775b4"/><rect x="1167.6" y="584.0" width="87.6" height="1.5" fill="#f2f3f8"/><rect x="1167.6" y="586.0" width="87.6" height="1.5" fill="#f2f3f8"/><rect x="1167.6" y="587.5" width="87.6" height="2.5" fill="#878fc2"/><rect x="1167.6" y="590.0" width="87.6" height="1.0" fill="#e98083"/><rect x="1167.6" y="591.0" width="87.6" height="0.5" fill="#e96d72"/><rect x="1167.6" y="591.5" width="87.6" height="3.0" fill="#f6cccd"/><rect x="1167.6" y="594.5" width="87.6" height="1.0" fill="#f4c0c1"/><rect x="1167.6" y="595.5" width="87.6" height="0.5" fill="#f2f3f8"/><rect x="1167.6" y="596.5" width="87.6" height="1.0" fill="#e4e6f1"/><rect x="1167.6" y="597.5" width="87.6" height="0.5" fill="#fdf2f3"/><rect x="1167.6" y="598.0" width="87.6" height="0.5" fill="#f2f3f8"/><rect x="1167.6" y="599.0" width="87.6" height="0.5" fill="#e8222e"/><rect x="1167.6" y="599.5" width="87.6" height="1.5" fill="#e8353f"/><rect x="1167.6" y="601.0" width="87.6" height="1.0" fill="#e82b36"/><rect x="1167.6" y="602.0" width="87.6" height="2.0" fill="#e8353f"/><rect x="1167.6" y="604.0" width="87.6" height="2.5" fill="#cacde4"/><rect x="1167.6" y="606.5" width="87.6" height="0.5" fill="#d7daeb"/><rect x="1167.6" y="607.0" width="87.6" height="0.5" fill="#afb5d6"/><rect x="1167.6" y="607.5" width="87.6" height="3.0" fill="#f2f3f8"/><rect x="1167.6" y="610.5" width="87.6" height="0.5" fill="#afb5d6"/><rect x="1167.6" y="611.0" width="87.6" height="0.5" fill="#f4c0c1"/><rect x="1167.6" y="611.5" width="87.6" height="0.5" fill="#f8d9da"/><rect x="1167.6" y="612.0" width="87.6" height="0.5" fill="#f4c0c1"/><rect x="1167.6" y="612.5" width="87.6" height="1.0" fill="#fbe6e6"/><rect x="1167.6" y="613.5" width="87.6" height="0.5" fill="#f6cccd"/><rect x="1167.6" y="614.0" width="87.6" height="1.0" fill="#f2f3f8"/><rect x="1167.6" y="615.0" width="87.6" height="2.5" fill="#bcc1dd"/><rect x="1167.6" y="617.5" width="87.6" height="0.5" fill="#d7daeb"/><rect x="1167.6" y="618.0" width="87.6" height="1.5" fill="#7a83bb"/><rect x="1167.6" y="619.5" width="87.6" height="0.5" fill="#878fc2"/><rect x="1167.6" y="620.0" width="87.6" height="1.0" fill="#6d7ab6"/><rect x="1167.6" y="621.0" width="87.6" height="1.0" fill="#747eb9"/><rect x="1167.6" y="622.0" width="87.6" height="0.5" fill="#878fc2"/><rect x="1167.6" y="622.5" width="87.6" height="1.0" fill="#7a83bb"/><rect x="1167.6" y="623.5" width="87.6" height="0.5" fill="#878fc2"/><rect x="1167.6" y="624.0" width="87.6" height="1.0" fill="#959cc9"/><rect x="1167.6" y="625.0" width="87.6" height="1.0" fill="#747eb9"/><rect x="1167.6" y="626.0" width="87.6" height="1.0" fill="#959cc9"/><rect x="1167.6" y="627.0" width="87.6" height="0.5" fill="#878fc2"/><rect x="1167.6" y="627.5" width="87.6" height="1.0" fill="#959cc9"/><rect x="1167.6" y="628.5" width="87.6" height="0.5" fill="#878fc2"/><rect x="1167.6" y="629.0" width="87.6" height="1.0" fill="#6d7ab6"/><rect x="1167.6" y="630.0" width="87.6" height="1.5" fill="#d7daeb"/><rect x="1167.6" y="631.5" width="87.6" height="1.0" fill="#7a83bb"/><rect x="1167.6" y="632.5" width="87.6" height="1.0" fill="#959cc9"/><rect x="1167.6" y="633.5" width="87.6" height="1.5" fill="#cacde4"/><rect x="1167.6" y="635.0" width="87.6" height="1.5" fill="#d7daeb"/><rect x="1167.6" y="636.5" width="87.6" height="0.5" fill="#afb5d6"/><rect x="1167.6" y="637.0" width="87.6" height="0.5" fill="#bcc1dd"/><rect x="1167.6" y="637.5" width="87.6" height="0.5" fill="#cacde4"/><rect x="1167.6" y="638.0" width="87.6" height="1.5" fill="#d7daeb"/><rect x="1167.6" y="639.5" width="87.6" height="0.5" fill="#cacde4"/><rect x="1167.6" y="640.0" width="87.6" height="0.5" fill="#eb8d8f"/><rect x="1167.6" y="640.5" width="87.6" height="1.5" fill="#f4c0c1"/><rect x="1167.6" y="642.0" width="87.6" height="1.5" fill="#eb8d8f"/><rect x="1167.6" y="643.5" width="87.6" height="2.0" fill="#fdf2f3"/><rect x="1167.6" y="645.5" width="87.6" height="0.5" fill="#e4e6f1"/><rect x="1167.6" y="646.0" width="87.6" height="1.0" fill="#a2a8cf"/><rect x="1167.6" y="647.0" width="87.6" height="2.0" fill="#878fc2"/><rect x="1167.6" y="649.0" width="87.6" height="1.0" fill="#7a83bb"/><rect x="1167.6" y="650.0" width="87.6" height="0.5" fill="#878fc2"/><rect x="1167.6" y="650.5" width="87.6" height="1.5" fill="#959cc9"/><rect x="1167.6" y="652.0" width="87.6" height="1.5" fill="#7a83bb"/><rect x="1167.6" y="653.5" width="87.6" height="3.5" fill="#f4c0c1"/><rect x="1167.6" y="657.0" width="87.6" height="0.5" fill="#f8d9da"/><rect x="1167.6" y="657.5" width="87.6" height="0.5" fill="#e96d72"/><rect x="1167.6" y="658.0" width="87.6" height="1.5" fill="#fdf2f3"/><rect x="1167.6" y="659.5" width="87.6" height="2.0" fill="#f2f3f8"/><rect x="1167.6" y="662.0" width="87.6" height="1.0" fill="#fdf2f3"/><rect x="1167.6" y="663.0" width="87.6" height="2.0" fill="#e9777a"/><rect x="1167.6" y="665.0" width="87.6" height="3.0" fill="#878fc2"/><rect x="1255.2" y="258.0" width="87.6" height="1.0" fill="#f2f3f8"/><rect x="1255.2" y="259.0" width="87.6" height="1.0" fill="#fdf2f3"/><rect x="1255.2" y="260.0" width="87.6" height="0.5" fill="#d7daeb"/><rect x="1255.2" y="260.5" width="87.6" height="0.5" fill="#7a83bb"/><rect x="1255.2" y="261.0" width="87.6" height="0.5" fill="#747eb9"/><rect x="1255.2" y="261.5" width="87.6" height="1.0" fill="#878fc2"/><rect x="1255.2" y="262.5" width="87.6" height="2.0" fill="#7a83bb"/><rect x="1255.2" y="264.5" width="87.6" height="0.5" fill="#878fc2"/><rect x="1255.2" y="265.0" width="87.6" height="0.5" fill="#959cc9"/><rect x="1255.2" y="265.5" width="87.6" height="1.5" fill="#5a6cb0"/><rect x="1255.2" y="267.0" width="87.6" height="1.5" fill="#6170b2"/><rect x="1255.2" y="268.5" width="87.6" height="1.0" fill="#d7daeb"/><rect x="1255.2" y="269.5" width="87.6" height="0.5" fill="#cacde4"/><rect x="1255.2" y="270.0" width="87.6" height="2.0" fill="#f6cccd"/><rect x="1255.2" y="272.0" width="87.6" height="1.0" fill="#bcc1dd"/><rect x="1255.2" y="273.0" width="87.6" height="1.5" fill="#cacde4"/><rect x="1255.2" y="274.5" width="87.6" height="3.0" fill="#fdf2f3"/><rect x="1255.2" y="277.5" width="87.6" height="1.5" fill="#e4e6f1"/><rect x="1255.2" y="279.0" width="87.6" height="1.0" fill="#7a83bb"/><rect x="1255.2" y="280.0" width="87.6" height="1.5" fill="#878fc2"/><rect x="1255.2" y="281.5" width="87.6" height="0.5" fill="#747eb9"/><rect x="1255.2" y="282.0" width="87.6" height="2.0" fill="#878fc2"/><rect x="1255.2" y="284.0" width="87.6" height="1.0" fill="#959cc9"/><rect x="1255.2" y="285.0" width="87.6" height="0.5" fill="#7a83bb"/><rect x="1255.2" y="285.5" width="87.6" height="1.0" fill="#878fc2"/><rect x="1255.2" y="286.5" width="87.6" height="1.0" fill="#747eb9"/><rect x="1255.2" y="287.5" width="87.6" height="1.0" fill="#d7daeb"/><rect x="1255.2" y="288.5" width="87.6" height="0.5" fill="#a2a8cf"/><rect x="1255.2" y="289.0" width="87.6" height="1.5" fill="#cacde4"/><rect x="1255.2" y="290.5" width="87.6" height="0.5" fill="#d7daeb"/><rect x="1255.2" y="292.5" width="87.6" height="1.5" fill="#afb5d6"/><rect x="1255.2" y="294.0" width="87.6" height="1.5" fill="#a2a8cf"/><rect x="1255.2" y="297.0" width="87.6" height="0.5" fill="#bcc1dd"/><rect x="1255.2" y="297.5" width="87.6" height="1.5" fill="#f6cccd"/><rect x="1255.2" y="299.0" width="87.6" height="1.5" fill="#878fc2"/><rect x="1255.2" y="300.5" width="87.6" height="1.0" fill="#d7daeb"/><rect x="1255.2" y="301.5" width="87.6" height="1.5" fill="#7a83bb"/><rect x="1255.2" y="303.0" width="87.6" height="0.5" fill="#878fc2"/><rect x="1255.2" y="303.5" width="87.6" height="1.0" fill="#7a83bb"/><rect x="1255.2" y="304.5" width="87.6" height="1.5" fill="#878fc2"/><rect x="1255.2" y="306.0" width="87.6" height="0.5" fill="#7a83bb"/><rect x="1255.2" y="306.5" width="87.6" height="0.5" fill="#959cc9"/><rect x="1255.2" y="307.0" width="87.6" height="2.0" fill="#f4c0c1"/><rect x="1255.2" y="309.0" width="87.6" height="1.5" fill="#5467ad"/><rect x="1255.2" y="310.5" width="87.6" height="0.5" fill="#f2f3f8"/><rect x="1255.2" y="312.5" width="87.6" height="0.5" fill="#eb8d8f"/><rect x="1255.2" y="313.0" width="87.6" height="1.0" fill="#f2b3b5"/><rect x="1255.2" y="314.0" width="87.6" height="2.5" fill="#e98083"/><rect x="1255.2" y="317.5" width="87.6" height="2.0" fill="#cacde4"/><rect x="1255.2" y="319.5" width="87.6" height="0.5" fill="#a2a8cf"/><rect x="1255.2" y="320.0" width="87.6" height="1.0" fill="#f6cccd"/><rect x="1255.2" y="321.0" width="87.6" height="1.0" fill="#f4c0c1"/><rect x="1255.2" y="322.0" width="87.6" height="1.0" fill="#afb5d6"/><rect x="1255.2" y="323.0" width="87.6" height="2.5" fill="#cacde4"/><rect x="1255.2" y="328.0" width="87.6" height="1.0" fill="#eb8d8f"/><rect x="1255.2" y="329.0" width="87.6" height="2.0" fill="#e9777a"/><rect x="1255.2" y="331.0" width="87.6" height="0.5" fill="#eb8d8f"/><rect x="1255.2" y="331.5" width="87.6" height="4.5" fill="#878fc2"/><rect x="1255.2" y="336.0" width="87.6" height="2.0" fill="#959cc9"/><rect x="1255.2" y="338.0" width="87.6" height="2.0" fill="#878fc2"/><rect x="1255.2" y="340.0" width="87.6" height="2.0" fill="#bcc1dd"/><rect x="1255.2" y="342.0" width="87.6" height="0.5" fill="#f2f3f8"/><rect x="1255.2" y="342.5" width="87.6" height="0.5" fill="#fdf2f3"/><rect x="1255.2" y="343.0" width="87.6" height="0.5" fill="#f2f3f8"/><rect x="1255.2" y="344.5" width="87.6" height="3.5" fill="#cacde4"/><rect x="1255.2" y="348.0" width="87.6" height="0.5" fill="#afb5d6"/><rect x="1255.2" y="348.5" width="87.6" height="0.5" fill="#7a83bb"/><rect x="1255.2" y="349.0" width="87.6" height="2.0" fill="#f2f3f8"/><rect x="1255.2" y="351.0" width="87.6" height="1.0" fill="#fbe6e6"/><rect x="1255.2" y="352.0" width="87.6" height="2.0" fill="#f6cccd"/><rect x="1255.2" y="354.0" width="87.6" height="1.5" fill="#f4c0c1"/><rect x="1255.2" y="355.5" width="87.6" height="0.5" fill="#f8d9da"/><rect x="1255.2" y="356.0" width="87.6" height="2.0" fill="#f6cccd"/><rect x="1255.2" y="358.0" width="87.6" height="1.0" fill="#878fc2"/><rect x="1255.2" y="359.0" width="87.6" height="3.0" fill="#7a83bb"/><rect x="1255.2" y="362.0" width="87.6" height="0.5" fill="#878fc2"/><rect x="1255.2" y="362.5" width="87.6" height="1.0" fill="#959cc9"/><rect x="1255.2" y="363.5" width="87.6" height="0.5" fill="#f2f3f8"/><rect x="1255.2" y="365.0" width="87.6" height="1.0" fill="#5a6cb0"/><rect x="1255.2" y="366.0" width="87.6" height="1.5" fill="#5467ad"/><rect x="1255.2" y="367.5" width="87.6" height="1.5" fill="#7a83bb"/><rect x="1255.2" y="369.0" width="87.6" height="1.5" fill="#878fc2"/><rect x="1255.2" y="370.5" width="87.6" height="2.0" fill="#6775b4"/><rect x="1255.2" y="372.5" width="87.6" height="1.0" fill="#878fc2"/><rect x="1255.2" y="373.5" width="87.6" height="1.5" fill="#6170b2"/><rect x="1255.2" y="375.0" width="87.6" height="1.0" fill="#878fc2"/><rect x="1255.2" y="376.0" width="87.6" height="1.0" fill="#747eb9"/><rect x="1255.2" y="377.0" width="87.6" height="1.5" fill="#7a83bb"/><rect x="1255.2" y="378.5" width="87.6" height="1.5" fill="#6170b2"/><rect x="1255.2" y="380.0" width="87.6" height="3.5" fill="#5a6cb0"/><rect x="1255.2" y="383.5" width="87.6" height="0.5" fill="#6d7ab6"/><rect x="1255.2" y="384.0" width="87.6" height="1.0" fill="#7a83bb"/><rect x="1255.2" y="385.0" width="87.6" height="1.5" fill="#959cc9"/><rect x="1255.2" y="386.5" width="87.6" height="1.0" fill="#6775b4"/><rect x="1255.2" y="387.5" width="87.6" height="0.5" fill="#747eb9"/><rect x="1255.2" y="388.0" width="87.6" height="1.0" fill="#cacde4"/><rect x="1255.2" y="389.0" width="87.6" height="1.5" fill="#bcc1dd"/><rect x="1255.2" y="390.5" width="87.6" height="1.0" fill="#747eb9"/><rect x="1255.2" y="391.5" width="87.6" height="1.5" fill="#d7daeb"/><rect x="1255.2" y="393.0" width="87.6" height="0.5" fill="#959cc9"/><rect x="1255.2" y="393.5" width="87.6" height="1.5" fill="#d7daeb"/><rect x="1255.2" y="395.0" width="87.6" height="0.5" fill="#fbe6e6"/><rect x="1255.2" y="396.5" width="87.6" height="1.0" fill="#f2f3f8"/><rect x="1255.2" y="398.0" width="87.6" height="0.5" fill="#fbe6e6"/><rect x="1255.2" y="398.5" width="87.6" height="1.0" fill="#d7daeb"/><rect x="1255.2" y="399.5" width="87.6" height="1.0" fill="#bcc1dd"/><rect x="1255.2" y="400.5" width="87.6" height="2.0" fill="#a2a8cf"/><rect x="1255.2" y="402.5" width="87.6" height="0.5" fill="#afb5d6"/><rect x="1255.2" y="403.0" width="87.6" height="1.0" fill="#6775b4"/><rect x="1255.2" y="404.0" width="87.6" height="2.0" fill="#7a83bb"/><rect x="1255.2" y="406.0" width="87.6" height="1.5" fill="#5a6cb0"/><rect x="1255.2" y="407.5" width="87.6" height="1.0" fill="#7a83bb"/><rect x="1255.2" y="408.5" width="87.6" height="1.5" fill="#5a6cb0"/><rect x="1255.2" y="410.0" width="87.6" height="1.0" fill="#5467ad"/><rect x="1255.2" y="411.0" width="87.6" height="3.0" fill="#878fc2"/><rect x="1255.2" y="414.0" width="87.6" height="1.0" fill="#6170b2"/><rect x="1255.2" y="415.0" width="87.6" height="1.0" fill="#a2a8cf"/><rect x="1255.2" y="416.0" width="87.6" height="1.5" fill="#d7daeb"/><rect x="1255.2" y="417.5" width="87.6" height="3.0" fill="#7a83bb"/><rect x="1255.2" y="420.5" width="87.6" height="1.0" fill="#d7daeb"/><rect x="1255.2" y="421.5" width="87.6" height="2.0" fill="#fbe6e6"/><rect x="1255.2" y="423.5" width="87.6" height="1.0" fill="#e98083"/><rect x="1255.2" y="424.5" width="87.6" height="1.0" fill="#f6cccd"/><rect x="1255.2" y="425.5" width="87.6" height="1.0" fill="#959cc9"/><rect x="1255.2" y="426.5" width="87.6" height="1.0" fill="#878fc2"/><rect x="1255.2" y="427.5" width="87.6" height="1.5" fill="#7a83bb"/><rect x="1255.2" y="431.0" width="87.6" height="1.5" fill="#cacde4"/><rect x="1255.2" y="432.5" width="87.6" height="2.0" fill="#bcc1dd"/><rect x="1255.2" y="434.5" width="87.6" height="0.5" fill="#fdf2f3"/><rect x="1255.2" y="435.0" width="87.6" height="1.0" fill="#afb5d6"/><rect x="1255.2" y="436.0" width="87.6" height="0.5" fill="#bcc1dd"/><rect x="1255.2" y="436.5" width="87.6" height="0.5" fill="#cacde4"/><rect x="1255.2" y="437.0" width="87.6" height="0.5" fill="#f4c0c1"/><rect x="1255.2" y="437.5" width="87.6" height="2.0" fill="#f8d9da"/><rect x="1255.2" y="439.5" width="87.6" height="1.5" fill="#fbe6e6"/><rect x="1255.2" y="441.0" width="87.6" height="0.5" fill="#f2b3b5"/><rect x="1255.2" y="441.5" width="87.6" height="0.5" fill="#fbe6e6"/><rect x="1255.2" y="442.0" width="87.6" height="1.0" fill="#f8d9da"/><rect x="1255.2" y="443.0" width="87.6" height="0.5" fill="#f6cccd"/><rect x="1255.2" y="443.5" width="87.6" height="0.5" fill="#e8222e"/><rect x="1255.2" y="444.0" width="87.6" height="4.0" fill="#e8353f"/><rect x="1255.2" y="448.0" width="87.6" height="0.5" fill="#e8222e"/><rect x="1255.2" y="448.5" width="87.6" height="1.0" fill="#f2b3b5"/><rect x="1255.2" y="449.5" width="87.6" height="1.5" fill="#f4c0c1"/><rect x="1255.2" y="451.0" width="87.6" height="1.5" fill="#e9777a"/><rect x="1255.2" y="452.5" width="87.6" height="0.5" fill="#f4c0c1"/><rect x="1255.2" y="453.0" width="87.6" height="0.5" fill="#878fc2"/><rect x="1255.2" y="453.5" width="87.6" height="3.0" fill="#cacde4"/><rect x="1255.2" y="456.5" width="87.6" height="1.5" fill="#878fc2"/><rect x="1255.2" y="458.0" width="87.6" height="0.5" fill="#d7daeb"/><rect x="1255.2" y="458.5" width="87.6" height="0.5" fill="#e4e6f1"/><rect x="1255.2" y="459.0" width="87.6" height="0.5" fill="#fdf2f3"/><rect x="1255.2" y="460.0" width="87.6" height="0.5" fill="#fbe6e6"/><rect x="1255.2" y="460.5" width="87.6" height="2.0" fill="#f2f3f8"/><rect x="1255.2" y="462.5" width="87.6" height="0.5" fill="#d7daeb"/><rect x="1255.2" y="463.5" width="87.6" height="1.0" fill="#fdf2f3"/><rect x="1255.2" y="464.5" width="87.6" height="0.5" fill="#f2f3f8"/><rect x="1255.2" y="465.0" width="87.6" height="0.5" fill="#e82b36"/><rect x="1255.2" y="465.5" width="87.6" height="1.5" fill="#e8222e"/><rect x="1255.2" y="467.0" width="87.6" height="0.5" fill="#e8353f"/><rect x="1255.2" y="467.5" width="87.6" height="0.5" fill="#e82b36"/><rect x="1255.2" y="468.0" width="87.6" height="0.5" fill="#e83e47"/><rect x="1255.2" y="468.5" width="87.6" height="2.0" fill="#e8353f"/><rect x="1255.2" y="470.5" width="87.6" height="0.5" fill="#e82b36"/><rect x="1255.2" y="471.0" width="87.6" height="0.5" fill="#e8353f"/><rect x="1255.2" y="471.5" width="87.6" height="1.0" fill="#959cc9"/><rect x="1255.2" y="472.5" width="87.6" height="0.5" fill="#7a83bb"/><rect x="1255.2" y="473.0" width="87.6" height="3.5" fill="#6170b2"/><rect x="1255.2" y="476.5" width="87.6" height="2.0" fill="#f4c0c1"/><rect x="1255.2" y="478.5" width="87.6" height="1.0" fill="#afb5d6"/><rect x="1255.2" y="479.5" width="87.6" height="3.0" fill="#cacde4"/><rect x="1255.2" y="482.5" width="87.6" height="1.5" fill="#f6cccd"/><rect x="1255.2" y="484.0" width="87.6" height="1.5" fill="#f4c0c1"/><rect x="1255.2" y="485.5" width="87.6" height="1.0" fill="#d7daeb"/><rect x="1255.2" y="486.5" width="87.6" height="1.5" fill="#7a83bb"/><rect x="1255.2" y="488.0" width="87.6" height="2.5" fill="#959cc9"/><rect x="1255.2" y="490.5" width="87.6" height="2.0" fill="#7a83bb"/><rect x="1255.2" y="492.5" width="87.6" height="0.5" fill="#afb5d6"/><rect x="1255.2" y="493.0" width="87.6" height="1.0" fill="#747eb9"/><rect x="1255.2" y="494.0" width="87.6" height="1.0" fill="#7a83bb"/><rect x="1255.2" y="495.0" width="87.6" height="1.0" fill="#878fc2"/><rect x="1255.2" y="496.0" width="87.6" height="1.5" fill="#bcc1dd"/><rect x="1255.2" y="497.5" width="87.6" height="0.5" fill="#afb5d6"/><rect x="1255.2" y="498.0" width="87.6" height="0.5" fill="#f6cccd"/><rect x="1255.2" y="498.5" width="87.6" height="1.0" fill="#bcc1dd"/><rect x="1255.2" y="499.5" width="87.6" height="2.5" fill="#878fc2"/><rect x="1255.2" y="502.0" width="87.6" height="1.0" fill="#cacde4"/><rect x="1255.2" y="503.0" width="87.6" height="1.0" fill="#f6cccd"/><rect x="1255.2" y="504.0" width="87.6" height="1.5" fill="#f2f3f8"/><rect x="1255.2" y="505.5" width="87.6" height="1.0" fill="#f4c0c1"/><rect x="1255.2" y="506.5" width="87.6" height="1.0" fill="#747eb9"/><rect x="1255.2" y="507.5" width="87.6" height="3.0" fill="#cacde4"/><rect x="1255.2" y="510.5" width="87.6" height="1.0" fill="#bcc1dd"/><rect x="1255.2" y="511.5" width="87.6" height="0.5" fill="#7a83bb"/><rect x="1255.2" y="512.0" width="87.6" height="1.5" fill="#fdf2f3"/><rect x="1255.2" y="513.5" width="87.6" height="1.0" fill="#f2b3b5"/><rect x="1255.2" y="514.5" width="87.6" height="2.0" fill="#e98083"/><rect x="1255.2" y="516.5" width="87.6" height="1.0" fill="#eb8d8f"/><rect x="1255.2" y="517.5" width="87.6" height="3.0" fill="#f6cccd"/><rect x="1255.2" y="520.5" width="87.6" height="1.0" fill="#7a83bb"/><rect x="1255.2" y="521.5" width="87.6" height="1.5" fill="#bcc1dd"/><rect x="1255.2" y="523.0" width="87.6" height="2.0" fill="#747eb9"/><rect x="1255.2" y="525.0" width="87.6" height="2.5" fill="#d7daeb"/><rect x="1255.2" y="527.5" width="87.6" height="3.5" fill="#bcc1dd"/><rect x="1255.2" y="531.0" width="87.6" height="1.5" fill="#878fc2"/><rect x="1255.2" y="532.5" width="87.6" height="2.0" fill="#bcc1dd"/><rect x="1255.2" y="534.5" width="87.6" height="1.0" fill="#959cc9"/><rect x="1255.2" y="535.5" width="87.6" height="0.5" fill="#bcc1dd"/><rect x="1255.2" y="536.0" width="87.6" height="0.5" fill="#7a83bb"/><rect x="1255.2" y="536.5" width="87.6" height="1.5" fill="#cacde4"/><rect x="1255.2" y="539.0" width="87.6" height="0.5" fill="#fdf2f3"/><rect x="1255.2" y="540.0" width="87.6" height="1.0" fill="#f2f3f8"/><rect x="1255.2" y="541.0" width="87.6" height="0.5" fill="#fbe6e6"/><rect x="1255.2" y="541.5" width="87.6" height="1.0" fill="#f2f3f8"/><rect x="1255.2" y="542.5" width="87.6" height="1.0" fill="#f4c0c1"/><rect x="1255.2" y="543.5" width="87.6" height="0.5" fill="#bcc1dd"/><rect x="1255.2" y="544.0" width="87.6" height="1.5" fill="#cacde4"/><rect x="1255.2" y="545.5" width="87.6" height="0.5" fill="#f4c0c1"/><rect x="1255.2" y="546.0" width="87.6" height="1.0" fill="#f2b3b5"/><rect x="1255.2" y="547.0" width="87.6" height="1.0" fill="#7a83bb"/><rect x="1255.2" y="548.0" width="87.6" height="1.0" fill="#747eb9"/><rect x="1255.2" y="549.0" width="87.6" height="2.5" fill="#5a6cb0"/><rect x="1255.2" y="551.5" width="87.6" height="1.0" fill="#747eb9"/><rect x="1255.2" y="552.5" width="87.6" height="2.5" fill="#7a83bb"/><rect x="1255.2" y="555.0" width="87.6" height="1.0" fill="#747eb9"/><rect x="1255.2" y="556.0" width="87.6" height="0.5" fill="#6170b2"/><rect x="1255.2" y="556.5" width="87.6" height="2.0" fill="#6775b4"/><rect x="1255.2" y="558.5" width="87.6" height="1.0" fill="#6170b2"/><rect x="1255.2" y="561.0" width="87.6" height="1.5" fill="#f2f3f8"/><rect x="1255.2" y="562.5" width="87.6" height="1.0" fill="#fdf2f3"/><rect x="1255.2" y="563.5" width="87.6" height="1.0" fill="#747eb9"/><rect x="1255.2" y="564.5" width="87.6" height="1.0" fill="#878fc2"/><rect x="1255.2" y="565.5" width="87.6" height="0.5" fill="#747eb9"/><rect x="1255.2" y="566.0" width="87.6" height="0.5" fill="#7a83bb"/><rect x="1255.2" y="566.5" width="87.6" height="1.5" fill="#747eb9"/><rect x="1255.2" y="568.0" width="87.6" height="1.5" fill="#878fc2"/><rect x="1255.2" y="569.5" width="87.6" height="1.0" fill="#959cc9"/><rect x="1255.2" y="570.5" width="87.6" height="1.5" fill="#878fc2"/><rect x="1255.2" y="572.0" width="87.6" height="0.5" fill="#7a83bb"/><rect x="1255.2" y="572.5" width="87.6" height="1.0" fill="#878fc2"/><rect x="1255.2" y="573.5" width="87.6" height="0.5" fill="#747eb9"/><rect x="1255.2" y="574.0" width="87.6" height="1.0" fill="#7a83bb"/><rect x="1255.2" y="575.0" width="87.6" height="1.0" fill="#878fc2"/><rect x="1255.2" y="576.0" width="87.6" height="1.0" fill="#cacde4"/><rect x="1255.2" y="577.0" width="87.6" height="1.5" fill="#bcc1dd"/><rect x="1255.2" y="578.5" width="87.6" height="1.5" fill="#fbe6e6"/><rect x="1255.2" y="580.0" width="87.6" height="2.0" fill="#f2f3f8"/><rect x="1255.2" y="583.0" width="87.6" height="1.5" fill="#fdf2f3"/><rect x="1255.2" y="584.5" width="87.6" height="0.5" fill="#bcc1dd"/><rect x="1255.2" y="585.0" width="87.6" height="2.0" fill="#7a83bb"/><rect x="1255.2" y="587.0" width="87.6" height="1.5" fill="#959cc9"/><rect x="1255.2" y="588.5" width="87.6" height="0.5" fill="#7a83bb"/><rect x="1255.2" y="589.0" width="87.6" height="2.0" fill="#f6cccd"/><rect x="1255.2" y="591.0" width="87.6" height="0.5" fill="#a2a8cf"/><rect x="1255.2" y="591.5" width="87.6" height="1.0" fill="#d7daeb"/><rect x="1255.2" y="592.5" width="87.6" height="0.5" fill="#bcc1dd"/><rect x="1255.2" y="593.0" width="87.6" height="0.5" fill="#afb5d6"/><rect x="1255.2" y="594.5" width="87.6" height="1.0" fill="#afb5d6"/><rect x="1255.2" y="596.0" width="87.6" height="2.0" fill="#fbe6e6"/><rect x="1255.2" y="598.0" width="87.6" height="0.5" fill="#f2f3f8"/><rect x="1255.2" y="599.0" width="87.6" height="2.5" fill="#bcc1dd"/><rect x="1255.2" y="601.5" width="87.6" height="1.5" fill="#afb5d6"/><rect x="1255.2" y="603.0" width="87.6" height="0.5" fill="#bcc1dd"/><rect x="1255.2" y="603.5" width="87.6" height="1.0" fill="#f2b3b5"/><rect x="1255.2" y="604.5" width="87.6" height="2.5" fill="#f4c0c1"/><rect x="1255.2" y="607.0" width="87.6" height="0.5" fill="#f8d9da"/><rect x="1255.2" y="607.5" width="87.6" height="2.0" fill="#e8353f"/><rect x="1255.2" y="609.5" width="87.6" height="1.0" fill="#e83e47"/><rect x="1255.2" y="610.5" width="87.6" height="2.5" fill="#e8222e"/><rect x="1255.2" y="613.0" width="87.6" height="1.5" fill="#e8353f"/><rect x="1255.2" y="614.5" width="87.6" height="0.5" fill="#e8222e"/><rect x="1255.2" y="615.0" width="87.6" height="0.5" fill="#e82b36"/><rect x="1255.2" y="615.5" width="87.6" height="2.0" fill="#bcc1dd"/><rect x="1255.2" y="617.5" width="87.6" height="2.0" fill="#7a83bb"/><rect x="1255.2" y="619.5" width="87.6" height="0.5" fill="#bcc1dd"/><rect x="1255.2" y="620.0" width="87.6" height="2.0" fill="#878fc2"/><rect x="1255.2" y="622.0" width="87.6" height="2.0" fill="#cacde4"/><rect x="1255.2" y="624.0" width="87.6" height="1.0" fill="#878fc2"/><rect x="1255.2" y="625.0" width="87.6" height="1.0" fill="#f4c0c1"/><rect x="1255.2" y="626.0" width="87.6" height="2.0" fill="#e4e6f1"/><rect x="1255.2" y="628.0" width="87.6" height="1.5" fill="#a2a8cf"/><rect x="1255.2" y="629.5" width="87.6" height="2.0" fill="#cacde4"/><rect x="1255.2" y="631.5" width="87.6" height="2.0" fill="#7a83bb"/><rect x="1255.2" y="633.5" width="87.6" height="1.0" fill="#bcc1dd"/><rect x="1255.2" y="634.5" width="87.6" height="1.5" fill="#7a83bb"/><rect x="1255.2" y="636.0" width="87.6" height="1.0" fill="#bcc1dd"/><rect x="1255.2" y="637.0" width="87.6" height="0.5" fill="#afb5d6"/><rect x="1255.2" y="637.5" width="87.6" height="1.0" fill="#7a83bb"/><rect x="1255.2" y="638.5" width="87.6" height="0.5" fill="#878fc2"/><rect x="1255.2" y="639.0" width="87.6" height="1.0" fill="#959cc9"/><rect x="1255.2" y="640.0" width="87.6" height="3.0" fill="#7a83bb"/><rect x="1255.2" y="643.0" width="87.6" height="2.0" fill="#e82b36"/><rect x="1255.2" y="645.0" width="87.6" height="0.5" fill="#e8353f"/><rect x="1255.2" y="645.5" width="87.6" height="1.0" fill="#f6cccd"/><rect x="1255.2" y="646.5" width="87.6" height="1.5" fill="#f2b3b5"/><rect x="1255.2" y="648.0" width="87.6" height="1.5" fill="#f6cccd"/><rect x="1255.2" y="649.5" width="87.6" height="0.5" fill="#f4c0c1"/><rect x="1255.2" y="650.0" width="87.6" height="1.5" fill="#7a83bb"/><rect x="1255.2" y="651.5" width="87.6" height="1.0" fill="#6d7ab6"/><rect x="1255.2" y="652.5" width="87.6" height="1.0" fill="#747eb9"/><rect x="1255.2" y="653.5" width="87.6" height="1.0" fill="#7a83bb"/><rect x="1255.2" y="654.5" width="87.6" height="0.5" fill="#6775b4"/><rect x="1255.2" y="655.0" width="87.6" height="3.5" fill="#f2f3f8"/><rect x="1255.2" y="658.5" width="87.6" height="0.5" fill="#e4e6f1"/><rect x="1255.2" y="659.5" width="87.6" height="0.5" fill="#fdf2f3"/><rect x="1255.2" y="661.0" width="87.6" height="1.0" fill="#fbe6e6"/><rect x="1255.2" y="663.0" width="87.6" height="1.0" fill="#fdf2f3"/><rect x="1255.2" y="664.0" width="87.6" height="3.0" fill="#bcc1dd"/><rect x="1255.2" y="667.0" width="87.6" height="0.5" fill="#cacde4"/><rect x="1255.2" y="667.5" width="87.6" height="0.5" fill="#7a83bb"/><rect x="1342.8" y="256.0" width="87.6" height="2.5" fill="#e9777a"/><rect x="1342.8" y="258.5" width="87.6" height="2.0" fill="#f4c0c1"/><rect x="1342.8" y="260.5" width="87.6" height="2.5" fill="#e9777a"/><rect x="1342.8" y="263.0" width="87.6" height="2.0" fill="#e98083"/><rect x="1342.8" y="265.0" width="87.6" height="2.5" fill="#f6cccd"/><rect x="1342.8" y="267.5" width="87.6" height="2.5" fill="#e82b36"/><rect x="1342.8" y="270.0" width="87.6" height="0.5" fill="#e8353f"/><rect x="1342.8" y="270.5" width="87.6" height="1.0" fill="#e8222e"/><rect x="1342.8" y="271.5" width="87.6" height="1.5" fill="#e82b36"/><rect x="1342.8" y="273.0" width="87.6" height="1.0" fill="#e8222e"/><rect x="1342.8" y="274.0" width="87.6" height="0.5" fill="#e82b36"/><rect x="1342.8" y="274.5" width="87.6" height="0.5" fill="#e84850"/><rect x="1342.8" y="275.0" width="87.6" height="1.0" fill="#e8353f"/><rect x="1342.8" y="276.0" width="87.6" height="1.0" fill="#e83e47"/><rect x="1342.8" y="277.0" width="87.6" height="0.5" fill="#e82b36"/><rect x="1342.8" y="277.5" width="87.6" height="0.5" fill="#e8353f"/><rect x="1342.8" y="278.0" width="87.6" height="1.0" fill="#e82b36"/><rect x="1342.8" y="279.0" width="87.6" height="1.5" fill="#afb5d6"/><rect x="1342.8" y="280.5" width="87.6" height="1.0" fill="#cacde4"/><rect x="1342.8" y="281.5" width="87.6" height="1.0" fill="#d7daeb"/><rect x="1342.8" y="282.5" width="87.6" height="1.5" fill="#f6cccd"/><rect x="1342.8" y="284.0" width="87.6" height="1.0" fill="#f8d9da"/><rect x="1342.8" y="285.0" width="87.6" height="1.5" fill="#f6cccd"/><rect x="1342.8" y="286.5" width="87.6" height="1.5" fill="#f4c0c1"/><rect x="1342.8" y="288.0" width="87.6" height="0.5" fill="#e98083"/><rect x="1342.8" y="288.5" width="87.6" height="1.5" fill="#cacde4"/><rect x="1342.8" y="290.0" width="87.6" height="0.5" fill="#d7daeb"/><rect x="1342.8" y="290.5" width="87.6" height="1.0" fill="#bcc1dd"/><rect x="1342.8" y="291.5" width="87.6" height="1.0" fill="#a2a8cf"/><rect x="1342.8" y="292.5" width="87.6" height="0.5" fill="#d7daeb"/><rect x="1342.8" y="293.0" width="87.6" height="0.5" fill="#878fc2"/><rect x="1342.8" y="293.5" width="87.6" height="0.5" fill="#7a83bb"/><rect x="1342.8" y="294.0" width="87.6" height="1.0" fill="#878fc2"/><rect x="1342.8" y="295.0" width="87.6" height="0.5" fill="#7a83bb"/><rect x="1342.8" y="295.5" width="87.6" height="1.0" fill="#5467ad"/><rect x="1342.8" y="296.5" width="87.6" height="3.5" fill="#7a83bb"/><rect x="1342.8" y="300.0" width="87.6" height="2.0" fill="#cacde4"/><rect x="1342.8" y="302.0" width="87.6" height="1.0" fill="#e9777a"/><rect x="1342.8" y="303.0" width="87.6" height="1.0" fill="#e96d72"/><rect x="1342.8" y="304.0" width="87.6" height="1.0" fill="#e98083"/><rect x="1342.8" y="305.0" width="87.6" height="1.5" fill="#eb8d8f"/><rect x="1342.8" y="306.5" width="87.6" height="0.5" fill="#e9777a"/><rect x="1342.8" y="307.0" width="87.6" height="1.0" fill="#f4c0c1"/><rect x="1342.8" y="308.0" width="87.6" height="1.0" fill="#f6cccd"/><rect x="1342.8" y="309.0" width="87.6" height="0.5" fill="#f4c0c1"/><rect x="1342.8" y="309.5" width="87.6" height="1.5" fill="#f6cccd"/><rect x="1342.8" y="311.0" width="87.6" height="1.5" fill="#e9777a"/><rect x="1342.8" y="312.5" width="87.6" height="2.5" fill="#e98083"/><rect x="1342.8" y="315.0" width="87.6" height="1.5" fill="#fdf2f3"/><rect x="1342.8" y="316.5" width="87.6" height="1.0" fill="#e8353f"/><rect x="1342.8" y="317.5" width="87.6" height="0.5" fill="#e8222e"/><rect x="1342.8" y="318.0" width="87.6" height="1.5" fill="#e82b36"/><rect x="1342.8" y="319.5" width="87.6" height="0.5" fill="#e83e47"/><rect x="1342.8" y="320.0" width="87.6" height="0.5" fill="#e8353f"/><rect x="1342.8" y="320.5" width="87.6" height="1.0" fill="#e84850"/><rect x="1342.8" y="321.5" width="87.6" height="1.0" fill="#fdf2f3"/><rect x="1342.8" y="322.5" width="87.6" height="1.0" fill="#e4e6f1"/><rect x="1342.8" y="323.5" width="87.6" height="0.5" fill="#cacde4"/><rect x="1342.8" y="324.0" width="87.6" height="0.5" fill="#afb5d6"/><rect x="1342.8" y="324.5" width="87.6" height="0.5" fill="#cacde4"/><rect x="1342.8" y="325.0" width="87.6" height="1.0" fill="#afb5d6"/><rect x="1342.8" y="326.0" width="87.6" height="1.0" fill="#d7daeb"/><rect x="1342.8" y="327.0" width="87.6" height="0.5" fill="#cacde4"/><rect x="1342.8" y="327.5" width="87.6" height="0.5" fill="#afb5d6"/><rect x="1342.8" y="328.0" width="87.6" height="0.5" fill="#6170b2"/><rect x="1342.8" y="328.5" width="87.6" height="0.5" fill="#5a6cb0"/><rect x="1342.8" y="329.0" width="87.6" height="1.0" fill="#747eb9"/><rect x="1342.8" y="330.0" width="87.6" height="2.5" fill="#bcc1dd"/><rect x="1342.8" y="332.5" width="87.6" height="1.0" fill="#7a83bb"/><rect x="1342.8" y="333.5" width="87.6" height="1.5" fill="#747eb9"/><rect x="1342.8" y="335.0" width="87.6" height="1.0" fill="#959cc9"/><rect x="1342.8" y="336.0" width="87.6" height="1.5" fill="#f4c0c1"/><rect x="1342.8" y="337.5" width="87.6" height="1.0" fill="#f6cccd"/><rect x="1342.8" y="338.5" width="87.6" height="1.5" fill="#f2f3f8"/><rect x="1342.8" y="340.0" width="87.6" height="0.5" fill="#fdf2f3"/><rect x="1342.8" y="340.5" width="87.6" height="1.0" fill="#cacde4"/><rect x="1342.8" y="342.5" width="87.6" height="2.0" fill="#f6cccd"/><rect x="1342.8" y="344.5" width="87.6" height="2.5" fill="#cacde4"/><rect x="1342.8" y="347.0" width="87.6" height="1.0" fill="#bcc1dd"/><rect x="1342.8" y="348.0" width="87.6" height="1.0" fill="#cacde4"/><rect x="1342.8" y="349.0" width="87.6" height="1.5" fill="#a2a8cf"/><rect x="1342.8" y="350.5" width="87.6" height="1.0" fill="#747eb9"/><rect x="1342.8" y="351.5" width="87.6" height="0.5" fill="#7a83bb"/><rect x="1342.8" y="352.0" width="87.6" height="1.0" fill="#878fc2"/><rect x="1342.8" y="353.0" width="87.6" height="1.5" fill="#7a83bb"/><rect x="1342.8" y="354.5" width="87.6" height="0.5" fill="#878fc2"/><rect x="1342.8" y="355.0" width="87.6" height="0.5" fill="#959cc9"/><rect x="1342.8" y="355.5" width="87.6" height="1.5" fill="#bcc1dd"/><rect x="1342.8" y="357.0" width="87.6" height="1.0" fill="#d7daeb"/><rect x="1342.8" y="358.0" width="87.6" height="1.0" fill="#f6cccd"/><rect x="1342.8" y="359.0" width="87.6" height="0.5" fill="#e82b36"/><rect x="1342.8" y="359.5" width="87.6" height="4.5" fill="#e8353f"/><rect x="1342.8" y="364.0" width="87.6" height="1.0" fill="#e98083"/><rect x="1342.8" y="365.0" width="87.6" height="1.5" fill="#eb8d8f"/><rect x="1342.8" y="366.5" width="87.6" height="1.5" fill="#e8353f"/><rect x="1342.8" y="368.0" width="87.6" height="1.5" fill="#e8222e"/><rect x="1342.8" y="369.5" width="87.6" height="1.0" fill="#eb8d8f"/><rect x="1342.8" y="370.5" width="87.6" height="1.5" fill="#e8222e"/><rect x="1342.8" y="372.0" width="87.6" height="0.5" fill="#e9777a"/><rect x="1342.8" y="372.5" width="87.6" height="1.0" fill="#e98083"/><rect x="1342.8" y="373.5" width="87.6" height="1.5" fill="#e8353f"/><rect x="1342.8" y="375.0" width="87.6" height="1.0" fill="#e96d72"/><rect x="1342.8" y="376.0" width="87.6" height="1.0" fill="#e98083"/><rect x="1342.8" y="377.0" width="87.6" height="3.5" fill="#e8222e"/><rect x="1342.8" y="380.5" width="87.6" height="1.0" fill="#eb8d8f"/><rect x="1342.8" y="381.5" width="87.6" height="1.5" fill="#e8353f"/><rect x="1342.8" y="383.0" width="87.6" height="0.5" fill="#e98083"/><rect x="1342.8" y="384.0" width="87.6" height="1.0" fill="#fbe6e6"/><rect x="1342.8" y="385.0" width="87.6" height="1.5" fill="#f2f3f8"/><rect x="1342.8" y="387.0" width="87.6" height="0.5" fill="#e4e6f1"/><rect x="1342.8" y="387.5" width="87.6" height="1.0" fill="#d7daeb"/><rect x="1342.8" y="388.5" width="87.6" height="1.0" fill="#cacde4"/><rect x="1342.8" y="389.5" width="87.6" height="1.0" fill="#d7daeb"/><rect x="1342.8" y="390.5" width="87.6" height="1.0" fill="#afb5d6"/><rect x="1342.8" y="391.5" width="87.6" height="1.5" fill="#bcc1dd"/><rect x="1342.8" y="393.0" width="87.6" height="2.5" fill="#e4e6f1"/><rect x="1342.8" y="395.5" width="87.6" height="2.0" fill="#bcc1dd"/><rect x="1342.8" y="397.5" width="87.6" height="2.0" fill="#afb5d6"/><rect x="1342.8" y="399.5" width="87.6" height="1.0" fill="#fdf2f3"/><rect x="1342.8" y="400.5" width="87.6" height="0.5" fill="#d7daeb"/><rect x="1342.8" y="401.0" width="87.6" height="1.0" fill="#7a83bb"/><rect x="1342.8" y="402.0" width="87.6" height="2.0" fill="#afb5d6"/><rect x="1342.8" y="404.0" width="87.6" height="4.0" fill="#878fc2"/><rect x="1342.8" y="408.0" width="87.6" height="2.0" fill="#cacde4"/><rect x="1342.8" y="412.0" width="87.6" height="1.5" fill="#fdf2f3"/><rect x="1342.8" y="413.5" width="87.6" height="1.5" fill="#e4e6f1"/><rect x="1342.8" y="415.0" width="87.6" height="1.0" fill="#bcc1dd"/><rect x="1342.8" y="416.0" width="87.6" height="0.5" fill="#cacde4"/><rect x="1342.8" y="416.5" width="87.6" height="0.5" fill="#d7daeb"/><rect x="1342.8" y="417.0" width="87.6" height="1.5" fill="#cacde4"/><rect x="1342.8" y="418.5" width="87.6" height="0.5" fill="#f2f3f8"/><rect x="1342.8" y="419.0" width="87.6" height="1.0" fill="#afb5d6"/><rect x="1342.8" y="420.0" width="87.6" height="1.0" fill="#cacde4"/><rect x="1342.8" y="421.0" width="87.6" height="0.5" fill="#afb5d6"/><rect x="1342.8" y="421.5" width="87.6" height="0.5" fill="#cacde4"/><rect x="1342.8" y="422.0" width="87.6" height="1.5" fill="#6170b2"/><rect x="1342.8" y="423.5" width="87.6" height="1.5" fill="#7a83bb"/><rect x="1342.8" y="425.0" width="87.6" height="1.5" fill="#e98083"/><rect x="1342.8" y="426.5" width="87.6" height="1.5" fill="#f4c0c1"/><rect x="1342.8" y="428.0" width="87.6" height="0.5" fill="#eb8d8f"/><rect x="1342.8" y="428.5" width="87.6" height="0.5" fill="#e98083"/><rect x="1342.8" y="429.0" width="87.6" height="1.5" fill="#7a83bb"/><rect x="1342.8" y="430.5" width="87.6" height="0.5" fill="#cacde4"/><rect x="1342.8" y="431.0" width="87.6" height="1.5" fill="#afb5d6"/><rect x="1342.8" y="432.5" width="87.6" height="1.0" fill="#cacde4"/><rect x="1342.8" y="433.5" width="87.6" height="1.5" fill="#7a83bb"/><rect x="1342.8" y="435.0" width="87.6" height="1.0" fill="#878fc2"/><rect x="1342.8" y="436.0" width="87.6" height="1.0" fill="#6d7ab6"/><rect x="1342.8" y="437.0" width="87.6" height="1.0" fill="#959cc9"/><rect x="1342.8" y="443.5" width="87.6" height="0.5" fill="#f6cccd"/><rect x="1342.8" y="444.0" width="87.6" height="1.0" fill="#f2b3b5"/><rect x="1342.8" y="445.0" width="87.6" height="1.0" fill="#afb5d6"/><rect x="1342.8" y="446.0" width="87.6" height="0.5" fill="#cacde4"/><rect x="1342.8" y="446.5" width="87.6" height="1.5" fill="#f6cccd"/><rect x="1342.8" y="448.0" width="87.6" height="0.5" fill="#f4c0c1"/><rect x="1342.8" y="448.5" width="87.6" height="1.0" fill="#f8d9da"/><rect x="1342.8" y="449.5" width="87.6" height="1.0" fill="#a2a8cf"/><rect x="1342.8" y="450.5" width="87.6" height="1.5" fill="#bcc1dd"/><rect x="1342.8" y="452.0" width="87.6" height="1.0" fill="#f8d9da"/><rect x="1342.8" y="453.0" width="87.6" height="1.5" fill="#6170b2"/><rect x="1342.8" y="454.5" width="87.6" height="2.5" fill="#5a6cb0"/><rect x="1342.8" y="457.0" width="87.6" height="0.5" fill="#4e62ab"/><rect x="1342.8" y="457.5" width="87.6" height="1.0" fill="#878fc2"/><rect x="1342.8" y="458.5" width="87.6" height="3.0" fill="#7a83bb"/><rect x="1342.8" y="461.5" width="87.6" height="1.0" fill="#d7daeb"/><rect x="1342.8" y="462.5" width="87.6" height="1.0" fill="#7a83bb"/><rect x="1342.8" y="463.5" width="87.6" height="3.0" fill="#bcc1dd"/><rect x="1342.8" y="466.5" width="87.6" height="1.5" fill="#afb5d6"/><rect x="1342.8" y="468.0" width="87.6" height="1.0" fill="#bcc1dd"/><rect x="1342.8" y="470.0" width="87.6" height="0.5" fill="#cacde4"/><rect x="1342.8" y="472.0" width="87.6" height="0.5" fill="#bcc1dd"/><rect x="1342.8" y="474.0" width="87.6" height="2.0" fill="#d7daeb"/><rect x="1342.8" y="476.0" width="87.6" height="1.0" fill="#878fc2"/><rect x="1342.8" y="477.0" width="87.6" height="1.0" fill="#cacde4"/><rect x="1342.8" y="478.0" width="87.6" height="2.0" fill="#747eb9"/><rect x="1342.8" y="480.0" width="87.6" height="1.0" fill="#7a83bb"/><rect x="1342.8" y="481.0" width="87.6" height="2.0" fill="#f2b3b5"/><rect x="1342.8" y="483.0" width="87.6" height="2.0" fill="#bcc1dd"/><rect x="1342.8" y="485.0" width="87.6" height="0.5" fill="#f4c0c1"/><rect x="1342.8" y="485.5" width="87.6" height="1.5" fill="#6775b4"/><rect x="1342.8" y="487.0" width="87.6" height="0.5" fill="#5467ad"/><rect x="1342.8" y="487.5" width="87.6" height="4.0" fill="#6170b2"/><rect x="1342.8" y="491.5" width="87.6" height="1.5" fill="#afb5d6"/><rect x="1342.8" y="493.0" width="87.6" height="3.0" fill="#cacde4"/><rect x="1342.8" y="496.0" width="87.6" height="0.5" fill="#f4c0c1"/><rect x="1342.8" y="496.5" width="87.6" height="2.0" fill="#f6cccd"/><rect x="1342.8" y="498.5" width="87.6" height="1.0" fill="#bcc1dd"/><rect x="1342.8" y="499.5" width="87.6" height="1.0" fill="#7a83bb"/><rect x="1342.8" y="500.5" width="87.6" height="1.5" fill="#d7daeb"/><rect x="1342.8" y="502.0" width="87.6" height="0.5" fill="#afb5d6"/><rect x="1342.8" y="502.5" width="87.6" height="0.5" fill="#cacde4"/><rect x="1342.8" y="503.0" width="87.6" height="1.5" fill="#878fc2"/><rect x="1342.8" y="504.5" width="87.6" height="2.0" fill="#6170b2"/><rect x="1342.8" y="506.5" width="87.6" height="0.5" fill="#6775b4"/><rect x="1342.8" y="507.0" width="87.6" height="1.5" fill="#7a83bb"/><rect x="1342.8" y="509.5" width="87.6" height="1.0" fill="#f2f3f8"/><rect x="1342.8" y="511.0" width="87.6" height="1.5" fill="#d7daeb"/><rect x="1342.8" y="512.5" width="87.6" height="1.5" fill="#f2b3b5"/><rect x="1342.8" y="514.0" width="87.6" height="3.0" fill="#e9777a"/><rect x="1342.8" y="517.0" width="87.6" height="1.5" fill="#f6cccd"/><rect x="1342.8" y="518.5" width="87.6" height="0.5" fill="#e9777a"/><rect x="1342.8" y="519.0" width="87.6" height="1.0" fill="#e8353f"/><rect x="1342.8" y="520.0" width="87.6" height="1.5" fill="#e8222e"/><rect x="1342.8" y="521.5" width="87.6" height="1.0" fill="#e83e47"/><rect x="1342.8" y="522.5" width="87.6" height="0.5" fill="#e8353f"/><rect x="1342.8" y="523.0" width="87.6" height="2.0" fill="#e83e47"/><rect x="1342.8" y="525.0" width="87.6" height="0.5" fill="#e8353f"/><rect x="1342.8" y="525.5" width="87.6" height="2.0" fill="#e8222e"/><rect x="1342.8" y="527.5" width="87.6" height="1.5" fill="#e83e47"/><rect x="1342.8" y="529.0" width="87.6" height="0.5" fill="#e82b36"/><rect x="1342.8" y="529.5" width="87.6" height="0.5" fill="#e8222e"/><rect x="1342.8" y="530.0" width="87.6" height="0.5" fill="#e8222e"/><rect x="1342.8" y="530.5" width="87.6" height="1.0" fill="#e8353f"/><rect x="1342.8" y="531.5" width="87.6" height="1.5" fill="#e82b36"/><rect x="1342.8" y="533.0" width="87.6" height="1.5" fill="#e8353f"/><rect x="1342.8" y="534.5" width="87.6" height="0.5" fill="#e8222e"/><rect x="1342.8" y="535.0" width="87.6" height="2.5" fill="#e82b36"/><rect x="1342.8" y="537.5" width="87.6" height="1.0" fill="#e84850"/><rect x="1342.8" y="538.5" width="87.6" height="0.5" fill="#e8353f"/><rect x="1342.8" y="542.5" width="87.6" height="1.5" fill="#fdf2f3"/><rect x="1342.8" y="546.0" width="87.6" height="0.5" fill="#fdf2f3"/><rect x="1342.8" y="546.5" width="87.6" height="0.5" fill="#f2f3f8"/><rect x="1342.8" y="547.0" width="87.6" height="1.5" fill="#7a83bb"/><rect x="1342.8" y="548.5" width="87.6" height="4.0" fill="#6170b2"/><rect x="1342.8" y="552.5" width="87.6" height="1.5" fill="#878fc2"/><rect x="1342.8" y="556.5" width="87.6" height="1.0" fill="#f4c0c1"/><rect x="1342.8" y="557.5" width="87.6" height="1.0" fill="#f2b3b5"/><rect x="1342.8" y="558.5" width="87.6" height="1.0" fill="#f4c0c1"/><rect x="1342.8" y="559.5" width="87.6" height="0.5" fill="#f6cccd"/><rect x="1342.8" y="560.0" width="87.6" height="1.5" fill="#e82b36"/><rect x="1342.8" y="561.5" width="87.6" height="1.0" fill="#e8222e"/><rect x="1342.8" y="562.5" width="87.6" height="1.0" fill="#e82b36"/><rect x="1342.8" y="563.5" width="87.6" height="1.0" fill="#e8353f"/><rect x="1342.8" y="564.5" width="87.6" height="2.5" fill="#e82b36"/><rect x="1342.8" y="567.0" width="87.6" height="1.0" fill="#e4e6f1"/><rect x="1342.8" y="570.0" width="87.6" height="1.0" fill="#fdf2f3"/><rect x="1342.8" y="571.0" width="87.6" height="0.5" fill="#fbe6e6"/><rect x="1342.8" y="571.5" width="87.6" height="1.0" fill="#878fc2"/><rect x="1342.8" y="572.5" width="87.6" height="1.0" fill="#7a83bb"/><rect x="1342.8" y="573.5" width="87.6" height="1.5" fill="#878fc2"/><rect x="1342.8" y="575.0" width="87.6" height="1.0" fill="#959cc9"/><rect x="1342.8" y="576.0" width="87.6" height="3.0" fill="#d7daeb"/><rect x="1342.8" y="579.0" width="87.6" height="0.5" fill="#cacde4"/><rect x="1342.8" y="579.5" width="87.6" height="2.0" fill="#ed999c"/><rect x="1342.8" y="581.5" width="87.6" height="1.5" fill="#e98083"/><rect x="1342.8" y="583.0" width="87.6" height="1.5" fill="#d7daeb"/><rect x="1342.8" y="584.5" width="87.6" height="1.0" fill="#f2b3b5"/><rect x="1342.8" y="585.5" width="87.6" height="1.0" fill="#f4c0c1"/><rect x="1342.8" y="586.5" width="87.6" height="0.5" fill="#bcc1dd"/><rect x="1342.8" y="587.0" width="87.6" height="1.0" fill="#d7daeb"/><rect x="1342.8" y="588.0" width="87.6" height="1.5" fill="#afb5d6"/><rect x="1342.8" y="589.5" width="87.6" height="1.0" fill="#747eb9"/><rect x="1342.8" y="590.5" width="87.6" height="1.5" fill="#a2a8cf"/><rect x="1342.8" y="592.0" width="87.6" height="1.5" fill="#747eb9"/><rect x="1342.8" y="593.5" width="87.6" height="0.5" fill="#f4c0c1"/><rect x="1342.8" y="594.0" width="87.6" height="3.0" fill="#f6cccd"/><rect x="1342.8" y="597.0" width="87.6" height="0.5" fill="#f4c0c1"/><rect x="1342.8" y="597.5" width="87.6" height="0.5" fill="#f6cccd"/><rect x="1342.8" y="598.0" width="87.6" height="2.5" fill="#7a83bb"/><rect x="1342.8" y="600.5" width="87.6" height="0.5" fill="#959cc9"/><rect x="1342.8" y="601.0" width="87.6" height="0.5" fill="#7a83bb"/><rect x="1342.8" y="601.5" width="87.6" height="0.5" fill="#878fc2"/><rect x="1342.8" y="602.0" width="87.6" height="0.5" fill="#7a83bb"/><rect x="1342.8" y="602.5" width="87.6" height="1.0" fill="#fdf2f3"/><rect x="1342.8" y="603.5" width="87.6" height="0.5" fill="#fbe6e6"/><rect x="1342.8" y="604.0" width="87.6" height="1.5" fill="#6170b2"/><rect x="1342.8" y="605.5" width="87.6" height="2.0" fill="#6775b4"/><rect x="1342.8" y="607.5" width="87.6" height="1.0" fill="#6170b2"/><rect x="1342.8" y="608.5" width="87.6" height="0.5" fill="#f6cccd"/><rect x="1342.8" y="610.5" width="87.6" height="2.0" fill="#f2f3f8"/><rect x="1342.8" y="612.5" width="87.6" height="1.0" fill="#f4c0c1"/><rect x="1342.8" y="613.5" width="87.6" height="1.0" fill="#fdf2f3"/><rect x="1342.8" y="614.5" width="87.6" height="1.0" fill="#eb8d8f"/><rect x="1342.8" y="615.5" width="87.6" height="1.5" fill="#e98083"/><rect x="1342.8" y="617.0" width="87.6" height="0.5" fill="#eb8d8f"/><rect x="1342.8" y="617.5" width="87.6" height="1.0" fill="#bcc1dd"/><rect x="1342.8" y="618.5" width="87.6" height="1.5" fill="#7a83bb"/><rect x="1342.8" y="620.0" width="87.6" height="1.5" fill="#afb5d6"/><rect x="1342.8" y="621.5" width="87.6" height="1.0" fill="#878fc2"/><rect x="1342.8" y="622.5" width="87.6" height="1.0" fill="#cacde4"/><rect x="1342.8" y="623.5" width="87.6" height="2.0" fill="#bcc1dd"/><rect x="1342.8" y="625.5" width="87.6" height="0.5" fill="#cacde4"/><rect x="1342.8" y="626.0" width="87.6" height="1.5" fill="#878fc2"/><rect x="1342.8" y="627.5" width="87.6" height="0.5" fill="#afb5d6"/><rect x="1342.8" y="628.0" width="87.6" height="1.0" fill="#f2f3f8"/><rect x="1342.8" y="629.0" width="87.6" height="1.5" fill="#fbe6e6"/><rect x="1342.8" y="630.5" width="87.6" height="1.0" fill="#f4c0c1"/><rect x="1342.8" y="631.5" width="87.6" height="1.0" fill="#f8d9da"/><rect x="1342.8" y="632.5" width="87.6" height="3.0" fill="#fbe6e6"/><rect x="1342.8" y="635.5" width="87.6" height="0.5" fill="#f6cccd"/><rect x="1342.8" y="636.0" width="87.6" height="2.0" fill="#e82b36"/><rect x="1342.8" y="638.0" width="87.6" height="1.0" fill="#e8353f"/><rect x="1342.8" y="639.0" width="87.6" height="1.5" fill="#eb8d8f"/><rect x="1342.8" y="640.5" width="87.6" height="1.5" fill="#e8222e"/><rect x="1342.8" y="642.0" width="87.6" height="1.5" fill="#f0a6a8"/><rect x="1342.8" y="643.5" width="87.6" height="1.0" fill="#f4c0c1"/><rect x="1342.8" y="644.5" width="87.6" height="1.0" fill="#e83e47"/><rect x="1342.8" y="645.5" width="87.6" height="1.5" fill="#e82b36"/><rect x="1342.8" y="647.0" width="87.6" height="1.0" fill="#7a83bb"/><rect x="1342.8" y="648.0" width="87.6" height="1.0" fill="#a2a8cf"/><rect x="1342.8" y="649.0" width="87.6" height="0.5" fill="#d7daeb"/><rect x="1342.8" y="649.5" width="87.6" height="0.5" fill="#878fc2"/><rect x="1342.8" y="650.0" width="87.6" height="1.0" fill="#7a83bb"/><rect x="1342.8" y="651.0" width="87.6" height="1.5" fill="#747eb9"/><rect x="1342.8" y="652.5" width="87.6" height="1.0" fill="#afb5d6"/><rect x="1342.8" y="653.5" width="87.6" height="1.5" fill="#bcc1dd"/><rect x="1342.8" y="655.5" width="87.6" height="1.0" fill="#fbe6e6"/><rect x="1342.8" y="657.0" width="87.6" height="0.5" fill="#fdf2f3"/><rect x="1342.8" y="657.5" width="87.6" height="1.5" fill="#fbe6e6"/><rect x="1342.8" y="659.0" width="87.6" height="0.5" fill="#fdf2f3"/><rect x="1342.8" y="659.5" width="87.6" height="0.5" fill="#e9777a"/><rect x="1342.8" y="660.0" width="87.6" height="2.0" fill="#e98083"/><rect x="1342.8" y="662.0" width="87.6" height="3.5" fill="#bcc1dd"/><rect x="1342.8" y="665.5" width="87.6" height="2.5" fill="#878fc2"/></g>
<text transform="translate(115.50,835.80) scale(0.945,1)" font-size="21.6" fill="#000">Top 30 genes</text>
<rect x="115.8" y="855.0" width="490.3" height="632.0" fill="#fff"/>
<line x1="115.8" x2="606.1" y1="883.5" y2="883.5" stroke="#e8e8e8" stroke-width="1.7"/>
<line x1="115.8" x2="606.1" y1="916.4" y2="916.4" stroke="#e8e8e8" stroke-width="1.7"/>
<line x1="115.8" x2="606.1" y1="1024.9" y2="1024.9" stroke="#e8e8e8" stroke-width="1.7"/>
<line x1="115.8" x2="606.1" y1="1133.2" y2="1133.2" stroke="#e8e8e8" stroke-width="1.7"/>
<line x1="115.8" x2="606.1" y1="1241.5" y2="1241.5" stroke="#e8e8e8" stroke-width="1.7"/>
<line x1="115.8" x2="606.1" y1="1349.9" y2="1349.9" stroke="#e8e8e8" stroke-width="1.7"/>
<line x1="115.8" x2="606.1" y1="1415.6" y2="1415.6" stroke="#e8e8e8" stroke-width="1.7"/>
<line x1="115.8" x2="606.1" y1="1448.3" y2="1448.3" stroke="#e8e8e8" stroke-width="1.7"/>
<line x1="244.05" x2="244.05" y1="855.0" y2="1487.0" stroke="#e8e8e8" stroke-width="1.7"/>
<line x1="380.3" x2="380.3" y1="855.0" y2="1487.0" stroke="#e8e8e8" stroke-width="1.7"/>
<line x1="516.5" x2="516.5" y1="855.0" y2="1487.0" stroke="#e8e8e8" stroke-width="1.7"/>
<line x1="115.8" x2="606.1" y1="949.3" y2="949.3" stroke="#e6e6e6" stroke-width="3.2"/>
<line x1="115.8" x2="606.1" y1="1100.6" y2="1100.6" stroke="#e6e6e6" stroke-width="3.2"/>
<line x1="115.8" x2="606.1" y1="1165.8" y2="1165.8" stroke="#e6e6e6" stroke-width="3.2"/>
<line x1="115.8" x2="606.1" y1="1317.1" y2="1317.1" stroke="#e6e6e6" stroke-width="3.2"/>
<line x1="115.8" x2="606.1" y1="1382.3" y2="1382.3" stroke="#e6e6e6" stroke-width="3.2"/>
<line x1="175.9" x2="175.9" y1="855.0" y2="1487.0" stroke="#e6e6e6" stroke-width="3.2"/>
<line x1="312.2" x2="312.2" y1="855.0" y2="1487.0" stroke="#e6e6e6" stroke-width="3.2"/>
<line x1="448.4" x2="448.4" y1="855.0" y2="1487.0" stroke="#e6e6e6" stroke-width="3.2"/>
<line x1="584.6" x2="584.6" y1="855.0" y2="1487.0" stroke="#e6e6e6" stroke-width="3.2"/>
<path d="M175.90 1252.02L178.21 1252.00L180.52 1251.97L182.83 1251.93L185.14 1251.88L187.45 1251.81L189.76 1251.72L192.07 1251.60L194.38 1251.44L196.69 1251.24L199.00 1250.97L201.31 1250.62L203.62 1250.16L205.93 1249.56L208.24 1248.78L210.55 1247.77L212.86 1246.45L215.17 1244.75L217.48 1242.56L219.79 1239.75L222.10 1236.18L224.41 1231.66L226.72 1226.04L229.03 1219.10L231.34 1210.71L233.65 1200.76L235.96 1189.23L238.27 1176.24L240.58 1162.05L242.89 1147.08L245.21 1131.82L247.52 1116.85L249.83 1102.66L252.14 1089.67L254.45 1078.14L256.76 1068.19L259.07 1059.80L261.38 1052.86L263.69 1047.24L266.00 1042.72L268.31 1039.15L270.62 1036.34L272.93 1034.15L275.24 1032.45L277.55 1031.13L279.86 1030.12L282.17 1029.34L284.48 1028.74L286.79 1028.28L289.10 1027.93L291.41 1027.66L293.72 1027.46L296.03 1027.30L298.34 1027.18L300.65 1027.09L302.96 1027.02L305.27 1026.97L307.58 1026.93L309.89 1026.90L312.20 1026.88L312.20 1026.79L314.51 1026.79L316.82 1026.78L319.13 1026.78L321.43 1026.77L323.74 1026.76L326.05 1026.74L328.36 1026.73L330.67 1026.70L332.98 1026.67L335.28 1026.63L337.59 1026.58L339.90 1026.52L342.21 1026.43L344.52 1026.31L346.83 1026.17L349.14 1025.97L351.44 1025.72L353.75 1025.40L356.06 1024.99L358.37 1024.47L360.68 1023.81L362.99 1022.98L365.29 1021.97L367.60 1020.74L369.91 1019.28L372.22 1017.59L374.53 1015.69L376.84 1013.61L379.15 1011.42L381.45 1009.18L383.76 1006.99L386.07 1004.91L388.38 1003.01L390.69 1001.32L393.00 999.86L395.31 998.63L397.61 997.62L399.92 996.79L402.23 996.13L404.54 995.61L406.85 995.20L409.16 994.88L411.46 994.63L413.77 994.43L416.08 994.29L418.39 994.17L420.70 994.08L423.01 994.02L425.32 993.97L427.62 993.93L429.93 993.90L432.24 993.87L434.55 993.86L436.86 993.84L439.17 993.83L441.47 993.82L443.78 993.82L446.09 993.81L448.40 993.81L448.40 993.83L450.71 993.84L453.02 993.85L455.33 993.86L457.63 993.88L459.94 993.91L462.25 993.94L464.56 993.99L466.87 994.04L469.18 994.12L471.48 994.22L473.79 994.35L476.10 994.52L478.41 994.74L480.72 995.03L483.03 995.41L485.34 995.89L487.64 996.52L489.95 997.34L492.26 998.38L494.57 999.70L496.88 1001.37L499.19 1003.46L501.49 1006.03L503.80 1009.14L506.11 1012.83L508.42 1017.10L510.73 1021.92L513.04 1027.17L515.35 1032.72L517.65 1038.38L519.96 1043.93L522.27 1049.18L524.58 1054.00L526.89 1058.27L529.20 1061.96L531.51 1065.07L533.81 1067.64L536.12 1069.73L538.43 1071.40L540.74 1072.72L543.05 1073.76L545.36 1074.58L547.66 1075.21L549.97 1075.69L552.28 1076.07L554.59 1076.36L556.90 1076.58L559.21 1076.75L561.52 1076.88L563.82 1076.98L566.13 1077.06L568.44 1077.11L570.75 1077.16L573.06 1077.19L575.37 1077.22L577.67 1077.24L579.98 1077.25L582.29 1077.26L584.60 1077.27" fill="none" stroke="#E8232F" stroke-width="2" stroke-dasharray="8.4 4.2"/>
<path d="M175.90 1298.40L178.21 1298.40L180.52 1298.41L182.83 1298.41L185.14 1298.41L187.45 1298.41L189.76 1298.41L192.07 1298.42L194.38 1298.43L196.69 1298.43L199.00 1298.44L201.31 1298.46L203.62 1298.47L205.93 1298.50L208.24 1298.53L210.55 1298.57L212.86 1298.62L215.17 1298.68L217.48 1298.77L219.79 1298.88L222.10 1299.01L224.41 1299.19L226.72 1299.41L229.03 1299.67L231.34 1300.00L233.65 1300.38L235.96 1300.83L238.27 1301.33L240.58 1301.88L242.89 1302.46L245.21 1303.04L247.52 1303.62L249.83 1304.17L252.14 1304.67L254.45 1305.12L256.76 1305.50L259.07 1305.83L261.38 1306.09L263.69 1306.31L266.00 1306.49L268.31 1306.62L270.62 1306.73L272.93 1306.82L275.24 1306.88L277.55 1306.93L279.86 1306.97L282.17 1307.00L284.48 1307.03L286.79 1307.04L289.10 1307.06L291.41 1307.07L293.72 1307.07L296.03 1307.08L298.34 1307.09L300.65 1307.09L302.96 1307.09L305.27 1307.09L307.58 1307.09L309.89 1307.10L312.20 1307.10L312.20 1307.01L314.51 1306.99L316.82 1306.95L319.13 1306.90L321.43 1306.84L323.74 1306.76L326.05 1306.66L328.36 1306.52L330.67 1306.34L332.98 1306.10L335.28 1305.79L337.59 1305.38L339.90 1304.86L342.21 1304.16L344.52 1303.26L346.83 1302.09L349.14 1300.57L351.44 1298.60L353.75 1296.06L356.06 1292.82L358.37 1288.68L360.68 1283.46L362.99 1276.95L365.29 1268.93L367.60 1259.23L369.91 1247.72L372.22 1234.38L374.53 1219.35L376.84 1202.94L379.15 1185.62L381.45 1167.98L383.76 1150.66L386.07 1134.25L388.38 1119.22L390.69 1105.88L393.00 1094.37L395.31 1084.67L397.61 1076.65L399.92 1070.14L402.23 1064.92L404.54 1060.78L406.85 1057.54L409.16 1055.00L411.46 1053.03L413.77 1051.51L416.08 1050.34L418.39 1049.44L420.70 1048.74L423.01 1048.22L425.32 1047.81L427.62 1047.50L429.93 1047.26L432.24 1047.08L434.55 1046.94L436.86 1046.84L439.17 1046.76L441.47 1046.70L443.78 1046.65L446.09 1046.61L448.40 1046.59L448.40 1046.59L450.71 1046.61L453.02 1046.65L455.33 1046.69L457.63 1046.75L459.94 1046.83L462.25 1046.94L464.56 1047.07L466.87 1047.25L469.18 1047.48L471.48 1047.79L473.79 1048.18L476.10 1048.71L478.41 1049.38L480.72 1050.27L483.03 1051.42L485.34 1052.92L487.64 1054.85L489.95 1057.34L492.26 1060.53L494.57 1064.59L496.88 1069.72L499.19 1076.12L501.49 1083.99L503.80 1093.53L506.11 1104.84L508.42 1117.94L510.73 1132.70L513.04 1148.82L515.35 1165.84L517.65 1183.16L519.96 1200.18L522.27 1216.30L524.58 1231.06L526.89 1244.16L529.20 1255.47L531.51 1265.01L533.81 1272.88L536.12 1279.28L538.43 1284.41L540.74 1288.47L543.05 1291.66L545.36 1294.15L547.66 1296.08L549.97 1297.58L552.28 1298.73L554.59 1299.62L556.90 1300.29L559.21 1300.82L561.52 1301.21L563.82 1301.52L566.13 1301.75L568.44 1301.93L570.75 1302.06L573.06 1302.17L575.37 1302.25L577.67 1302.31L579.98 1302.35L582.29 1302.39L584.60 1302.41" fill="none" stroke="#52B350" stroke-width="2" stroke-dasharray="8.4 4.2"/>
<path d="M175.90 1138.20L178.21 1138.20L180.52 1138.20L182.83 1138.20L185.14 1138.20L187.45 1138.20L189.76 1138.20L192.07 1138.19L194.38 1138.19L196.69 1138.19L199.00 1138.19L201.31 1138.18L203.62 1138.18L205.93 1138.17L208.24 1138.16L210.55 1138.15L212.86 1138.13L215.17 1138.11L217.48 1138.09L219.79 1138.05L222.10 1138.01L224.41 1137.96L226.72 1137.89L229.03 1137.80L231.34 1137.70L233.65 1137.58L235.96 1137.45L238.27 1137.29L240.58 1137.12L242.89 1136.94L245.21 1136.76L247.52 1136.58L249.83 1136.41L252.14 1136.25L254.45 1136.12L256.76 1136.00L259.07 1135.90L261.38 1135.81L263.69 1135.74L266.00 1135.69L268.31 1135.65L270.62 1135.61L272.93 1135.59L275.24 1135.57L277.55 1135.55L279.86 1135.54L282.17 1135.53L284.48 1135.52L286.79 1135.52L289.10 1135.51L291.41 1135.51L293.72 1135.51L296.03 1135.51L298.34 1135.50L300.65 1135.50L302.96 1135.50L305.27 1135.50L307.58 1135.50L309.89 1135.50L312.20 1135.50L312.20 1135.52L314.51 1135.53L316.82 1135.54L319.13 1135.55L321.43 1135.57L323.74 1135.59L326.05 1135.62L328.36 1135.66L330.67 1135.71L332.98 1135.77L335.28 1135.86L337.59 1135.97L339.90 1136.12L342.21 1136.31L344.52 1136.55L346.83 1136.87L349.14 1137.29L351.44 1137.83L353.75 1138.53L356.06 1139.42L358.37 1140.55L360.68 1141.99L362.99 1143.77L365.29 1145.97L367.60 1148.63L369.91 1151.79L372.22 1155.45L374.53 1159.58L376.84 1164.08L379.15 1168.83L381.45 1173.67L383.76 1178.42L386.07 1182.92L388.38 1187.05L390.69 1190.71L393.00 1193.87L395.31 1196.53L397.61 1198.73L399.92 1200.51L402.23 1201.95L404.54 1203.08L406.85 1203.97L409.16 1204.67L411.46 1205.21L413.77 1205.63L416.08 1205.95L418.39 1206.19L420.70 1206.38L423.01 1206.53L425.32 1206.64L427.62 1206.73L429.93 1206.79L432.24 1206.84L434.55 1206.88L436.86 1206.91L439.17 1206.93L441.47 1206.95L443.78 1206.96L446.09 1206.97L448.40 1206.98L448.40 1206.92L450.71 1206.89L453.02 1206.86L455.33 1206.82L457.63 1206.76L459.94 1206.69L462.25 1206.59L464.56 1206.47L466.87 1206.30L469.18 1206.08L471.48 1205.80L473.79 1205.43L476.10 1204.94L478.41 1204.31L480.72 1203.48L483.03 1202.40L485.34 1201.01L487.64 1199.20L489.95 1196.87L492.26 1193.89L494.57 1190.09L496.88 1185.30L499.19 1179.33L501.49 1171.97L503.80 1163.06L506.11 1152.49L508.42 1140.25L510.73 1126.46L513.04 1111.40L515.35 1095.50L517.65 1079.30L519.96 1063.40L522.27 1048.34L524.58 1034.55L526.89 1022.31L529.20 1011.74L531.51 1002.83L533.81 995.47L536.12 989.50L538.43 984.71L540.74 980.91L543.05 977.93L545.36 975.60L547.66 973.79L549.97 972.40L552.28 971.32L554.59 970.49L556.90 969.86L559.21 969.37L561.52 969.00L563.82 968.72L566.13 968.50L568.44 968.33L570.75 968.21L573.06 968.11L575.37 968.04L577.67 967.98L579.98 967.94L582.29 967.91L584.60 967.88" fill="none" stroke="#3A5BAA" stroke-width="2"/>
<path d="M175.90 974.60L178.21 974.60L180.52 974.60L182.83 974.60L185.14 974.60L187.45 974.60L189.76 974.60L192.07 974.60L194.38 974.60L196.69 974.61L199.00 974.61L201.31 974.61L203.62 974.61L205.93 974.62L208.24 974.62L210.55 974.63L212.86 974.64L215.17 974.65L217.48 974.66L219.79 974.68L222.10 974.71L224.41 974.74L226.72 974.77L229.03 974.82L231.34 974.88L233.65 974.94L235.96 975.02L238.27 975.11L240.58 975.20L242.89 975.30L245.21 975.40L247.52 975.50L249.83 975.59L252.14 975.68L254.45 975.76L256.76 975.82L259.07 975.88L261.38 975.93L263.69 975.96L266.00 975.99L268.31 976.02L270.62 976.04L272.93 976.05L275.24 976.06L277.55 976.07L279.86 976.08L282.17 976.08L284.48 976.09L286.79 976.09L289.10 976.09L291.41 976.09L293.72 976.10L296.03 976.10L298.34 976.10L300.65 976.10L302.96 976.10L305.27 976.10L307.58 976.10L309.89 976.10L312.20 976.10L312.20 976.07L314.51 976.06L316.82 976.05L319.13 976.03L321.43 976.01L323.74 975.98L326.05 975.94L328.36 975.89L330.67 975.83L332.98 975.74L335.28 975.63L337.59 975.49L339.90 975.30L342.21 975.05L344.52 974.73L346.83 974.31L349.14 973.76L351.44 973.06L353.75 972.15L356.06 970.99L358.37 969.51L360.68 967.64L362.99 965.31L365.29 962.44L367.60 958.96L369.91 954.84L372.22 950.06L374.53 944.68L376.84 938.81L379.15 932.61L381.45 926.29L383.76 920.09L386.07 914.22L388.38 908.84L390.69 904.06L393.00 899.94L395.31 896.46L397.61 893.59L399.92 891.26L402.23 889.39L404.54 887.91L406.85 886.75L409.16 885.84L411.46 885.14L413.77 884.59L416.08 884.17L418.39 883.85L420.70 883.60L423.01 883.41L425.32 883.27L427.62 883.16L429.93 883.07L432.24 883.01L434.55 882.96L436.86 882.92L439.17 882.89L441.47 882.87L443.78 882.85L446.09 882.84L448.40 882.83L448.40 882.90L450.71 882.93L453.02 882.97L455.33 883.02L457.63 883.09L459.94 883.18L462.25 883.30L464.56 883.46L466.87 883.66L469.18 883.93L471.48 884.28L473.79 884.74L476.10 885.34L478.41 886.12L480.72 887.14L483.03 888.47L485.34 890.19L487.64 892.41L489.95 895.28L492.26 898.96L494.57 903.64L496.88 909.54L499.19 916.91L501.49 925.97L503.80 936.95L506.11 949.98L508.42 965.07L510.73 982.06L513.04 1000.63L515.35 1020.22L517.65 1040.18L519.96 1059.77L522.27 1078.34L524.58 1095.33L526.89 1110.42L529.20 1123.45L531.51 1134.43L533.81 1143.49L536.12 1150.86L538.43 1156.76L540.74 1161.44L543.05 1165.12L545.36 1167.99L547.66 1170.21L549.97 1171.93L552.28 1173.26L554.59 1174.28L556.90 1175.06L559.21 1175.66L561.52 1176.12L563.82 1176.47L566.13 1176.74L568.44 1176.94L570.75 1177.10L573.06 1177.22L575.37 1177.31L577.67 1177.38L579.98 1177.43L582.29 1177.47L584.60 1177.50" fill="none" stroke="#F0B5BE" stroke-width="2" stroke-dasharray="8.4 4.2"/>
<path d="M175.90 1127.30L178.21 1127.30L180.52 1127.30L182.83 1127.30L185.14 1127.30L187.45 1127.30L189.76 1127.30L192.07 1127.30L194.38 1127.31L196.69 1127.31L199.00 1127.31L201.31 1127.31L203.62 1127.32L205.93 1127.32L208.24 1127.33L210.55 1127.34L212.86 1127.35L215.17 1127.37L217.48 1127.38L219.79 1127.41L222.10 1127.44L224.41 1127.48L226.72 1127.53L229.03 1127.59L231.34 1127.67L233.65 1127.76L235.96 1127.86L238.27 1127.97L240.58 1128.10L242.89 1128.23L245.21 1128.37L247.52 1128.50L249.83 1128.63L252.14 1128.74L254.45 1128.84L256.76 1128.93L259.07 1129.01L261.38 1129.07L263.69 1129.12L266.00 1129.16L268.31 1129.19L270.62 1129.22L272.93 1129.23L275.24 1129.25L277.55 1129.26L279.86 1129.27L282.17 1129.28L284.48 1129.28L286.79 1129.29L289.10 1129.29L291.41 1129.29L293.72 1129.29L296.03 1129.30L298.34 1129.30L300.65 1129.30L302.96 1129.30L305.27 1129.30L307.58 1129.30L309.89 1129.30L312.20 1129.30L312.20 1129.25L314.51 1129.24L316.82 1129.22L319.13 1129.19L321.43 1129.16L323.74 1129.11L326.05 1129.06L328.36 1128.98L330.67 1128.88L332.98 1128.75L335.28 1128.58L337.59 1128.36L339.90 1128.07L342.21 1127.69L344.52 1127.20L346.83 1126.55L349.14 1125.72L351.44 1124.64L353.75 1123.25L356.06 1121.47L358.37 1119.20L360.68 1116.34L362.99 1112.77L365.29 1108.37L367.60 1103.05L369.91 1096.74L372.22 1089.42L374.53 1081.18L376.84 1072.19L379.15 1062.69L381.45 1053.01L383.76 1043.51L386.07 1034.52L388.38 1026.28L390.69 1018.96L393.00 1012.65L395.31 1007.33L397.61 1002.93L399.92 999.36L402.23 996.50L404.54 994.23L406.85 992.45L409.16 991.06L411.46 989.98L413.77 989.15L416.08 988.50L418.39 988.01L420.70 987.63L423.01 987.34L425.32 987.12L427.62 986.95L429.93 986.82L432.24 986.72L434.55 986.64L436.86 986.59L439.17 986.54L441.47 986.51L443.78 986.48L446.09 986.46L448.40 986.45L448.40 986.38L450.71 986.37L453.02 986.36L455.33 986.35L457.63 986.33L459.94 986.31L462.25 986.28L464.56 986.24L466.87 986.19L469.18 986.13L471.48 986.04L473.79 985.93L476.10 985.78L478.41 985.60L480.72 985.35L483.03 985.03L485.34 984.61L487.64 984.07L489.95 983.38L492.26 982.49L494.57 981.35L496.88 979.92L499.19 978.14L501.49 975.94L503.80 973.28L506.11 970.13L508.42 966.48L510.73 962.36L513.04 957.86L515.35 953.12L517.65 948.28L519.96 943.54L522.27 939.04L524.58 934.92L526.89 931.27L529.20 928.12L531.51 925.46L533.81 923.26L536.12 921.48L538.43 920.05L540.74 918.91L543.05 918.02L545.36 917.33L547.66 916.79L549.97 916.37L552.28 916.05L554.59 915.80L556.90 915.62L559.21 915.47L561.52 915.36L563.82 915.27L566.13 915.21L568.44 915.16L570.75 915.12L573.06 915.09L575.37 915.07L577.67 915.05L579.98 915.04L582.29 915.03L584.60 915.02" fill="none" stroke="#B8479C" stroke-width="2" stroke-dasharray="8.4 4.2"/>
<path d="M175.90 1185.71L178.21 1185.71L180.52 1185.71L182.83 1185.72L185.14 1185.72L187.45 1185.73L189.76 1185.74L192.07 1185.76L194.38 1185.77L196.69 1185.80L199.00 1185.83L201.31 1185.87L203.62 1185.92L205.93 1185.98L208.24 1186.07L210.55 1186.18L212.86 1186.33L215.17 1186.52L217.48 1186.76L219.79 1187.08L222.10 1187.47L224.41 1187.98L226.72 1188.60L229.03 1189.38L231.34 1190.31L233.65 1191.42L235.96 1192.70L238.27 1194.15L240.58 1195.73L242.89 1197.40L245.21 1199.10L247.52 1200.77L249.83 1202.35L252.14 1203.80L254.45 1205.08L256.76 1206.19L259.07 1207.12L261.38 1207.90L263.69 1208.52L266.00 1209.03L268.31 1209.42L270.62 1209.74L272.93 1209.98L275.24 1210.17L277.55 1210.32L279.86 1210.43L282.17 1210.52L284.48 1210.58L286.79 1210.63L289.10 1210.67L291.41 1210.70L293.72 1210.73L296.03 1210.74L298.34 1210.76L300.65 1210.77L302.96 1210.78L305.27 1210.78L307.58 1210.79L309.89 1210.79L312.20 1210.79L312.20 1210.79L314.51 1210.79L316.82 1210.78L319.13 1210.77L321.43 1210.77L323.74 1210.76L326.05 1210.74L328.36 1210.72L330.67 1210.70L332.98 1210.67L335.28 1210.63L337.59 1210.58L339.90 1210.51L342.21 1210.42L344.52 1210.30L346.83 1210.15L349.14 1209.95L351.44 1209.69L353.75 1209.36L356.06 1208.94L358.37 1208.40L360.68 1207.72L362.99 1206.87L365.29 1205.82L367.60 1204.55L369.91 1203.05L372.22 1201.31L374.53 1199.35L376.84 1197.21L379.15 1194.95L381.45 1192.65L383.76 1190.39L386.07 1188.25L388.38 1186.29L390.69 1184.55L393.00 1183.05L395.31 1181.78L397.61 1180.73L399.92 1179.88L402.23 1179.20L404.54 1178.66L406.85 1178.24L409.16 1177.91L411.46 1177.65L413.77 1177.45L416.08 1177.30L418.39 1177.18L420.70 1177.09L423.01 1177.02L425.32 1176.97L427.62 1176.93L429.93 1176.90L432.24 1176.88L434.55 1176.86L436.86 1176.84L439.17 1176.83L441.47 1176.83L443.78 1176.82L446.09 1176.81L448.40 1176.81L448.40 1176.71L450.71 1176.68L453.02 1176.65L455.33 1176.60L457.63 1176.53L459.94 1176.45L462.25 1176.34L464.56 1176.20L466.87 1176.02L469.18 1175.77L471.48 1175.45L473.79 1175.04L476.10 1174.49L478.41 1173.78L480.72 1172.85L483.03 1171.65L485.34 1170.08L487.64 1168.06L489.95 1165.45L492.26 1162.10L494.57 1157.85L496.88 1152.48L499.19 1145.78L501.49 1137.54L503.80 1127.55L506.11 1115.71L508.42 1101.99L510.73 1086.53L513.04 1069.64L515.35 1051.82L517.65 1033.68L519.96 1015.86L522.27 998.97L524.58 983.51L526.89 969.79L529.20 957.95L531.51 947.96L533.81 939.72L536.12 933.02L538.43 927.65L540.74 923.40L543.05 920.05L545.36 917.44L547.66 915.42L549.97 913.85L552.28 912.65L554.59 911.72L556.90 911.01L559.21 910.46L561.52 910.05L563.82 909.73L566.13 909.48L568.44 909.30L570.75 909.16L573.06 909.05L575.37 908.97L577.67 908.90L579.98 908.85L582.29 908.82L584.60 908.79" fill="none" stroke="#3EBCCB" stroke-width="2"/>
<path d="M175.90 1244.78L178.21 1244.78L180.52 1244.77L182.83 1244.76L185.14 1244.75L187.45 1244.74L189.76 1244.72L192.07 1244.69L194.38 1244.66L196.69 1244.62L199.00 1244.56L201.31 1244.49L203.62 1244.39L205.93 1244.27L208.24 1244.11L210.55 1243.89L212.86 1243.62L215.17 1243.26L217.48 1242.81L219.79 1242.22L222.10 1241.47L224.41 1240.53L226.72 1239.35L229.03 1237.90L231.34 1236.15L233.65 1234.07L235.96 1231.66L238.27 1228.94L240.58 1225.97L242.89 1222.84L245.21 1219.66L247.52 1216.53L249.83 1213.56L252.14 1210.84L254.45 1208.43L256.76 1206.35L259.07 1204.60L261.38 1203.15L263.69 1201.97L266.00 1201.03L268.31 1200.28L270.62 1199.69L272.93 1199.24L275.24 1198.88L277.55 1198.61L279.86 1198.39L282.17 1198.23L284.48 1198.11L286.79 1198.01L289.10 1197.94L291.41 1197.88L293.72 1197.84L296.03 1197.81L298.34 1197.78L300.65 1197.76L302.96 1197.75L305.27 1197.74L307.58 1197.73L309.89 1197.72L312.20 1197.72L312.20 1197.65L314.51 1197.63L316.82 1197.61L319.13 1197.58L321.43 1197.54L323.74 1197.50L326.05 1197.43L328.36 1197.35L330.67 1197.24L332.98 1197.10L335.28 1196.91L337.59 1196.66L339.90 1196.34L342.21 1195.93L344.52 1195.38L346.83 1194.67L349.14 1193.75L351.44 1192.56L353.75 1191.03L356.06 1189.07L358.37 1186.57L360.68 1183.41L362.99 1179.48L365.29 1174.63L367.60 1168.77L369.91 1161.81L372.22 1153.75L374.53 1144.67L376.84 1134.75L379.15 1124.28L381.45 1113.62L383.76 1103.15L386.07 1093.23L388.38 1084.15L390.69 1076.09L393.00 1069.13L395.31 1063.27L397.61 1058.42L399.92 1054.49L402.23 1051.33L404.54 1048.83L406.85 1046.87L409.16 1045.34L411.46 1044.15L413.77 1043.23L416.08 1042.52L418.39 1041.97L420.70 1041.56L423.01 1041.24L425.32 1040.99L427.62 1040.80L429.93 1040.66L432.24 1040.55L434.55 1040.47L436.86 1040.40L439.17 1040.36L441.47 1040.32L443.78 1040.29L446.09 1040.27L448.40 1040.25L448.40 1040.23L450.71 1040.23L453.02 1040.24L455.33 1040.26L457.63 1040.28L459.94 1040.30L462.25 1040.33L464.56 1040.37L466.87 1040.42L469.18 1040.49L471.48 1040.59L473.79 1040.71L476.10 1040.86L478.41 1041.07L480.72 1041.33L483.03 1041.68L485.34 1042.12L487.64 1042.70L489.95 1043.45L492.26 1044.41L494.57 1045.63L496.88 1047.17L499.19 1049.08L501.49 1051.45L503.80 1054.31L506.11 1057.70L508.42 1061.63L510.73 1066.06L513.04 1070.90L515.35 1076.00L517.65 1081.20L519.96 1086.30L522.27 1091.14L524.58 1095.57L526.89 1099.50L529.20 1102.89L531.51 1105.75L533.81 1108.12L536.12 1110.03L538.43 1111.57L540.74 1112.79L543.05 1113.75L545.36 1114.50L547.66 1115.08L549.97 1115.52L552.28 1115.87L554.59 1116.13L556.90 1116.34L559.21 1116.49L561.52 1116.61L563.82 1116.71L566.13 1116.78L568.44 1116.83L570.75 1116.87L573.06 1116.90L575.37 1116.92L577.67 1116.94L579.98 1116.96L582.29 1116.97L584.60 1116.97" fill="none" stroke="#E5E52A" stroke-width="2" stroke-dasharray="8.4 4.2"/>
<path d="M175.90 1205.08L178.21 1205.07L180.52 1205.06L182.83 1205.05L185.14 1205.03L187.45 1205.01L189.76 1204.98L192.07 1204.94L194.38 1204.89L196.69 1204.82L199.00 1204.74L201.31 1204.63L203.62 1204.48L205.93 1204.29L208.24 1204.04L210.55 1203.72L212.86 1203.30L215.17 1202.76L217.48 1202.06L219.79 1201.17L222.10 1200.03L224.41 1198.60L226.72 1196.81L229.03 1194.60L231.34 1191.93L233.65 1188.76L235.96 1185.09L238.27 1180.96L240.58 1176.44L242.89 1171.68L245.21 1166.82L247.52 1162.06L249.83 1157.54L252.14 1153.41L254.45 1149.74L256.76 1146.57L259.07 1143.90L261.38 1141.69L263.69 1139.90L266.00 1138.47L268.31 1137.33L270.62 1136.44L272.93 1135.74L275.24 1135.20L277.55 1134.78L279.86 1134.46L282.17 1134.21L284.48 1134.02L286.79 1133.87L289.10 1133.76L291.41 1133.68L293.72 1133.61L296.03 1133.56L298.34 1133.52L300.65 1133.49L302.96 1133.47L305.27 1133.45L307.58 1133.44L309.89 1133.43L312.20 1133.42L312.20 1133.43L314.51 1133.44L316.82 1133.46L319.13 1133.48L321.43 1133.50L323.74 1133.53L326.05 1133.57L328.36 1133.63L330.67 1133.70L332.98 1133.79L335.28 1133.91L337.59 1134.07L339.90 1134.27L342.21 1134.54L344.52 1134.89L346.83 1135.35L349.14 1135.94L351.44 1136.70L353.75 1137.69L356.06 1138.95L358.37 1140.55L360.68 1142.58L362.99 1145.11L365.29 1148.22L367.60 1151.99L369.91 1156.46L372.22 1161.64L374.53 1167.48L376.84 1173.85L379.15 1180.57L381.45 1187.43L383.76 1194.15L386.07 1200.52L388.38 1206.36L390.69 1211.54L393.00 1216.01L395.31 1219.78L397.61 1222.89L399.92 1225.42L402.23 1227.45L404.54 1229.05L406.85 1230.31L409.16 1231.30L411.46 1232.06L413.77 1232.65L416.08 1233.11L418.39 1233.46L420.70 1233.73L423.01 1233.93L425.32 1234.09L427.62 1234.21L429.93 1234.30L432.24 1234.37L434.55 1234.43L436.86 1234.47L439.17 1234.50L441.47 1234.52L443.78 1234.54L446.09 1234.56L448.40 1234.57L448.40 1234.53L450.71 1234.51L453.02 1234.48L455.33 1234.44L457.63 1234.39L459.94 1234.32L462.25 1234.24L464.56 1234.12L466.87 1233.98L469.18 1233.78L471.48 1233.53L473.79 1233.20L476.10 1232.77L478.41 1232.20L480.72 1231.46L483.03 1230.51L485.34 1229.26L487.64 1227.65L489.95 1225.58L492.26 1222.92L494.57 1219.54L496.88 1215.28L499.19 1209.96L501.49 1203.41L503.80 1195.47L506.11 1186.06L508.42 1175.16L510.73 1162.88L513.04 1149.47L515.35 1135.31L517.65 1120.89L519.96 1106.73L522.27 1093.32L524.58 1081.04L526.89 1070.14L529.20 1060.73L531.51 1052.79L533.81 1046.24L536.12 1040.92L538.43 1036.66L540.74 1033.28L543.05 1030.62L545.36 1028.55L547.66 1026.94L549.97 1025.69L552.28 1024.74L554.59 1024.00L556.90 1023.43L559.21 1023.00L561.52 1022.67L563.82 1022.42L566.13 1022.22L568.44 1022.08L570.75 1021.96L573.06 1021.88L575.37 1021.81L577.67 1021.76L579.98 1021.72L582.29 1021.69L584.60 1021.67" fill="none" stroke="#15224F" stroke-width="2"/>
<path d="M175.90 1018.72L178.21 1018.72L180.52 1018.73L182.83 1018.74L185.14 1018.75L187.45 1018.77L189.76 1018.79L192.07 1018.82L194.38 1018.86L196.69 1018.91L199.00 1018.97L201.31 1019.06L203.62 1019.17L205.93 1019.31L208.24 1019.50L210.55 1019.74L212.86 1020.06L215.17 1020.46L217.48 1020.99L219.79 1021.67L222.10 1022.52L224.41 1023.61L226.72 1024.96L229.03 1026.62L231.34 1028.64L233.65 1031.03L235.96 1033.80L238.27 1036.92L240.58 1040.32L242.89 1043.92L245.21 1047.58L247.52 1051.18L249.83 1054.58L252.14 1057.70L254.45 1060.47L256.76 1062.86L259.07 1064.88L261.38 1066.54L263.69 1067.89L266.00 1068.98L268.31 1069.83L270.62 1070.51L272.93 1071.04L275.24 1071.44L277.55 1071.76L279.86 1072.00L282.17 1072.19L284.48 1072.33L286.79 1072.44L289.10 1072.53L291.41 1072.59L293.72 1072.64L296.03 1072.68L298.34 1072.71L300.65 1072.73L302.96 1072.75L305.27 1072.76L307.58 1072.77L309.89 1072.78L312.20 1072.78L312.20 1072.81L314.51 1072.81L316.82 1072.82L319.13 1072.82L321.43 1072.83L323.74 1072.83L326.05 1072.85L328.36 1072.86L330.67 1072.88L332.98 1072.90L335.28 1072.93L337.59 1072.97L339.90 1073.03L342.21 1073.10L344.52 1073.19L346.83 1073.31L349.14 1073.46L351.44 1073.66L353.75 1073.92L356.06 1074.25L358.37 1074.67L360.68 1075.20L362.99 1075.87L365.29 1076.68L367.60 1077.67L369.91 1078.84L372.22 1080.19L374.53 1081.72L376.84 1083.39L379.15 1085.15L381.45 1086.95L383.76 1088.71L386.07 1090.38L388.38 1091.91L390.69 1093.26L393.00 1094.43L395.31 1095.42L397.61 1096.23L399.92 1096.90L402.23 1097.43L404.54 1097.85L406.85 1098.18L409.16 1098.44L411.46 1098.64L413.77 1098.79L416.08 1098.91L418.39 1099.00L420.70 1099.07L423.01 1099.13L425.32 1099.17L427.62 1099.20L429.93 1099.22L432.24 1099.24L434.55 1099.25L436.86 1099.27L439.17 1099.27L441.47 1099.28L443.78 1099.28L446.09 1099.29L448.40 1099.29L448.40 1099.37L450.71 1099.39L453.02 1099.42L455.33 1099.46L457.63 1099.51L459.94 1099.57L462.25 1099.66L464.56 1099.77L466.87 1099.92L469.18 1100.11L471.48 1100.36L473.79 1100.69L476.10 1101.12L478.41 1101.68L480.72 1102.41L483.03 1103.36L485.34 1104.59L487.64 1106.19L489.95 1108.24L492.26 1110.88L494.57 1114.23L496.88 1118.46L499.19 1123.73L501.49 1130.23L503.80 1138.10L506.11 1147.43L508.42 1158.24L510.73 1170.41L513.04 1183.71L515.35 1197.75L517.65 1212.05L519.96 1226.09L522.27 1239.39L524.58 1251.56L526.89 1262.37L529.20 1271.70L531.51 1279.57L533.81 1286.07L536.12 1291.34L538.43 1295.57L540.74 1298.92L543.05 1301.56L545.36 1303.61L547.66 1305.21L549.97 1306.44L552.28 1307.39L554.59 1308.12L556.90 1308.68L559.21 1309.11L561.52 1309.44L563.82 1309.69L566.13 1309.88L568.44 1310.03L570.75 1310.14L573.06 1310.23L575.37 1310.29L577.67 1310.34L579.98 1310.38L582.29 1310.41L584.60 1310.43" fill="none" stroke="#F28A2E" stroke-width="2"/>
<path d="M175.90 1167.50L178.21 1167.50L180.52 1167.50L182.83 1167.49L185.14 1167.49L187.45 1167.49L189.76 1167.49L192.07 1167.48L194.38 1167.48L196.69 1167.47L199.00 1167.46L201.31 1167.45L203.62 1167.43L205.93 1167.41L208.24 1167.38L210.55 1167.35L212.86 1167.30L215.17 1167.24L217.48 1167.17L219.79 1167.07L222.10 1166.94L224.41 1166.78L226.72 1166.59L229.03 1166.34L231.34 1166.05L233.65 1165.70L235.96 1165.30L238.27 1164.84L240.58 1164.34L242.89 1163.82L245.21 1163.28L247.52 1162.76L249.83 1162.26L252.14 1161.80L254.45 1161.40L256.76 1161.05L259.07 1160.76L261.38 1160.51L263.69 1160.32L266.00 1160.16L268.31 1160.03L270.62 1159.93L272.93 1159.86L275.24 1159.80L277.55 1159.75L279.86 1159.72L282.17 1159.69L284.48 1159.67L286.79 1159.65L289.10 1159.64L291.41 1159.63L293.72 1159.62L296.03 1159.62L298.34 1159.61L300.65 1159.61L302.96 1159.61L305.27 1159.61L307.58 1159.60L309.89 1159.60L312.20 1159.60L312.20 1159.55L314.51 1159.54L316.82 1159.52L319.13 1159.49L321.43 1159.46L323.74 1159.41L326.05 1159.35L328.36 1159.28L330.67 1159.18L332.98 1159.05L335.28 1158.87L337.59 1158.65L339.90 1158.35L342.21 1157.97L344.52 1157.47L346.83 1156.82L349.14 1155.98L351.44 1154.88L353.75 1153.48L356.06 1151.67L358.37 1149.38L360.68 1146.48L362.99 1142.87L365.29 1138.42L367.60 1133.04L369.91 1126.65L372.22 1119.25L374.53 1110.91L376.84 1101.81L379.15 1092.19L381.45 1082.41L383.76 1072.79L386.07 1063.69L388.38 1055.35L390.69 1047.95L393.00 1041.56L395.31 1036.18L397.61 1031.73L399.92 1028.12L402.23 1025.22L404.54 1022.93L406.85 1021.12L409.16 1019.72L411.46 1018.62L413.77 1017.78L416.08 1017.13L418.39 1016.63L420.70 1016.25L423.01 1015.95L425.32 1015.73L427.62 1015.55L429.93 1015.42L432.24 1015.32L434.55 1015.25L436.86 1015.19L439.17 1015.14L441.47 1015.11L443.78 1015.08L446.09 1015.06L448.40 1015.05L448.40 1015.04L450.71 1015.05L453.02 1015.07L455.33 1015.09L457.63 1015.12L459.94 1015.16L462.25 1015.21L464.56 1015.28L466.87 1015.36L469.18 1015.47L471.48 1015.62L473.79 1015.81L476.10 1016.06L478.41 1016.39L480.72 1016.82L483.03 1017.38L485.34 1018.10L487.64 1019.03L489.95 1020.23L492.26 1021.77L494.57 1023.74L496.88 1026.21L499.19 1029.30L501.49 1033.10L503.80 1037.70L506.11 1043.17L508.42 1049.49L510.73 1056.62L513.04 1064.40L515.35 1072.62L517.65 1080.98L519.96 1089.20L522.27 1096.98L524.58 1104.11L526.89 1110.43L529.20 1115.90L531.51 1120.50L533.81 1124.30L536.12 1127.39L538.43 1129.86L540.74 1131.83L543.05 1133.37L545.36 1134.57L547.66 1135.50L549.97 1136.22L552.28 1136.78L554.59 1137.21L556.90 1137.54L559.21 1137.79L561.52 1137.98L563.82 1138.13L566.13 1138.24L568.44 1138.32L570.75 1138.39L573.06 1138.44L575.37 1138.48L577.67 1138.51L579.98 1138.53L582.29 1138.55L584.60 1138.56" fill="none" stroke="#C8136A" stroke-width="2" stroke-dasharray="8.4 4.2"/>
<path d="M175.90 928.49L178.21 928.49L180.52 928.49L182.83 928.49L185.14 928.48L187.45 928.48L189.76 928.47L192.07 928.46L194.38 928.44L196.69 928.43L199.00 928.40L201.31 928.37L203.62 928.33L205.93 928.28L208.24 928.22L210.55 928.13L212.86 928.02L215.17 927.87L217.48 927.69L219.79 927.45L222.10 927.14L224.41 926.76L226.72 926.28L229.03 925.69L231.34 924.97L233.65 924.12L235.96 923.14L238.27 922.04L240.58 920.83L242.89 919.55L245.21 918.25L247.52 916.97L249.83 915.76L252.14 914.66L254.45 913.68L256.76 912.83L259.07 912.11L261.38 911.52L263.69 911.04L266.00 910.66L268.31 910.35L270.62 910.11L272.93 909.93L275.24 909.78L277.55 909.67L279.86 909.58L282.17 909.52L284.48 909.47L286.79 909.43L289.10 909.40L291.41 909.37L293.72 909.36L296.03 909.34L298.34 909.33L300.65 909.32L302.96 909.32L305.27 909.31L307.58 909.31L309.89 909.31L312.20 909.31L312.20 909.31L314.51 909.32L316.82 909.32L319.13 909.33L321.43 909.33L323.74 909.34L326.05 909.36L328.36 909.38L330.67 909.40L332.98 909.43L335.28 909.47L337.59 909.53L339.90 909.60L342.21 909.69L344.52 909.81L346.83 909.96L349.14 910.16L351.44 910.42L353.75 910.75L356.06 911.18L358.37 911.72L360.68 912.41L362.99 913.27L365.29 914.32L367.60 915.60L369.91 917.12L372.22 918.87L374.53 920.85L376.84 923.01L379.15 925.29L381.45 927.61L383.76 929.89L386.07 932.05L388.38 934.03L390.69 935.78L393.00 937.30L395.31 938.58L397.61 939.63L399.92 940.49L402.23 941.18L404.54 941.72L406.85 942.15L409.16 942.48L411.46 942.74L413.77 942.94L416.08 943.09L418.39 943.21L420.70 943.30L423.01 943.37L425.32 943.43L427.62 943.47L429.93 943.50L432.24 943.52L434.55 943.54L436.86 943.56L439.17 943.57L441.47 943.57L443.78 943.58L446.09 943.58L448.40 943.59L448.40 943.63L450.71 943.64L453.02 943.65L455.33 943.67L457.63 943.69L459.94 943.72L462.25 943.76L464.56 943.81L466.87 943.87L469.18 943.96L471.48 944.07L473.79 944.21L476.10 944.40L478.41 944.65L480.72 944.97L483.03 945.39L485.34 945.93L487.64 946.64L489.95 947.54L492.26 948.70L494.57 950.18L496.88 952.04L499.19 954.37L501.49 957.23L503.80 960.70L506.11 964.82L508.42 969.58L510.73 974.95L513.04 980.81L515.35 987.00L517.65 993.30L519.96 999.49L522.27 1005.35L524.58 1010.72L526.89 1015.48L529.20 1019.60L531.51 1023.07L533.81 1025.93L536.12 1028.26L538.43 1030.12L540.74 1031.60L543.05 1032.76L545.36 1033.66L547.66 1034.37L549.97 1034.91L552.28 1035.33L554.59 1035.65L556.90 1035.90L559.21 1036.09L561.52 1036.23L563.82 1036.34L566.13 1036.43L568.44 1036.49L570.75 1036.54L573.06 1036.58L575.37 1036.61L577.67 1036.63L579.98 1036.65L582.29 1036.66L584.60 1036.67" fill="none" stroke="#0A7A3E" stroke-width="2"/>
<path d="M175.90 1121.52L178.21 1121.53L180.52 1121.53L182.83 1121.55L185.14 1121.56L187.45 1121.58L189.76 1121.60L192.07 1121.63L194.38 1121.68L196.69 1121.73L199.00 1121.80L201.31 1121.89L203.62 1122.02L205.93 1122.17L208.24 1122.38L210.55 1122.65L212.86 1123.00L215.17 1123.45L217.48 1124.04L219.79 1124.78L222.10 1125.73L224.41 1126.93L226.72 1128.43L229.03 1130.27L231.34 1132.50L233.65 1135.15L235.96 1138.22L238.27 1141.67L240.58 1145.44L242.89 1149.42L245.21 1153.48L247.52 1157.46L249.83 1161.23L252.14 1164.68L254.45 1167.75L256.76 1170.40L259.07 1172.63L261.38 1174.47L263.69 1175.97L266.00 1177.17L268.31 1178.12L270.62 1178.86L272.93 1179.45L275.24 1179.90L277.55 1180.25L279.86 1180.52L282.17 1180.73L284.48 1180.88L286.79 1181.01L289.10 1181.10L291.41 1181.17L293.72 1181.22L296.03 1181.27L298.34 1181.30L300.65 1181.32L302.96 1181.34L305.27 1181.35L307.58 1181.37L309.89 1181.37L312.20 1181.38L312.20 1181.40L314.51 1181.39L316.82 1181.39L319.13 1181.39L321.43 1181.39L323.74 1181.38L326.05 1181.38L328.36 1181.37L330.67 1181.36L332.98 1181.35L335.28 1181.33L337.59 1181.31L339.90 1181.28L342.21 1181.24L344.52 1181.20L346.83 1181.13L349.14 1181.05L351.44 1180.95L353.75 1180.81L356.06 1180.64L358.37 1180.42L360.68 1180.14L362.99 1179.79L365.29 1179.36L367.60 1178.85L369.91 1178.23L372.22 1177.52L374.53 1176.72L376.84 1175.84L379.15 1174.92L381.45 1173.98L383.76 1173.06L386.07 1172.18L388.38 1171.38L390.69 1170.67L393.00 1170.05L395.31 1169.54L397.61 1169.11L399.92 1168.76L402.23 1168.48L404.54 1168.26L406.85 1168.09L409.16 1167.95L411.46 1167.85L413.77 1167.77L416.08 1167.70L418.39 1167.66L420.70 1167.62L423.01 1167.59L425.32 1167.57L427.62 1167.55L429.93 1167.54L432.24 1167.53L434.55 1167.52L436.86 1167.52L439.17 1167.51L441.47 1167.51L443.78 1167.51L446.09 1167.51L448.40 1167.50L448.40 1167.42L450.71 1167.40L453.02 1167.36L455.33 1167.32L457.63 1167.27L459.94 1167.20L462.25 1167.10L464.56 1166.98L466.87 1166.81L469.18 1166.60L471.48 1166.32L473.79 1165.96L476.10 1165.48L478.41 1164.86L480.72 1164.05L483.03 1162.99L485.34 1161.62L487.64 1159.85L489.95 1157.57L492.26 1154.65L494.57 1150.93L496.88 1146.23L499.19 1140.37L501.49 1133.16L503.80 1124.42L506.11 1114.06L508.42 1102.06L510.73 1088.54L513.04 1073.77L515.35 1058.19L517.65 1042.31L519.96 1026.73L522.27 1011.96L524.58 998.44L526.89 986.44L529.20 976.08L531.51 967.34L533.81 960.13L536.12 954.27L538.43 949.57L540.74 945.85L543.05 942.93L545.36 940.65L547.66 938.88L549.97 937.51L552.28 936.45L554.59 935.64L556.90 935.02L559.21 934.54L561.52 934.18L563.82 933.90L566.13 933.69L568.44 933.52L570.75 933.40L573.06 933.30L575.37 933.23L577.67 933.18L579.98 933.14L582.29 933.10L584.60 933.08" fill="none" stroke="#9AA8D8" stroke-width="2"/>
<path d="M175.90 1278.76L178.21 1278.78L180.52 1278.80L182.83 1278.84L185.14 1278.88L187.45 1278.93L189.76 1279.01L192.07 1279.10L194.38 1279.23L196.69 1279.39L199.00 1279.61L201.31 1279.89L203.62 1280.25L205.93 1280.73L208.24 1281.36L210.55 1282.17L212.86 1283.22L215.17 1284.58L217.48 1286.34L219.79 1288.59L222.10 1291.45L224.41 1295.06L226.72 1299.57L229.03 1305.12L231.34 1311.84L233.65 1319.81L235.96 1329.04L238.27 1339.44L240.58 1350.80L242.89 1362.79L245.21 1375.01L247.52 1387.00L249.83 1398.36L252.14 1408.76L254.45 1417.99L256.76 1425.96L259.07 1432.68L261.38 1438.23L263.69 1442.74L266.00 1446.35L268.31 1449.21L270.62 1451.46L272.93 1453.22L275.24 1454.58L277.55 1455.63L279.86 1456.44L282.17 1457.07L284.48 1457.55L286.79 1457.91L289.10 1458.19L291.41 1458.41L293.72 1458.57L296.03 1458.70L298.34 1458.79L300.65 1458.87L302.96 1458.92L305.27 1458.96L307.58 1459.00L309.89 1459.02L312.20 1459.04L312.20 1459.02L314.51 1459.00L316.82 1458.97L319.13 1458.93L321.43 1458.88L323.74 1458.81L326.05 1458.72L328.36 1458.60L330.67 1458.44L332.98 1458.24L335.28 1457.97L337.59 1457.62L339.90 1457.17L342.21 1456.57L344.52 1455.79L346.83 1454.78L349.14 1453.47L351.44 1451.78L353.75 1449.59L356.06 1446.79L358.37 1443.23L360.68 1438.74L362.99 1433.13L365.29 1426.22L367.60 1417.86L369.91 1407.94L372.22 1396.45L374.53 1383.51L376.84 1369.37L379.15 1354.45L381.45 1339.25L383.76 1324.33L386.07 1310.19L388.38 1297.25L390.69 1285.76L393.00 1275.84L395.31 1267.48L397.61 1260.57L399.92 1254.96L402.23 1250.47L404.54 1246.91L406.85 1244.11L409.16 1241.92L411.46 1240.23L413.77 1238.92L416.08 1237.91L418.39 1237.13L420.70 1236.53L423.01 1236.08L425.32 1235.73L427.62 1235.46L429.93 1235.26L432.24 1235.10L434.55 1234.98L436.86 1234.89L439.17 1234.82L441.47 1234.77L443.78 1234.73L446.09 1234.70L448.40 1234.68L448.40 1234.52L450.71 1234.49L453.02 1234.46L455.33 1234.42L457.63 1234.36L459.94 1234.28L462.25 1234.18L464.56 1234.06L466.87 1233.89L469.18 1233.67L471.48 1233.38L473.79 1233.00L476.10 1232.50L478.41 1231.86L480.72 1231.01L483.03 1229.92L485.34 1228.49L487.64 1226.66L489.95 1224.28L492.26 1221.25L494.57 1217.38L496.88 1212.50L499.19 1206.42L501.49 1198.92L503.80 1189.85L506.11 1179.09L508.42 1166.62L510.73 1152.58L513.04 1137.24L515.35 1121.04L517.65 1104.56L519.96 1088.36L522.27 1073.02L524.58 1058.98L526.89 1046.51L529.20 1035.75L531.51 1026.68L533.81 1019.18L536.12 1013.10L538.43 1008.22L540.74 1004.35L543.05 1001.32L545.36 998.94L547.66 997.11L549.97 995.68L552.28 994.59L554.59 993.74L556.90 993.10L559.21 992.60L561.52 992.22L563.82 991.93L566.13 991.71L568.44 991.54L570.75 991.42L573.06 991.32L575.37 991.24L577.67 991.18L579.98 991.14L582.29 991.11L584.60 991.08" fill="none" stroke="#8E2F8C" stroke-width="2" stroke-dasharray="8.4 4.2"/>
<path d="M175.90 1152.87L178.21 1152.86L180.52 1152.85L182.83 1152.84L185.14 1152.82L187.45 1152.80L189.76 1152.76L192.07 1152.72L194.38 1152.67L196.69 1152.59L199.00 1152.50L201.31 1152.37L203.62 1152.21L205.93 1152.00L208.24 1151.72L210.55 1151.36L212.86 1150.89L215.17 1150.29L217.48 1149.51L219.79 1148.51L222.10 1147.24L224.41 1145.63L226.72 1143.63L229.03 1141.17L231.34 1138.19L233.65 1134.65L235.96 1130.55L238.27 1125.93L240.58 1120.89L242.89 1115.56L245.21 1110.14L247.52 1104.81L249.83 1099.77L252.14 1095.15L254.45 1091.05L256.76 1087.51L259.07 1084.53L261.38 1082.07L263.69 1080.07L266.00 1078.46L268.31 1077.19L270.62 1076.19L272.93 1075.41L275.24 1074.81L277.55 1074.34L279.86 1073.98L282.17 1073.70L284.48 1073.49L286.79 1073.33L289.10 1073.20L291.41 1073.11L293.72 1073.03L296.03 1072.98L298.34 1072.94L300.65 1072.90L302.96 1072.88L305.27 1072.86L307.58 1072.85L309.89 1072.84L312.20 1072.83L312.20 1072.78L314.51 1072.77L316.82 1072.76L319.13 1072.75L321.43 1072.74L323.74 1072.72L326.05 1072.69L328.36 1072.66L330.67 1072.61L332.98 1072.56L335.28 1072.48L337.59 1072.38L339.90 1072.25L342.21 1072.08L344.52 1071.86L346.83 1071.58L349.14 1071.21L351.44 1070.73L353.75 1070.11L356.06 1069.32L358.37 1068.31L360.68 1067.04L362.99 1065.45L365.29 1063.50L367.60 1061.14L369.91 1058.33L372.22 1055.08L374.53 1051.42L376.84 1047.42L379.15 1043.20L381.45 1038.90L383.76 1034.68L386.07 1030.68L388.38 1027.02L390.69 1023.77L393.00 1020.96L395.31 1018.60L397.61 1016.65L399.92 1015.06L402.23 1013.79L404.54 1012.78L406.85 1011.99L409.16 1011.37L411.46 1010.89L413.77 1010.52L416.08 1010.24L418.39 1010.02L420.70 1009.85L423.01 1009.72L425.32 1009.62L427.62 1009.54L429.93 1009.49L432.24 1009.44L434.55 1009.41L436.86 1009.38L439.17 1009.36L441.47 1009.35L443.78 1009.34L446.09 1009.33L448.40 1009.32L448.40 1009.37L450.71 1009.39L453.02 1009.41L455.33 1009.45L457.63 1009.49L459.94 1009.55L462.25 1009.63L464.56 1009.74L466.87 1009.87L469.18 1010.05L471.48 1010.28L473.79 1010.58L476.10 1010.98L478.41 1011.50L480.72 1012.17L483.03 1013.05L485.34 1014.19L487.64 1015.66L489.95 1017.56L492.26 1019.99L494.57 1023.09L496.88 1027.00L499.19 1031.87L501.49 1037.87L503.80 1045.14L506.11 1053.76L508.42 1063.74L510.73 1074.99L513.04 1087.28L515.35 1100.25L517.65 1113.45L519.96 1126.42L522.27 1138.71L524.58 1149.96L526.89 1159.94L529.20 1168.56L531.51 1175.83L533.81 1181.83L536.12 1186.70L538.43 1190.61L540.74 1193.71L543.05 1196.14L545.36 1198.04L547.66 1199.51L549.97 1200.65L552.28 1201.53L554.59 1202.20L556.90 1202.72L559.21 1203.12L561.52 1203.42L563.82 1203.65L566.13 1203.83L568.44 1203.96L570.75 1204.07L573.06 1204.15L575.37 1204.21L577.67 1204.25L579.98 1204.29L582.29 1204.31L584.60 1204.33" fill="none" stroke="#5E0A16" stroke-width="2" stroke-dasharray="8.4 4.2"/>
<path d="M175.90 1004.43L178.21 1004.44L180.52 1004.46L182.83 1004.47L185.14 1004.50L187.45 1004.53L189.76 1004.57L192.07 1004.62L194.38 1004.69L196.69 1004.78L199.00 1004.89L201.31 1005.05L203.62 1005.25L205.93 1005.51L208.24 1005.85L210.55 1006.29L212.86 1006.86L215.17 1007.60L217.48 1008.56L219.79 1009.78L222.10 1011.34L224.41 1013.31L226.72 1015.76L229.03 1018.78L231.34 1022.44L233.65 1026.78L235.96 1031.80L238.27 1037.47L240.58 1043.65L242.89 1050.18L245.21 1056.82L247.52 1063.35L249.83 1069.53L252.14 1075.20L254.45 1080.22L256.76 1084.56L259.07 1088.22L261.38 1091.24L263.69 1093.69L266.00 1095.66L268.31 1097.22L270.62 1098.44L272.93 1099.40L275.24 1100.14L277.55 1100.71L279.86 1101.15L282.17 1101.49L284.48 1101.75L286.79 1101.95L289.10 1102.11L291.41 1102.22L293.72 1102.31L296.03 1102.38L298.34 1102.43L300.65 1102.47L302.96 1102.50L305.27 1102.53L307.58 1102.54L309.89 1102.56L312.20 1102.57L312.20 1102.62L314.51 1102.63L316.82 1102.63L319.13 1102.64L321.43 1102.66L323.74 1102.68L326.05 1102.70L328.36 1102.73L330.67 1102.77L332.98 1102.82L335.28 1102.89L337.59 1102.98L339.90 1103.10L342.21 1103.25L344.52 1103.45L346.83 1103.71L349.14 1104.05L351.44 1104.49L353.75 1105.05L356.06 1105.77L358.37 1106.69L360.68 1107.84L362.99 1109.29L365.29 1111.06L367.60 1113.22L369.91 1115.77L372.22 1118.73L374.53 1122.06L376.84 1125.70L379.15 1129.54L381.45 1133.46L383.76 1137.30L386.07 1140.94L388.38 1144.27L390.69 1147.23L393.00 1149.78L395.31 1151.94L397.61 1153.71L399.92 1155.16L402.23 1156.31L404.54 1157.23L406.85 1157.95L409.16 1158.51L411.46 1158.95L413.77 1159.29L416.08 1159.55L418.39 1159.75L420.70 1159.90L423.01 1160.02L425.32 1160.11L427.62 1160.18L429.93 1160.23L432.24 1160.27L434.55 1160.30L436.86 1160.32L439.17 1160.34L441.47 1160.36L443.78 1160.37L446.09 1160.37L448.40 1160.38L448.40 1160.42L450.71 1160.42L453.02 1160.43L455.33 1160.44L457.63 1160.45L459.94 1160.46L462.25 1160.48L464.56 1160.50L466.87 1160.54L469.18 1160.58L471.48 1160.64L473.79 1160.71L476.10 1160.80L478.41 1160.93L480.72 1161.09L483.03 1161.30L485.34 1161.57L487.64 1161.93L489.95 1162.38L492.26 1162.97L494.57 1163.71L496.88 1164.64L499.19 1165.81L501.49 1167.25L503.80 1169.00L506.11 1171.06L508.42 1173.46L510.73 1176.16L513.04 1179.11L515.35 1182.22L517.65 1185.38L519.96 1188.49L522.27 1191.44L524.58 1194.14L526.89 1196.54L529.20 1198.60L531.51 1200.35L533.81 1201.79L536.12 1202.96L538.43 1203.89L540.74 1204.63L543.05 1205.22L545.36 1205.67L547.66 1206.03L549.97 1206.30L552.28 1206.51L554.59 1206.67L556.90 1206.80L559.21 1206.89L561.52 1206.96L563.82 1207.02L566.13 1207.06L568.44 1207.10L570.75 1207.12L573.06 1207.14L575.37 1207.15L577.67 1207.16L579.98 1207.17L582.29 1207.18L584.60 1207.18" fill="none" stroke="#7A6A2A" stroke-width="2"/>
<path d="M175.90 1199.62L178.21 1199.62L180.52 1199.63L182.83 1199.64L185.14 1199.65L187.45 1199.67L189.76 1199.69L192.07 1199.72L194.38 1199.75L196.69 1199.80L199.00 1199.86L201.31 1199.94L203.62 1200.05L205.93 1200.18L208.24 1200.36L210.55 1200.60L212.86 1200.90L215.17 1201.29L217.48 1201.80L219.79 1202.44L222.10 1203.27L224.41 1204.31L226.72 1205.60L229.03 1207.20L231.34 1209.13L233.65 1211.43L235.96 1214.08L238.27 1217.08L240.58 1220.34L242.89 1223.79L245.21 1227.31L247.52 1230.76L249.83 1234.02L252.14 1237.02L254.45 1239.67L256.76 1241.97L259.07 1243.90L261.38 1245.50L263.69 1246.79L266.00 1247.83L268.31 1248.66L270.62 1249.30L272.93 1249.81L275.24 1250.20L277.55 1250.50L279.86 1250.74L282.17 1250.92L284.48 1251.05L286.79 1251.16L289.10 1251.24L291.41 1251.30L293.72 1251.35L296.03 1251.38L298.34 1251.41L300.65 1251.43L302.96 1251.45L305.27 1251.46L307.58 1251.47L309.89 1251.48L312.20 1251.48L312.20 1251.42L314.51 1251.40L316.82 1251.37L319.13 1251.33L321.43 1251.27L323.74 1251.20L326.05 1251.11L328.36 1250.99L330.67 1250.83L332.98 1250.63L335.28 1250.35L337.59 1250.00L339.90 1249.54L342.21 1248.93L344.52 1248.14L346.83 1247.12L349.14 1245.79L351.44 1244.06L353.75 1241.85L356.06 1239.00L358.37 1235.38L360.68 1230.82L362.99 1225.12L365.29 1218.11L367.60 1209.62L369.91 1199.54L372.22 1187.88L374.53 1174.73L376.84 1160.37L379.15 1145.22L381.45 1129.78L383.76 1114.63L386.07 1100.27L388.38 1087.12L390.69 1075.46L393.00 1065.38L395.31 1056.89L397.61 1049.88L399.92 1044.18L402.23 1039.62L404.54 1036.00L406.85 1033.15L409.16 1030.94L411.46 1029.21L413.77 1027.88L416.08 1026.86L418.39 1026.07L420.70 1025.46L423.01 1025.00L425.32 1024.65L427.62 1024.37L429.93 1024.17L432.24 1024.01L434.55 1023.89L436.86 1023.80L439.17 1023.73L441.47 1023.67L443.78 1023.63L446.09 1023.60L448.40 1023.58L448.40 1023.57L450.71 1023.59L453.02 1023.62L455.33 1023.66L457.63 1023.71L459.94 1023.78L462.25 1023.86L464.56 1023.97L466.87 1024.12L469.18 1024.32L471.48 1024.57L473.79 1024.90L476.10 1025.33L478.41 1025.90L480.72 1026.63L483.03 1027.59L485.34 1028.83L487.64 1030.43L489.95 1032.50L492.26 1035.15L494.57 1038.53L496.88 1042.78L499.19 1048.10L501.49 1054.64L503.80 1062.55L506.11 1071.95L508.42 1082.83L510.73 1095.09L513.04 1108.47L515.35 1122.60L517.65 1137.00L519.96 1151.13L522.27 1164.51L524.58 1176.77L526.89 1187.65L529.20 1197.05L531.51 1204.96L533.81 1211.50L536.12 1216.82L538.43 1221.07L540.74 1224.45L543.05 1227.10L545.36 1229.17L547.66 1230.77L549.97 1232.01L552.28 1232.97L554.59 1233.70L556.90 1234.27L559.21 1234.70L561.52 1235.03L563.82 1235.28L566.13 1235.48L568.44 1235.63L570.75 1235.74L573.06 1235.82L575.37 1235.89L577.67 1235.94L579.98 1235.98L582.29 1236.01L584.60 1236.03" fill="none" stroke="#9A6EB0" stroke-width="2" stroke-dasharray="8.4 4.2"/>
<path d="M175.90 996.40L178.21 996.40L180.52 996.40L182.83 996.41L185.14 996.41L187.45 996.41L189.76 996.41L192.07 996.42L194.38 996.42L196.69 996.43L199.00 996.44L201.31 996.46L203.62 996.47L205.93 996.50L208.24 996.53L210.55 996.56L212.86 996.61L215.17 996.68L217.48 996.76L219.79 996.87L222.10 997.00L224.41 997.17L226.72 997.38L229.03 997.64L231.34 997.96L233.65 998.34L235.96 998.77L238.27 999.26L240.58 999.80L242.89 1000.36L245.21 1000.94L247.52 1001.50L249.83 1002.04L252.14 1002.53L254.45 1002.96L256.76 1003.34L259.07 1003.66L261.38 1003.92L263.69 1004.13L266.00 1004.30L268.31 1004.43L270.62 1004.54L272.93 1004.62L275.24 1004.69L277.55 1004.74L279.86 1004.77L282.17 1004.80L284.48 1004.83L286.79 1004.84L289.10 1004.86L291.41 1004.87L293.72 1004.88L296.03 1004.88L298.34 1004.89L300.65 1004.89L302.96 1004.89L305.27 1004.89L307.58 1004.90L309.89 1004.90L312.20 1004.90L312.20 1004.90L314.51 1004.89L316.82 1004.89L319.13 1004.89L321.43 1004.89L323.74 1004.88L326.05 1004.88L328.36 1004.87L330.67 1004.86L332.98 1004.85L335.28 1004.84L337.59 1004.82L339.90 1004.79L342.21 1004.76L344.52 1004.72L346.83 1004.66L349.14 1004.59L351.44 1004.50L353.75 1004.37L356.06 1004.22L358.37 1004.02L360.68 1003.78L362.99 1003.47L365.29 1003.08L367.60 1002.62L369.91 1002.07L372.22 1001.44L374.53 1000.72L376.84 999.94L379.15 999.12L381.45 998.28L383.76 997.46L386.07 996.68L388.38 995.96L390.69 995.33L393.00 994.78L395.31 994.32L397.61 993.93L399.92 993.62L402.23 993.38L404.54 993.18L406.85 993.03L409.16 992.90L411.46 992.81L413.77 992.74L416.08 992.68L418.39 992.64L420.70 992.61L423.01 992.58L425.32 992.56L427.62 992.55L429.93 992.54L432.24 992.53L434.55 992.52L436.86 992.52L439.17 992.51L441.47 992.51L443.78 992.51L446.09 992.51L448.40 992.50L448.40 992.48L450.71 992.48L453.02 992.47L455.33 992.46L457.63 992.44L459.94 992.43L462.25 992.40L464.56 992.37L466.87 992.34L469.18 992.28L471.48 992.22L473.79 992.13L476.10 992.02L478.41 991.87L480.72 991.67L483.03 991.42L485.34 991.09L487.64 990.67L489.95 990.12L492.26 989.42L494.57 988.53L496.88 987.41L499.19 986.01L501.49 984.28L503.80 982.19L506.11 979.72L508.42 976.84L510.73 973.61L513.04 970.08L515.35 966.35L517.65 962.55L519.96 958.82L522.27 955.29L524.58 952.06L526.89 949.18L529.20 946.71L531.51 944.62L533.81 942.89L536.12 941.49L538.43 940.37L540.74 939.48L543.05 938.78L545.36 938.23L547.66 937.81L549.97 937.48L552.28 937.23L554.59 937.03L556.90 936.88L559.21 936.77L561.52 936.68L563.82 936.62L566.13 936.56L568.44 936.53L570.75 936.50L573.06 936.47L575.37 936.46L577.67 936.44L579.98 936.43L582.29 936.42L584.60 936.42" fill="none" stroke="#283A93" stroke-width="2" stroke-dasharray="8.4 4.2"/>
<path d="M175.90 1056.51L178.21 1056.51L180.52 1056.51L182.83 1056.52L185.14 1056.52L187.45 1056.53L189.76 1056.53L192.07 1056.55L194.38 1056.56L196.69 1056.58L199.00 1056.60L201.31 1056.63L203.62 1056.68L205.93 1056.73L208.24 1056.80L210.55 1056.89L212.86 1057.01L215.17 1057.17L217.48 1057.37L219.79 1057.62L222.10 1057.95L224.41 1058.36L226.72 1058.87L229.03 1059.50L231.34 1060.27L233.65 1061.17L235.96 1062.22L238.27 1063.40L240.58 1064.69L242.89 1066.06L245.21 1067.44L247.52 1068.81L249.83 1070.10L252.14 1071.28L254.45 1072.33L256.76 1073.23L259.07 1074.00L261.38 1074.63L263.69 1075.14L266.00 1075.55L268.31 1075.88L270.62 1076.13L272.93 1076.33L275.24 1076.49L277.55 1076.61L279.86 1076.70L282.17 1076.77L284.48 1076.82L286.79 1076.87L289.10 1076.90L291.41 1076.92L293.72 1076.94L296.03 1076.95L298.34 1076.97L300.65 1076.97L302.96 1076.98L305.27 1076.98L307.58 1076.99L309.89 1076.99L312.20 1076.99L312.20 1076.99L314.51 1076.98L316.82 1076.98L319.13 1076.97L321.43 1076.97L323.74 1076.96L326.05 1076.94L328.36 1076.92L330.67 1076.90L332.98 1076.87L335.28 1076.83L337.59 1076.77L339.90 1076.71L342.21 1076.61L344.52 1076.50L346.83 1076.34L349.14 1076.14L351.44 1075.88L353.75 1075.55L356.06 1075.13L358.37 1074.58L360.68 1073.90L362.99 1073.04L365.29 1071.99L367.60 1070.72L369.91 1069.21L372.22 1067.46L374.53 1065.48L376.84 1063.33L379.15 1061.06L381.45 1058.74L383.76 1056.47L386.07 1054.32L388.38 1052.34L390.69 1050.59L393.00 1049.08L395.31 1047.81L397.61 1046.76L399.92 1045.90L402.23 1045.22L404.54 1044.67L406.85 1044.25L409.16 1043.92L411.46 1043.66L413.77 1043.46L416.08 1043.30L418.39 1043.19L420.70 1043.09L423.01 1043.03L425.32 1042.97L427.62 1042.93L429.93 1042.90L432.24 1042.88L434.55 1042.86L436.86 1042.84L439.17 1042.83L441.47 1042.83L443.78 1042.82L446.09 1042.82L448.40 1042.81L448.40 1042.88L450.71 1042.90L453.02 1042.93L455.33 1042.98L457.63 1043.03L459.94 1043.10L462.25 1043.20L464.56 1043.32L466.87 1043.49L469.18 1043.70L471.48 1043.98L473.79 1044.34L476.10 1044.82L478.41 1045.44L480.72 1046.25L483.03 1047.30L485.34 1048.66L487.64 1050.43L489.95 1052.71L492.26 1055.63L494.57 1059.34L496.88 1064.02L499.19 1069.87L501.49 1077.07L503.80 1085.78L506.11 1096.12L508.42 1108.10L510.73 1121.59L513.04 1136.33L515.35 1151.88L517.65 1167.72L519.96 1183.27L522.27 1198.01L524.58 1211.50L526.89 1223.48L529.20 1233.82L531.51 1242.53L533.81 1249.73L536.12 1255.58L538.43 1260.26L540.74 1263.97L543.05 1266.89L545.36 1269.17L547.66 1270.94L549.97 1272.30L552.28 1273.35L554.59 1274.16L556.90 1274.78L559.21 1275.26L561.52 1275.62L563.82 1275.90L566.13 1276.11L568.44 1276.28L570.75 1276.40L573.06 1276.50L575.37 1276.57L577.67 1276.62L579.98 1276.67L582.29 1276.70L584.60 1276.72" fill="none" stroke="#5F9494" stroke-width="2" stroke-dasharray="4.2 4.2"/>
<path d="M175.90 1196.70L178.21 1196.71L180.52 1196.71L182.83 1196.71L185.14 1196.71L187.45 1196.72L189.76 1196.72L192.07 1196.73L194.38 1196.74L196.69 1196.75L199.00 1196.77L201.31 1196.79L203.62 1196.82L205.93 1196.85L208.24 1196.90L210.55 1196.96L212.86 1197.04L215.17 1197.14L217.48 1197.27L219.79 1197.44L222.10 1197.65L224.41 1197.92L226.72 1198.26L229.03 1198.68L231.34 1199.18L233.65 1199.78L235.96 1200.47L238.27 1201.25L240.58 1202.10L242.89 1202.99L245.21 1203.91L247.52 1204.80L249.83 1205.65L252.14 1206.43L254.45 1207.12L256.76 1207.72L259.07 1208.22L261.38 1208.64L263.69 1208.98L266.00 1209.25L268.31 1209.46L270.62 1209.63L272.93 1209.76L275.24 1209.86L277.55 1209.94L279.86 1210.00L282.17 1210.05L284.48 1210.08L286.79 1210.11L289.10 1210.13L291.41 1210.15L293.72 1210.16L296.03 1210.17L298.34 1210.18L300.65 1210.18L302.96 1210.19L305.27 1210.19L307.58 1210.19L309.89 1210.19L312.20 1210.20L312.20 1210.26L314.51 1210.28L316.82 1210.31L319.13 1210.35L321.43 1210.39L323.74 1210.45L326.05 1210.53L328.36 1210.63L330.67 1210.77L332.98 1210.94L335.28 1211.17L337.59 1211.47L339.90 1211.86L342.21 1212.38L344.52 1213.04L346.83 1213.91L349.14 1215.04L351.44 1216.50L353.75 1218.38L356.06 1220.79L358.37 1223.86L360.68 1227.72L362.99 1232.55L365.29 1238.49L367.60 1245.69L369.91 1254.23L372.22 1264.11L374.53 1275.25L376.84 1287.42L379.15 1300.26L381.45 1313.34L383.76 1326.18L386.07 1338.35L388.38 1349.49L390.69 1359.37L393.00 1367.91L395.31 1375.11L397.61 1381.05L399.92 1385.88L402.23 1389.74L404.54 1392.81L406.85 1395.22L409.16 1397.10L411.46 1398.56L413.77 1399.69L416.08 1400.56L418.39 1401.22L420.70 1401.74L423.01 1402.13L425.32 1402.43L427.62 1402.66L429.93 1402.83L432.24 1402.97L434.55 1403.07L436.86 1403.15L439.17 1403.21L441.47 1403.25L443.78 1403.29L446.09 1403.32L448.40 1403.34L448.40 1403.26L450.71 1403.22L453.02 1403.17L455.33 1403.09L457.63 1403.00L459.94 1402.87L462.25 1402.71L464.56 1402.50L466.87 1402.21L469.18 1401.85L471.48 1401.37L473.79 1400.74L476.10 1399.91L478.41 1398.84L480.72 1397.44L483.03 1395.62L485.34 1393.25L487.64 1390.20L489.95 1386.26L492.26 1381.21L494.57 1374.79L496.88 1366.68L499.19 1356.57L501.49 1344.12L503.80 1329.04L506.11 1311.16L508.42 1290.44L510.73 1267.10L513.04 1241.61L515.35 1214.70L517.65 1187.30L519.96 1160.39L522.27 1134.90L524.58 1111.56L526.89 1090.84L529.20 1072.96L531.51 1057.88L533.81 1045.43L536.12 1035.32L538.43 1027.21L540.74 1020.79L543.05 1015.74L545.36 1011.80L547.66 1008.75L549.97 1006.38L552.28 1004.56L554.59 1003.16L556.90 1002.09L559.21 1001.26L561.52 1000.63L563.82 1000.15L566.13 999.79L568.44 999.50L570.75 999.29L573.06 999.13L575.37 999.00L577.67 998.91L579.98 998.83L582.29 998.78L584.60 998.74" fill="none" stroke="#3FAE80" stroke-width="2"/>
<path d="M175.90 1219.44L178.21 1219.42L180.52 1219.40L182.83 1219.37L185.14 1219.33L187.45 1219.28L189.76 1219.21L192.07 1219.12L194.38 1219.00L196.69 1218.85L199.00 1218.64L201.31 1218.38L203.62 1218.03L205.93 1217.58L208.24 1216.99L210.55 1216.22L212.86 1215.22L215.17 1213.93L217.48 1212.27L219.79 1210.14L222.10 1207.43L224.41 1204.02L226.72 1199.75L229.03 1194.50L231.34 1188.14L233.65 1180.60L235.96 1171.87L238.27 1162.02L240.58 1151.27L242.89 1139.93L245.21 1128.37L247.52 1117.03L249.83 1106.28L252.14 1096.43L254.45 1087.70L256.76 1080.16L259.07 1073.80L261.38 1068.55L263.69 1064.28L266.00 1060.87L268.31 1058.16L270.62 1056.03L272.93 1054.37L275.24 1053.08L277.55 1052.08L279.86 1051.31L282.17 1050.72L284.48 1050.27L286.79 1049.92L289.10 1049.66L291.41 1049.45L293.72 1049.30L296.03 1049.18L298.34 1049.09L300.65 1049.02L302.96 1048.97L305.27 1048.93L307.58 1048.90L309.89 1048.88L312.20 1048.86L312.20 1048.79L314.51 1048.79L316.82 1048.79L319.13 1048.78L321.43 1048.78L323.74 1048.77L326.05 1048.76L328.36 1048.75L330.67 1048.73L332.98 1048.71L335.28 1048.68L337.59 1048.64L339.90 1048.59L342.21 1048.53L344.52 1048.45L346.83 1048.34L349.14 1048.20L351.44 1048.02L353.75 1047.78L356.06 1047.48L358.37 1047.10L360.68 1046.62L362.99 1046.02L365.29 1045.29L367.60 1044.39L369.91 1043.33L372.22 1042.10L374.53 1040.72L376.84 1039.21L379.15 1037.61L381.45 1035.99L383.76 1034.39L386.07 1032.88L388.38 1031.50L390.69 1030.27L393.00 1029.21L395.31 1028.31L397.61 1027.58L399.92 1026.98L402.23 1026.50L404.54 1026.12L406.85 1025.82L409.16 1025.58L411.46 1025.40L413.77 1025.26L416.08 1025.15L418.39 1025.07L420.70 1025.01L423.01 1024.96L425.32 1024.92L427.62 1024.89L429.93 1024.87L432.24 1024.85L434.55 1024.84L436.86 1024.83L439.17 1024.82L441.47 1024.82L443.78 1024.81L446.09 1024.81L448.40 1024.81L448.40 1024.86L450.71 1024.87L453.02 1024.90L455.33 1024.93L457.63 1024.96L459.94 1025.02L462.25 1025.08L464.56 1025.17L466.87 1025.29L469.18 1025.44L471.48 1025.64L473.79 1025.89L476.10 1026.23L478.41 1026.67L480.72 1027.25L483.03 1028.00L485.34 1028.97L487.64 1030.22L489.95 1031.84L492.26 1033.92L494.57 1036.55L496.88 1039.88L499.19 1044.04L501.49 1049.15L503.80 1055.35L506.11 1062.70L508.42 1071.21L510.73 1080.80L513.04 1091.27L515.35 1102.32L517.65 1113.58L519.96 1124.63L522.27 1135.10L524.58 1144.69L526.89 1153.20L529.20 1160.55L531.51 1166.75L533.81 1171.86L536.12 1176.02L538.43 1179.35L540.74 1181.98L543.05 1184.06L545.36 1185.68L547.66 1186.93L549.97 1187.90L552.28 1188.65L554.59 1189.23L556.90 1189.67L559.21 1190.01L561.52 1190.26L563.82 1190.46L566.13 1190.61L568.44 1190.73L570.75 1190.82L573.06 1190.88L575.37 1190.94L577.67 1190.97L579.98 1191.00L582.29 1191.03L584.60 1191.04" fill="none" stroke="#B2D9A0" stroke-width="2" stroke-dasharray="8.4 4.2"/>
<path d="M175.90 1013.23L178.21 1013.23L180.52 1013.24L182.83 1013.26L185.14 1013.28L187.45 1013.30L189.76 1013.33L192.07 1013.37L194.38 1013.43L196.69 1013.50L199.00 1013.59L201.31 1013.71L203.62 1013.87L205.93 1014.07L208.24 1014.34L210.55 1014.69L212.86 1015.14L215.17 1015.72L217.48 1016.48L219.79 1017.44L222.10 1018.67L224.41 1020.22L226.72 1022.15L229.03 1024.54L231.34 1027.42L233.65 1030.84L235.96 1034.80L238.27 1039.26L240.58 1044.14L242.89 1049.28L245.21 1054.52L247.52 1059.66L249.83 1064.54L252.14 1069.00L254.45 1072.96L256.76 1076.38L259.07 1079.26L261.38 1081.65L263.69 1083.58L266.00 1085.13L268.31 1086.36L270.62 1087.32L272.93 1088.08L275.24 1088.66L277.55 1089.11L279.86 1089.46L282.17 1089.73L284.48 1089.93L286.79 1090.09L289.10 1090.21L291.41 1090.30L293.72 1090.37L296.03 1090.43L298.34 1090.47L300.65 1090.50L302.96 1090.52L305.27 1090.54L307.58 1090.56L309.89 1090.57L312.20 1090.57L312.20 1090.63L314.51 1090.63L316.82 1090.65L319.13 1090.66L321.43 1090.68L323.74 1090.70L326.05 1090.73L328.36 1090.77L330.67 1090.83L332.98 1090.90L335.28 1090.99L337.59 1091.11L339.90 1091.27L342.21 1091.48L344.52 1091.75L346.83 1092.10L349.14 1092.56L351.44 1093.15L353.75 1093.91L356.06 1094.88L358.37 1096.12L360.68 1097.68L362.99 1099.64L365.29 1102.04L367.60 1104.95L369.91 1108.40L372.22 1112.39L374.53 1116.90L376.84 1121.82L379.15 1127.01L381.45 1132.29L383.76 1137.48L386.07 1142.40L388.38 1146.91L390.69 1150.90L393.00 1154.35L395.31 1157.26L397.61 1159.66L399.92 1161.62L402.23 1163.18L404.54 1164.42L406.85 1165.39L409.16 1166.15L411.46 1166.74L413.77 1167.20L416.08 1167.55L418.39 1167.82L420.70 1168.03L423.01 1168.19L425.32 1168.31L427.62 1168.40L429.93 1168.47L432.24 1168.53L434.55 1168.57L436.86 1168.60L439.17 1168.62L441.47 1168.64L443.78 1168.65L446.09 1168.67L448.40 1168.67L448.40 1168.67L450.71 1168.66L453.02 1168.64L455.33 1168.63L457.63 1168.60L459.94 1168.57L462.25 1168.53L464.56 1168.48L466.87 1168.41L469.18 1168.32L471.48 1168.20L473.79 1168.05L476.10 1167.85L478.41 1167.59L480.72 1167.25L483.03 1166.80L485.34 1166.22L487.64 1165.48L489.95 1164.52L492.26 1163.28L494.57 1161.72L496.88 1159.74L499.19 1157.27L501.49 1154.23L503.80 1150.55L506.11 1146.19L508.42 1141.13L510.73 1135.43L513.04 1129.21L515.35 1122.64L517.65 1115.96L519.96 1109.39L522.27 1103.17L524.58 1097.47L526.89 1092.41L529.20 1088.05L531.51 1084.37L533.81 1081.33L536.12 1078.86L538.43 1076.88L540.74 1075.32L543.05 1074.08L545.36 1073.12L547.66 1072.38L549.97 1071.80L552.28 1071.35L554.59 1071.01L556.90 1070.75L559.21 1070.55L561.52 1070.40L563.82 1070.28L566.13 1070.19L568.44 1070.12L570.75 1070.07L573.06 1070.03L575.37 1070.00L577.67 1069.97L579.98 1069.96L582.29 1069.94L584.60 1069.93" fill="none" stroke="#7DBF3F" stroke-width="2"/>
<path d="M175.90 1115.01L178.21 1115.01L180.52 1115.02L182.83 1115.02L185.14 1115.03L187.45 1115.03L189.76 1115.05L192.07 1115.06L194.38 1115.08L196.69 1115.10L199.00 1115.13L201.31 1115.18L203.62 1115.23L205.93 1115.30L208.24 1115.39L210.55 1115.52L212.86 1115.67L215.17 1115.87L217.48 1116.13L219.79 1116.47L222.10 1116.89L224.41 1117.43L226.72 1118.10L229.03 1118.92L231.34 1119.92L233.65 1121.11L235.96 1122.48L238.27 1124.02L240.58 1125.71L242.89 1127.49L245.21 1129.31L247.52 1131.09L249.83 1132.78L252.14 1134.32L254.45 1135.69L256.76 1136.88L259.07 1137.88L261.38 1138.70L263.69 1139.37L266.00 1139.91L268.31 1140.33L270.62 1140.67L272.93 1140.93L275.24 1141.13L277.55 1141.28L279.86 1141.41L282.17 1141.50L284.48 1141.57L286.79 1141.62L289.10 1141.67L291.41 1141.70L293.72 1141.72L296.03 1141.74L298.34 1141.75L300.65 1141.77L302.96 1141.77L305.27 1141.78L307.58 1141.78L309.89 1141.79L312.20 1141.79L312.20 1141.82L314.51 1141.83L316.82 1141.84L319.13 1141.85L321.43 1141.86L323.74 1141.88L326.05 1141.91L328.36 1141.95L330.67 1141.99L332.98 1142.05L335.28 1142.13L337.59 1142.23L339.90 1142.36L342.21 1142.53L344.52 1142.76L346.83 1143.05L349.14 1143.43L351.44 1143.93L353.75 1144.56L356.06 1145.37L358.37 1146.41L360.68 1147.71L362.99 1149.34L365.29 1151.35L367.60 1153.78L369.91 1156.66L372.22 1159.99L374.53 1163.75L376.84 1167.86L379.15 1172.19L381.45 1176.61L383.76 1180.94L386.07 1185.05L388.38 1188.81L390.69 1192.14L393.00 1195.02L395.31 1197.45L397.61 1199.46L399.92 1201.09L402.23 1202.39L404.54 1203.43L406.85 1204.24L409.16 1204.87L411.46 1205.37L413.77 1205.75L416.08 1206.04L418.39 1206.27L420.70 1206.44L423.01 1206.57L425.32 1206.67L427.62 1206.75L429.93 1206.81L432.24 1206.85L434.55 1206.89L436.86 1206.92L439.17 1206.94L441.47 1206.95L443.78 1206.96L446.09 1206.97L448.40 1206.98L448.40 1206.94L450.71 1206.92L453.02 1206.90L455.33 1206.87L457.63 1206.83L459.94 1206.78L462.25 1206.71L464.56 1206.61L466.87 1206.49L469.18 1206.34L471.48 1206.13L473.79 1205.86L476.10 1205.51L478.41 1205.06L480.72 1204.46L483.03 1203.68L485.34 1202.68L487.64 1201.37L489.95 1199.70L492.26 1197.54L494.57 1194.81L496.88 1191.35L499.19 1187.04L501.49 1181.74L503.80 1175.31L506.11 1167.69L508.42 1158.86L510.73 1148.92L513.04 1138.05L515.35 1126.59L517.65 1114.91L519.96 1103.45L522.27 1092.58L524.58 1082.64L526.89 1073.81L529.20 1066.19L531.51 1059.76L533.81 1054.46L536.12 1050.15L538.43 1046.69L540.74 1043.96L543.05 1041.80L545.36 1040.13L547.66 1038.82L549.97 1037.82L552.28 1037.04L554.59 1036.44L556.90 1035.99L559.21 1035.64L561.52 1035.37L563.82 1035.16L566.13 1035.01L568.44 1034.89L570.75 1034.79L573.06 1034.72L575.37 1034.67L577.67 1034.63L579.98 1034.60L582.29 1034.58L584.60 1034.56" fill="none" stroke="#EE8080" stroke-width="2"/>
<path d="M175.90 1388.38L180.52 1388.38L185.14 1388.37L189.76 1388.36L194.37 1388.35L198.99 1388.33L203.61 1388.31L208.23 1388.29L212.85 1388.25L217.47 1388.21L222.09 1388.15L226.71 1388.07L231.32 1387.97L235.94 1387.84L240.56 1387.66L245.18 1387.44L249.80 1387.14L254.42 1386.77L259.04 1386.28L263.65 1385.65L268.27 1384.86L272.89 1383.86L277.51 1382.60L282.13 1381.06L286.75 1379.20L291.37 1376.98L295.98 1374.42L300.60 1371.53L305.22 1368.38L309.84 1365.05L314.46 1361.65L319.08 1358.32L323.70 1355.17L328.32 1352.28L332.93 1349.72L337.55 1347.50L342.17 1345.64L346.79 1344.10L351.41 1342.84L356.03 1341.84L360.65 1341.05L365.26 1340.42L369.88 1339.93L374.50 1339.56L379.12 1339.26L383.74 1339.04L388.36 1338.86L392.98 1338.73L397.59 1338.63L402.21 1338.55L406.83 1338.49L411.45 1338.45L416.07 1338.41L420.69 1338.39L425.31 1338.37L429.93 1338.35L434.54 1338.34L439.16 1338.33L443.78 1338.32L448.40 1338.32L448.40 1338.16L450.71 1338.11L453.02 1338.06L455.33 1337.98L457.63 1337.88L459.94 1337.75L462.25 1337.58L464.56 1337.35L466.87 1337.06L469.18 1336.68L471.48 1336.17L473.79 1335.52L476.10 1334.66L478.41 1333.53L480.72 1332.07L483.03 1330.17L485.34 1327.70L487.64 1324.50L489.95 1320.39L492.26 1315.11L494.57 1308.40L496.88 1299.93L499.19 1289.36L501.49 1276.35L503.80 1260.60L506.11 1241.91L508.42 1220.26L510.73 1195.87L513.04 1169.23L515.35 1141.12L517.65 1112.48L519.96 1084.37L522.27 1057.73L524.58 1033.34L526.89 1011.69L529.20 993.00L531.51 977.25L533.81 964.24L536.12 953.67L538.43 945.20L540.74 938.49L543.05 933.21L545.36 929.10L547.66 925.90L549.97 923.43L552.28 921.53L554.59 920.07L556.90 918.94L559.21 918.08L561.52 917.43L563.82 916.92L566.13 916.54L568.44 916.25L570.75 916.02L573.06 915.85L575.37 915.72L577.67 915.62L579.98 915.54L582.29 915.49L584.60 915.44" fill="none" stroke="#D03333" stroke-width="2" stroke-dasharray="8.4 4.2"/>
<path d="M175.90 1145.02L178.21 1145.03L180.52 1145.03L182.83 1145.04L185.14 1145.06L187.45 1145.08L189.76 1145.10L192.07 1145.13L194.38 1145.17L196.69 1145.22L199.00 1145.29L201.31 1145.39L203.62 1145.50L205.93 1145.66L208.24 1145.86L210.55 1146.13L212.86 1146.47L215.17 1146.91L217.48 1147.48L219.79 1148.21L222.10 1149.14L224.41 1150.32L226.72 1151.78L229.03 1153.58L231.34 1155.76L233.65 1158.35L235.96 1161.35L238.27 1164.73L240.58 1168.42L242.89 1172.32L245.21 1176.28L247.52 1180.18L249.83 1183.87L252.14 1187.25L254.45 1190.25L256.76 1192.84L259.07 1195.02L261.38 1196.82L263.69 1198.28L266.00 1199.46L268.31 1200.39L270.62 1201.12L272.93 1201.69L275.24 1202.13L277.55 1202.47L279.86 1202.74L282.17 1202.94L284.48 1203.10L286.79 1203.21L289.10 1203.31L291.41 1203.38L293.72 1203.43L296.03 1203.47L298.34 1203.50L300.65 1203.52L302.96 1203.54L305.27 1203.56L307.58 1203.57L309.89 1203.57L312.20 1203.58L312.20 1203.60L314.51 1203.60L316.82 1203.60L319.13 1203.60L321.43 1203.60L323.74 1203.60L326.05 1203.61L328.36 1203.61L330.67 1203.61L332.98 1203.61L335.28 1203.62L337.59 1203.62L339.90 1203.63L342.21 1203.64L344.52 1203.65L346.83 1203.67L349.14 1203.69L351.44 1203.71L353.75 1203.74L356.06 1203.79L358.37 1203.84L360.68 1203.91L362.99 1203.99L365.29 1204.10L367.60 1204.22L369.91 1204.37L372.22 1204.55L374.53 1204.74L376.84 1204.96L379.15 1205.18L381.45 1205.42L383.76 1205.64L386.07 1205.86L388.38 1206.05L390.69 1206.23L393.00 1206.38L395.31 1206.50L397.61 1206.61L399.92 1206.69L402.23 1206.76L404.54 1206.81L406.85 1206.86L409.16 1206.89L411.46 1206.91L413.77 1206.93L416.08 1206.95L418.39 1206.96L420.70 1206.97L423.01 1206.98L425.32 1206.98L427.62 1206.99L429.93 1206.99L432.24 1206.99L434.55 1206.99L436.86 1207.00L439.17 1207.00L441.47 1207.00L443.78 1207.00L446.09 1207.00L448.40 1207.00L448.40 1206.91L450.71 1206.88L453.02 1206.84L455.33 1206.79L457.63 1206.73L459.94 1206.64L462.25 1206.53L464.56 1206.39L466.87 1206.20L469.18 1205.95L471.48 1205.63L473.79 1205.20L476.10 1204.65L478.41 1203.92L480.72 1202.98L483.03 1201.75L485.34 1200.15L487.64 1198.09L489.95 1195.43L492.26 1192.03L494.57 1187.69L496.88 1182.22L499.19 1175.39L501.49 1166.99L503.80 1156.82L506.11 1144.74L508.42 1130.76L510.73 1115.01L513.04 1097.81L515.35 1079.65L517.65 1061.15L519.96 1042.99L522.27 1025.79L524.58 1010.04L526.89 996.06L529.20 983.98L531.51 973.81L533.81 965.41L536.12 958.58L538.43 953.11L540.74 948.77L543.05 945.37L545.36 942.71L547.66 940.65L549.97 939.05L552.28 937.82L554.59 936.88L556.90 936.15L559.21 935.60L561.52 935.17L563.82 934.85L566.13 934.60L568.44 934.41L570.75 934.27L573.06 934.16L575.37 934.07L577.67 934.01L579.98 933.96L582.29 933.92L584.60 933.89" fill="none" stroke="#E2A9CC" stroke-width="2"/>
<path d="M175.90 983.39L178.21 983.39L180.52 983.39L182.83 983.39L185.14 983.38L187.45 983.38L189.76 983.37L192.07 983.36L194.38 983.35L196.69 983.34L199.00 983.32L201.31 983.29L203.62 983.26L205.93 983.21L208.24 983.15L210.55 983.08L212.86 982.98L215.17 982.86L217.48 982.69L219.79 982.48L222.10 982.22L224.41 981.89L226.72 981.47L229.03 980.95L231.34 980.33L233.65 979.59L235.96 978.74L238.27 977.78L240.58 976.73L242.89 975.62L245.21 974.48L247.52 973.37L249.83 972.32L252.14 971.36L254.45 970.51L256.76 969.77L259.07 969.15L261.38 968.63L263.69 968.21L266.00 967.88L268.31 967.62L270.62 967.41L272.93 967.24L275.24 967.12L277.55 967.02L279.86 966.95L282.17 966.89L284.48 966.84L286.79 966.81L289.10 966.78L291.41 966.76L293.72 966.75L296.03 966.74L298.34 966.73L300.65 966.72L302.96 966.72L305.27 966.71L307.58 966.71L309.89 966.71L312.20 966.71L312.20 966.71L314.51 966.71L316.82 966.72L319.13 966.72L321.43 966.73L323.74 966.74L326.05 966.75L328.36 966.77L330.67 966.79L332.98 966.82L335.28 966.86L337.59 966.91L339.90 966.97L342.21 967.06L344.52 967.17L346.83 967.31L349.14 967.50L351.44 967.74L353.75 968.05L356.06 968.44L358.37 968.95L360.68 969.58L362.99 970.38L365.29 971.36L367.60 972.54L369.91 973.95L372.22 975.57L374.53 977.41L376.84 979.41L379.15 981.52L381.45 983.68L383.76 985.79L386.07 987.79L388.38 989.63L390.69 991.25L393.00 992.66L395.31 993.84L397.61 994.82L399.92 995.62L402.23 996.25L404.54 996.76L406.85 997.15L409.16 997.46L411.46 997.70L413.77 997.89L416.08 998.03L418.39 998.14L420.70 998.23L423.01 998.29L425.32 998.34L427.62 998.38L429.93 998.41L432.24 998.43L434.55 998.45L436.86 998.46L439.17 998.47L441.47 998.48L443.78 998.48L446.09 998.49L448.40 998.49L448.40 998.62L450.71 998.66L453.02 998.71L455.33 998.78L457.63 998.87L459.94 998.98L462.25 999.13L464.56 999.33L466.87 999.58L469.18 999.92L471.48 1000.36L473.79 1000.93L476.10 1001.68L478.41 1002.66L480.72 1003.94L483.03 1005.60L485.34 1007.76L487.64 1010.55L489.95 1014.14L492.26 1018.75L494.57 1024.61L496.88 1032.01L499.19 1041.24L501.49 1052.60L503.80 1066.36L506.11 1082.68L508.42 1101.58L510.73 1122.88L513.04 1146.14L515.35 1170.70L517.65 1195.70L519.96 1220.26L522.27 1243.52L524.58 1264.82L526.89 1283.72L529.20 1300.04L531.51 1313.80L533.81 1325.16L536.12 1334.39L538.43 1341.79L540.74 1347.65L543.05 1352.26L545.36 1355.85L547.66 1358.64L549.97 1360.80L552.28 1362.46L554.59 1363.74L556.90 1364.72L559.21 1365.47L561.52 1366.04L563.82 1366.48L566.13 1366.82L568.44 1367.07L570.75 1367.27L573.06 1367.42L575.37 1367.53L577.67 1367.62L579.98 1367.69L582.29 1367.74L584.60 1367.78" fill="none" stroke="#F6B157" stroke-width="2"/>
<path d="M175.90 1107.21L178.21 1107.21L180.52 1107.22L182.83 1107.22L185.14 1107.23L187.45 1107.24L189.76 1107.25L192.07 1107.26L194.38 1107.28L196.69 1107.31L199.00 1107.34L201.31 1107.39L203.62 1107.44L205.93 1107.52L208.24 1107.62L210.55 1107.74L212.86 1107.91L215.17 1108.12L217.48 1108.40L219.79 1108.75L222.10 1109.20L224.41 1109.77L226.72 1110.47L229.03 1111.34L231.34 1112.40L233.65 1113.65L235.96 1115.10L238.27 1116.73L240.58 1118.51L242.89 1120.39L245.21 1122.31L247.52 1124.19L249.83 1125.97L252.14 1127.60L254.45 1129.05L256.76 1130.30L259.07 1131.36L261.38 1132.23L263.69 1132.93L266.00 1133.50L268.31 1133.95L270.62 1134.30L272.93 1134.58L275.24 1134.79L277.55 1134.96L279.86 1135.08L282.17 1135.18L284.48 1135.26L286.79 1135.31L289.10 1135.36L291.41 1135.39L293.72 1135.42L296.03 1135.44L298.34 1135.45L300.65 1135.46L302.96 1135.47L305.27 1135.48L307.58 1135.48L309.89 1135.49L312.20 1135.49L312.20 1135.47L314.51 1135.46L316.82 1135.45L319.13 1135.43L321.43 1135.41L323.74 1135.39L326.05 1135.35L328.36 1135.31L330.67 1135.25L332.98 1135.17L335.28 1135.07L337.59 1134.93L339.90 1134.76L342.21 1134.53L344.52 1134.23L346.83 1133.84L349.14 1133.33L351.44 1132.68L353.75 1131.84L356.06 1130.76L358.37 1129.39L360.68 1127.66L362.99 1125.50L365.29 1122.85L367.60 1119.63L369.91 1115.81L372.22 1111.39L374.53 1106.41L376.84 1100.97L379.15 1095.22L381.45 1089.38L383.76 1083.63L386.07 1078.19L388.38 1073.21L390.69 1068.79L393.00 1064.97L395.31 1061.75L397.61 1059.10L399.92 1056.94L402.23 1055.21L404.54 1053.84L406.85 1052.76L409.16 1051.92L411.46 1051.27L413.77 1050.76L416.08 1050.37L418.39 1050.07L420.70 1049.84L423.01 1049.67L425.32 1049.53L427.62 1049.43L429.93 1049.35L432.24 1049.29L434.55 1049.25L436.86 1049.21L439.17 1049.19L441.47 1049.17L443.78 1049.15L446.09 1049.14L448.40 1049.13L448.40 1049.21L450.71 1049.24L453.02 1049.29L455.33 1049.35L457.63 1049.43L459.94 1049.53L462.25 1049.66L464.56 1049.84L466.87 1050.06L469.18 1050.36L471.48 1050.75L473.79 1051.27L476.10 1051.94L478.41 1052.81L480.72 1053.95L483.03 1055.43L485.34 1057.35L487.64 1059.84L489.95 1063.04L492.26 1067.14L494.57 1072.37L496.88 1078.96L499.19 1087.18L501.49 1097.31L503.80 1109.57L506.11 1124.12L508.42 1140.96L510.73 1159.95L513.04 1180.68L515.35 1202.56L517.65 1224.84L519.96 1246.72L522.27 1267.45L524.58 1286.44L526.89 1303.28L529.20 1317.83L531.51 1330.09L533.81 1340.22L536.12 1348.44L538.43 1355.03L540.74 1360.26L543.05 1364.36L545.36 1367.56L547.66 1370.05L549.97 1371.97L552.28 1373.45L554.59 1374.59L556.90 1375.46L559.21 1376.13L561.52 1376.65L563.82 1377.04L566.13 1377.34L568.44 1377.56L570.75 1377.74L573.06 1377.87L575.37 1377.97L577.67 1378.05L579.98 1378.11L582.29 1378.16L584.60 1378.19" fill="none" stroke="#3B86CC" stroke-width="2" stroke-dasharray="8.4 4.2"/>
<path d="M175.90 1022.80L178.21 1022.79L180.52 1022.79L182.83 1022.79L185.14 1022.79L187.45 1022.78L189.76 1022.77L192.07 1022.77L194.38 1022.76L196.69 1022.74L199.00 1022.73L201.31 1022.70L203.62 1022.67L205.93 1022.63L208.24 1022.58L210.55 1022.52L212.86 1022.43L215.17 1022.32L217.48 1022.17L219.79 1021.99L222.10 1021.75L224.41 1021.46L226.72 1021.09L229.03 1020.63L231.34 1020.08L233.65 1019.43L235.96 1018.67L238.27 1017.82L240.58 1016.88L242.89 1015.90L245.21 1014.90L247.52 1013.92L249.83 1012.98L252.14 1012.13L254.45 1011.37L256.76 1010.72L259.07 1010.17L261.38 1009.71L263.69 1009.34L266.00 1009.05L268.31 1008.81L270.62 1008.63L272.93 1008.48L275.24 1008.37L277.55 1008.28L279.86 1008.22L282.17 1008.17L284.48 1008.13L286.79 1008.10L289.10 1008.07L291.41 1008.06L293.72 1008.04L296.03 1008.03L298.34 1008.03L300.65 1008.02L302.96 1008.01L305.27 1008.01L307.58 1008.01L309.89 1008.01L312.20 1008.00L312.20 1008.02L314.51 1008.02L316.82 1008.03L319.13 1008.04L321.43 1008.05L323.74 1008.07L326.05 1008.09L328.36 1008.12L330.67 1008.15L332.98 1008.20L335.28 1008.26L337.59 1008.35L339.90 1008.45L342.21 1008.59L344.52 1008.77L346.83 1009.01L349.14 1009.32L351.44 1009.72L353.75 1010.23L356.06 1010.88L358.37 1011.72L360.68 1012.77L362.99 1014.09L365.29 1015.70L367.60 1017.66L369.91 1019.99L372.22 1022.68L374.53 1025.71L376.84 1029.02L379.15 1032.52L381.45 1036.08L383.76 1039.58L386.07 1042.89L388.38 1045.92L390.69 1048.61L393.00 1050.94L395.31 1052.90L397.61 1054.51L399.92 1055.83L402.23 1056.88L404.54 1057.72L406.85 1058.37L409.16 1058.88L411.46 1059.28L413.77 1059.59L416.08 1059.83L418.39 1060.01L420.70 1060.15L423.01 1060.25L425.32 1060.34L427.62 1060.40L429.93 1060.45L432.24 1060.48L434.55 1060.51L436.86 1060.53L439.17 1060.55L441.47 1060.56L443.78 1060.57L446.09 1060.58L448.40 1060.58L448.40 1060.62L450.71 1060.62L453.02 1060.63L455.33 1060.64L457.63 1060.65L459.94 1060.66L462.25 1060.68L464.56 1060.71L466.87 1060.74L469.18 1060.78L471.48 1060.84L473.79 1060.92L476.10 1061.02L478.41 1061.14L480.72 1061.31L483.03 1061.53L485.34 1061.81L487.64 1062.17L489.95 1062.64L492.26 1063.24L494.57 1064.01L496.88 1064.97L499.19 1066.18L501.49 1067.66L503.80 1069.45L506.11 1071.58L508.42 1074.05L510.73 1076.83L513.04 1079.86L515.35 1083.07L517.65 1086.33L519.96 1089.54L522.27 1092.57L524.58 1095.35L526.89 1097.82L529.20 1099.95L531.51 1101.74L533.81 1103.22L536.12 1104.43L538.43 1105.39L540.74 1106.16L543.05 1106.76L545.36 1107.23L547.66 1107.59L549.97 1107.87L552.28 1108.09L554.59 1108.26L556.90 1108.38L559.21 1108.48L561.52 1108.56L563.82 1108.62L566.13 1108.66L568.44 1108.69L570.75 1108.72L573.06 1108.74L575.37 1108.75L577.67 1108.76L579.98 1108.77L582.29 1108.78L584.60 1108.78" fill="none" stroke="#1F3A14" stroke-width="2"/>
<path d="M175.90 1061.70L178.21 1061.69L180.52 1061.69L182.83 1061.69L185.14 1061.69L187.45 1061.68L189.76 1061.68L192.07 1061.67L194.38 1061.66L196.69 1061.65L199.00 1061.64L201.31 1061.62L203.62 1061.59L205.93 1061.55L208.24 1061.51L210.55 1061.45L212.86 1061.38L215.17 1061.28L217.48 1061.15L219.79 1060.99L222.10 1060.79L224.41 1060.53L226.72 1060.21L229.03 1059.81L231.34 1059.33L233.65 1058.76L235.96 1058.10L238.27 1057.36L240.58 1056.54L242.89 1055.69L245.21 1054.81L247.52 1053.96L249.83 1053.14L252.14 1052.40L254.45 1051.74L256.76 1051.17L259.07 1050.69L261.38 1050.29L263.69 1049.97L266.00 1049.71L268.31 1049.51L270.62 1049.35L272.93 1049.22L275.24 1049.12L277.55 1049.05L279.86 1048.99L282.17 1048.95L284.48 1048.91L286.79 1048.88L289.10 1048.86L291.41 1048.85L293.72 1048.84L296.03 1048.83L298.34 1048.82L300.65 1048.82L302.96 1048.81L305.27 1048.81L307.58 1048.81L309.89 1048.81L312.20 1048.80L312.20 1048.79L314.51 1048.79L316.82 1048.79L319.13 1048.79L321.43 1048.78L323.74 1048.78L326.05 1048.77L328.36 1048.76L330.67 1048.74L332.98 1048.73L335.28 1048.70L337.59 1048.67L339.90 1048.64L342.21 1048.59L344.52 1048.52L346.83 1048.43L349.14 1048.32L351.44 1048.18L353.75 1048.00L356.06 1047.76L358.37 1047.46L360.68 1047.08L362.99 1046.60L365.29 1046.02L367.60 1045.31L369.91 1044.47L372.22 1043.50L374.53 1042.40L376.84 1041.21L379.15 1039.94L381.45 1038.66L383.76 1037.39L386.07 1036.20L388.38 1035.10L390.69 1034.13L393.00 1033.29L395.31 1032.58L397.61 1032.00L399.92 1031.52L402.23 1031.14L404.54 1030.84L406.85 1030.60L409.16 1030.42L411.46 1030.28L413.77 1030.17L416.08 1030.08L418.39 1030.01L420.70 1029.96L423.01 1029.93L425.32 1029.90L427.62 1029.87L429.93 1029.86L432.24 1029.84L434.55 1029.83L436.86 1029.82L439.17 1029.82L441.47 1029.81L443.78 1029.81L446.09 1029.81L448.40 1029.81L448.40 1029.86L450.71 1029.88L453.02 1029.91L455.33 1029.94L457.63 1029.99L459.94 1030.04L462.25 1030.12L464.56 1030.22L466.87 1030.35L469.18 1030.52L471.48 1030.75L473.79 1031.04L476.10 1031.42L478.41 1031.92L480.72 1032.57L483.03 1033.42L485.34 1034.52L487.64 1035.94L489.95 1037.77L492.26 1040.12L494.57 1043.10L496.88 1046.87L499.19 1051.57L501.49 1057.36L503.80 1064.37L506.11 1072.69L508.42 1082.32L510.73 1093.17L513.04 1105.02L515.35 1117.53L517.65 1130.27L519.96 1142.78L522.27 1154.63L524.58 1165.48L526.89 1175.11L529.20 1183.43L531.51 1190.44L533.81 1196.23L536.12 1200.93L538.43 1204.70L540.74 1207.68L543.05 1210.03L545.36 1211.86L547.66 1213.28L549.97 1214.38L552.28 1215.23L554.59 1215.88L556.90 1216.38L559.21 1216.76L561.52 1217.05L563.82 1217.28L566.13 1217.45L568.44 1217.58L570.75 1217.68L573.06 1217.76L575.37 1217.81L577.67 1217.86L579.98 1217.89L582.29 1217.92L584.60 1217.94" fill="none" stroke="#E86AA8" stroke-width="2" stroke-dasharray="8.4 4.2"/>
<path d="M175.90 953.48L178.21 953.48L180.52 953.47L182.83 953.46L185.14 953.45L187.45 953.44L189.76 953.42L192.07 953.39L194.38 953.36L196.69 953.31L199.00 953.26L201.31 953.18L203.62 953.08L205.93 952.95L208.24 952.78L210.55 952.57L212.86 952.28L215.17 951.91L217.48 951.44L219.79 950.84L222.10 950.06L224.41 949.09L226.72 947.88L229.03 946.38L231.34 944.57L233.65 942.43L235.96 939.94L238.27 937.14L240.58 934.08L242.89 930.84L245.21 927.56L247.52 924.32L249.83 921.26L252.14 918.46L254.45 915.97L256.76 913.83L259.07 912.02L261.38 910.52L263.69 909.31L266.00 908.34L268.31 907.56L270.62 906.96L272.93 906.49L275.24 906.12L277.55 905.83L279.86 905.62L282.17 905.45L284.48 905.32L286.79 905.22L289.10 905.14L291.41 905.09L293.72 905.04L296.03 905.01L298.34 904.98L300.65 904.96L302.96 904.95L305.27 904.94L307.58 904.93L309.89 904.92L312.20 904.92L312.20 904.93L314.51 904.94L316.82 904.95L319.13 904.96L321.43 904.98L323.74 905.01L326.05 905.04L328.36 905.08L330.67 905.14L332.98 905.21L335.28 905.31L337.59 905.44L339.90 905.60L342.21 905.82L344.52 906.10L346.83 906.47L349.14 906.94L351.44 907.56L353.75 908.35L356.06 909.37L358.37 910.66L360.68 912.29L362.99 914.33L365.29 916.84L367.60 919.87L369.91 923.47L372.22 927.64L374.53 932.34L376.84 937.47L379.15 942.89L381.45 948.41L383.76 953.83L386.07 958.96L388.38 963.66L390.69 967.83L393.00 971.43L395.31 974.46L397.61 976.97L399.92 979.01L402.23 980.64L404.54 981.93L406.85 982.95L409.16 983.74L411.46 984.36L413.77 984.83L416.08 985.20L418.39 985.48L420.70 985.70L423.01 985.86L425.32 985.99L427.62 986.09L429.93 986.16L432.24 986.22L434.55 986.26L436.86 986.29L439.17 986.32L441.47 986.34L443.78 986.35L446.09 986.36L448.40 986.37L448.40 986.40L450.71 986.40L453.02 986.40L455.33 986.40L457.63 986.40L459.94 986.40L462.25 986.41L464.56 986.41L466.87 986.41L469.18 986.41L471.48 986.42L473.79 986.42L476.10 986.43L478.41 986.44L480.72 986.45L483.03 986.47L485.34 986.49L487.64 986.51L489.95 986.55L492.26 986.59L494.57 986.65L496.88 986.72L499.19 986.80L501.49 986.91L503.80 987.04L506.11 987.20L508.42 987.38L510.73 987.58L513.04 987.80L515.35 988.03L517.65 988.27L519.96 988.50L522.27 988.72L524.58 988.92L526.89 989.10L529.20 989.26L531.51 989.39L533.81 989.50L536.12 989.58L538.43 989.65L540.74 989.71L543.05 989.75L545.36 989.79L547.66 989.81L549.97 989.83L552.28 989.85L554.59 989.86L556.90 989.87L559.21 989.88L561.52 989.88L563.82 989.89L566.13 989.89L568.44 989.89L570.75 989.89L573.06 989.90L575.37 989.90L577.67 989.90L579.98 989.90L582.29 989.90L584.60 989.90" fill="none" stroke="#2DB8E8" stroke-width="2" stroke-dasharray="4.2 4.2"/>
<path d="M175.90 947.71L178.21 947.75L180.52 947.80L182.83 947.86L185.14 947.94L187.45 948.05L189.76 948.18L192.07 948.36L194.38 948.60L196.69 948.91L199.00 949.32L201.31 949.85L203.62 950.55L205.93 951.46L208.24 952.64L210.55 954.18L212.86 956.18L215.17 958.77L217.48 962.10L219.79 966.37L222.10 971.80L224.41 978.66L226.72 987.21L229.03 997.74L231.34 1010.50L233.65 1025.63L235.96 1043.15L238.27 1062.89L240.58 1084.45L242.89 1107.21L245.21 1130.39L247.52 1153.15L249.83 1174.71L252.14 1194.45L254.45 1211.97L256.76 1227.10L259.07 1239.86L261.38 1250.39L263.69 1258.94L266.00 1265.80L268.31 1271.23L270.62 1275.50L272.93 1278.83L275.24 1281.42L277.55 1283.42L279.86 1284.96L282.17 1286.14L284.48 1287.05L286.79 1287.75L289.10 1288.28L291.41 1288.69L293.72 1289.00L296.03 1289.24L298.34 1289.42L300.65 1289.55L302.96 1289.66L305.27 1289.74L307.58 1289.80L309.89 1289.85L312.20 1289.89L312.20 1290.04L314.51 1290.05L316.82 1290.07L319.13 1290.09L321.43 1290.11L323.74 1290.15L326.05 1290.19L328.36 1290.25L330.67 1290.33L332.98 1290.44L335.28 1290.57L337.59 1290.75L339.90 1290.98L342.21 1291.28L344.52 1291.67L346.83 1292.18L349.14 1292.84L351.44 1293.70L353.75 1294.80L356.06 1296.22L358.37 1298.02L360.68 1300.29L362.99 1303.12L365.29 1306.61L367.60 1310.83L369.91 1315.84L372.22 1321.64L374.53 1328.18L376.84 1335.32L379.15 1342.86L381.45 1350.54L383.76 1358.08L386.07 1365.22L388.38 1371.76L390.69 1377.56L393.00 1382.57L395.31 1386.79L397.61 1390.28L399.92 1393.11L402.23 1395.38L404.54 1397.18L406.85 1398.60L409.16 1399.70L411.46 1400.56L413.77 1401.22L416.08 1401.73L418.39 1402.12L420.70 1402.42L423.01 1402.65L425.32 1402.83L427.62 1402.96L429.93 1403.07L432.24 1403.15L434.55 1403.21L436.86 1403.25L439.17 1403.29L441.47 1403.31L443.78 1403.33L446.09 1403.35L448.40 1403.36L448.40 1403.40L450.71 1403.39L453.02 1403.39L455.33 1403.39L457.63 1403.39L459.94 1403.38L462.25 1403.38L464.56 1403.37L466.87 1403.36L469.18 1403.35L471.48 1403.33L473.79 1403.31L476.10 1403.29L478.41 1403.25L480.72 1403.20L483.03 1403.14L485.34 1403.07L487.64 1402.97L489.95 1402.84L492.26 1402.67L494.57 1402.46L496.88 1402.19L499.19 1401.86L501.49 1401.45L503.80 1400.96L506.11 1400.37L508.42 1399.69L510.73 1398.92L513.04 1398.08L515.35 1397.20L517.65 1396.30L519.96 1395.42L522.27 1394.58L524.58 1393.81L526.89 1393.13L529.20 1392.54L531.51 1392.05L533.81 1391.64L536.12 1391.31L538.43 1391.04L540.74 1390.83L543.05 1390.66L545.36 1390.53L547.66 1390.43L549.97 1390.36L552.28 1390.30L554.59 1390.25L556.90 1390.21L559.21 1390.19L561.52 1390.17L563.82 1390.15L566.13 1390.14L568.44 1390.13L570.75 1390.12L573.06 1390.12L575.37 1390.11L577.67 1390.11L579.98 1390.11L582.29 1390.11L584.60 1390.10" fill="none" stroke="#0B5E8E" stroke-width="2"/>
<circle cx="175.9" cy="1252.1" r="3.5" fill="#E8232F" fill-opacity="0.5"/>
<circle cx="312.2" cy="1026.8" r="3.5" fill="#E8232F" fill-opacity="0.5"/>
<circle cx="448.4" cy="993.8" r="3.5" fill="#E8232F" fill-opacity="0.5"/>
<circle cx="584.6" cy="1077.3" r="3.5" fill="#E8232F" fill-opacity="0.5"/>
<circle cx="175.9" cy="1298.4" r="3.5" fill="#52B350" fill-opacity="0.5"/>
<circle cx="312.2" cy="1307.1" r="3.5" fill="#52B350" fill-opacity="0.5"/>
<circle cx="448.4" cy="1046.5" r="3.5" fill="#52B350" fill-opacity="0.5"/>
<circle cx="584.6" cy="1302.5" r="3.5" fill="#52B350" fill-opacity="0.5"/>
<circle cx="175.9" cy="1138.2" r="3.5" fill="#3A5BAA" fill-opacity="0.5"/>
<circle cx="312.2" cy="1135.5" r="3.5" fill="#3A5BAA" fill-opacity="0.5"/>
<circle cx="448.4" cy="1207.0" r="3.5" fill="#3A5BAA" fill-opacity="0.5"/>
<circle cx="584.6" cy="967.8" r="3.5" fill="#3A5BAA" fill-opacity="0.5"/>
<circle cx="175.9" cy="974.6" r="3.5" fill="#F0B5BE" fill-opacity="0.5"/>
<circle cx="312.2" cy="976.1" r="3.5" fill="#F0B5BE" fill-opacity="0.5"/>
<circle cx="448.4" cy="882.8" r="3.5" fill="#F0B5BE" fill-opacity="0.5"/>
<circle cx="584.6" cy="1177.6" r="3.5" fill="#F0B5BE" fill-opacity="0.5"/>
<circle cx="175.9" cy="1127.3" r="3.5" fill="#B8479C" fill-opacity="0.5"/>
<circle cx="312.2" cy="1129.3" r="3.5" fill="#B8479C" fill-opacity="0.5"/>
<circle cx="448.4" cy="986.4" r="3.5" fill="#B8479C" fill-opacity="0.5"/>
<circle cx="584.6" cy="915.0" r="3.5" fill="#B8479C" fill-opacity="0.5"/>
<circle cx="175.9" cy="1185.7" r="3.5" fill="#3EBCCB" fill-opacity="0.5"/>
<circle cx="312.2" cy="1210.8" r="3.5" fill="#3EBCCB" fill-opacity="0.5"/>
<circle cx="448.4" cy="1176.8" r="3.5" fill="#3EBCCB" fill-opacity="0.5"/>
<circle cx="584.6" cy="908.7" r="3.5" fill="#3EBCCB" fill-opacity="0.5"/>
<circle cx="175.9" cy="1244.8" r="3.5" fill="#E5E52A" fill-opacity="0.5"/>
<circle cx="312.2" cy="1197.7" r="3.5" fill="#E5E52A" fill-opacity="0.5"/>
<circle cx="448.4" cy="1040.2" r="3.5" fill="#E5E52A" fill-opacity="0.5"/>
<circle cx="584.6" cy="1117.0" r="3.5" fill="#E5E52A" fill-opacity="0.5"/>
<circle cx="175.9" cy="1205.1" r="3.5" fill="#15224F" fill-opacity="0.5"/>
<circle cx="312.2" cy="1133.4" r="3.5" fill="#15224F" fill-opacity="0.5"/>
<circle cx="448.4" cy="1234.6" r="3.5" fill="#15224F" fill-opacity="0.5"/>
<circle cx="584.6" cy="1021.6" r="3.5" fill="#15224F" fill-opacity="0.5"/>
<circle cx="175.9" cy="1018.7" r="3.5" fill="#F28A2E" fill-opacity="0.5"/>
<circle cx="312.2" cy="1072.8" r="3.5" fill="#F28A2E" fill-opacity="0.5"/>
<circle cx="448.4" cy="1099.3" r="3.5" fill="#F28A2E" fill-opacity="0.5"/>
<circle cx="584.6" cy="1310.5" r="3.5" fill="#F28A2E" fill-opacity="0.5"/>
<circle cx="175.9" cy="1167.5" r="3.5" fill="#C8136A" fill-opacity="0.5"/>
<circle cx="312.2" cy="1159.6" r="3.5" fill="#C8136A" fill-opacity="0.5"/>
<circle cx="448.4" cy="1015.0" r="3.5" fill="#C8136A" fill-opacity="0.5"/>
<circle cx="584.6" cy="1138.6" r="3.5" fill="#C8136A" fill-opacity="0.5"/>
<circle cx="175.9" cy="928.5" r="3.5" fill="#0A7A3E" fill-opacity="0.5"/>
<circle cx="312.2" cy="909.3" r="3.5" fill="#0A7A3E" fill-opacity="0.5"/>
<circle cx="448.4" cy="943.6" r="3.5" fill="#0A7A3E" fill-opacity="0.5"/>
<circle cx="584.6" cy="1036.7" r="3.5" fill="#0A7A3E" fill-opacity="0.5"/>
<circle cx="175.9" cy="1121.5" r="3.5" fill="#9AA8D8" fill-opacity="0.5"/>
<circle cx="312.2" cy="1181.4" r="3.5" fill="#9AA8D8" fill-opacity="0.5"/>
<circle cx="448.4" cy="1167.5" r="3.5" fill="#9AA8D8" fill-opacity="0.5"/>
<circle cx="584.6" cy="933.0" r="3.5" fill="#9AA8D8" fill-opacity="0.5"/>
<circle cx="175.9" cy="1278.7" r="3.5" fill="#8E2F8C" fill-opacity="0.5"/>
<circle cx="312.2" cy="1459.1" r="3.5" fill="#8E2F8C" fill-opacity="0.5"/>
<circle cx="448.4" cy="1234.6" r="3.5" fill="#8E2F8C" fill-opacity="0.5"/>
<circle cx="584.6" cy="991.0" r="3.5" fill="#8E2F8C" fill-opacity="0.5"/>
<circle cx="175.9" cy="1152.9" r="3.5" fill="#5E0A16" fill-opacity="0.5"/>
<circle cx="312.2" cy="1072.8" r="3.5" fill="#5E0A16" fill-opacity="0.5"/>
<circle cx="448.4" cy="1009.3" r="3.5" fill="#5E0A16" fill-opacity="0.5"/>
<circle cx="584.6" cy="1204.4" r="3.5" fill="#5E0A16" fill-opacity="0.5"/>
<circle cx="175.9" cy="1004.4" r="3.5" fill="#7A6A2A" fill-opacity="0.5"/>
<circle cx="312.2" cy="1102.6" r="3.5" fill="#7A6A2A" fill-opacity="0.5"/>
<circle cx="448.4" cy="1160.4" r="3.5" fill="#7A6A2A" fill-opacity="0.5"/>
<circle cx="584.6" cy="1207.2" r="3.5" fill="#7A6A2A" fill-opacity="0.5"/>
<circle cx="175.9" cy="1199.6" r="3.5" fill="#9A6EB0" fill-opacity="0.5"/>
<circle cx="312.2" cy="1251.5" r="3.5" fill="#9A6EB0" fill-opacity="0.5"/>
<circle cx="448.4" cy="1023.5" r="3.5" fill="#9A6EB0" fill-opacity="0.5"/>
<circle cx="584.6" cy="1236.1" r="3.5" fill="#9A6EB0" fill-opacity="0.5"/>
<circle cx="175.9" cy="996.4" r="3.5" fill="#283A93" fill-opacity="0.5"/>
<circle cx="312.2" cy="1004.9" r="3.5" fill="#283A93" fill-opacity="0.5"/>
<circle cx="448.4" cy="992.5" r="3.5" fill="#283A93" fill-opacity="0.5"/>
<circle cx="584.6" cy="936.4" r="3.5" fill="#283A93" fill-opacity="0.5"/>
<circle cx="175.9" cy="1056.5" r="3.5" fill="#5F9494" fill-opacity="0.5"/>
<circle cx="312.2" cy="1077.0" r="3.5" fill="#5F9494" fill-opacity="0.5"/>
<circle cx="448.4" cy="1042.8" r="3.5" fill="#5F9494" fill-opacity="0.5"/>
<circle cx="584.6" cy="1276.8" r="3.5" fill="#5F9494" fill-opacity="0.5"/>
<circle cx="175.9" cy="1196.7" r="3.5" fill="#3FAE80" fill-opacity="0.5"/>
<circle cx="312.2" cy="1210.2" r="3.5" fill="#3FAE80" fill-opacity="0.5"/>
<circle cx="448.4" cy="1403.4" r="3.5" fill="#3FAE80" fill-opacity="0.5"/>
<circle cx="584.6" cy="998.6" r="3.5" fill="#3FAE80" fill-opacity="0.5"/>
<circle cx="175.9" cy="1219.5" r="3.5" fill="#B2D9A0" fill-opacity="0.5"/>
<circle cx="312.2" cy="1048.8" r="3.5" fill="#B2D9A0" fill-opacity="0.5"/>
<circle cx="448.4" cy="1024.8" r="3.5" fill="#B2D9A0" fill-opacity="0.5"/>
<circle cx="584.6" cy="1191.1" r="3.5" fill="#B2D9A0" fill-opacity="0.5"/>
<circle cx="175.9" cy="1013.2" r="3.5" fill="#7DBF3F" fill-opacity="0.5"/>
<circle cx="312.2" cy="1090.6" r="3.5" fill="#7DBF3F" fill-opacity="0.5"/>
<circle cx="448.4" cy="1168.7" r="3.5" fill="#7DBF3F" fill-opacity="0.5"/>
<circle cx="584.6" cy="1069.9" r="3.5" fill="#7DBF3F" fill-opacity="0.5"/>
<circle cx="175.9" cy="1115.0" r="3.5" fill="#EE8080" fill-opacity="0.5"/>
<circle cx="312.2" cy="1141.8" r="3.5" fill="#EE8080" fill-opacity="0.5"/>
<circle cx="448.4" cy="1207.0" r="3.5" fill="#EE8080" fill-opacity="0.5"/>
<circle cx="584.6" cy="1034.5" r="3.5" fill="#EE8080" fill-opacity="0.5"/>
<circle cx="175.9" cy="1388.4" r="3.5" fill="#D03333" fill-opacity="0.5"/>
<circle cx="448.4" cy="1338.3" r="3.5" fill="#D03333" fill-opacity="0.5"/>
<circle cx="584.6" cy="915.3" r="3.5" fill="#D03333" fill-opacity="0.5"/>
<circle cx="175.9" cy="1145.0" r="3.5" fill="#E2A9CC" fill-opacity="0.5"/>
<circle cx="312.2" cy="1203.6" r="3.5" fill="#E2A9CC" fill-opacity="0.5"/>
<circle cx="448.4" cy="1207.0" r="3.5" fill="#E2A9CC" fill-opacity="0.5"/>
<circle cx="584.6" cy="933.8" r="3.5" fill="#E2A9CC" fill-opacity="0.5"/>
<circle cx="175.9" cy="983.4" r="3.5" fill="#F6B157" fill-opacity="0.5"/>
<circle cx="312.2" cy="966.7" r="3.5" fill="#F6B157" fill-opacity="0.5"/>
<circle cx="448.4" cy="998.5" r="3.5" fill="#F6B157" fill-opacity="0.5"/>
<circle cx="584.6" cy="1367.9" r="3.5" fill="#F6B157" fill-opacity="0.5"/>
<circle cx="175.9" cy="1107.2" r="3.5" fill="#3B86CC" fill-opacity="0.5"/>
<circle cx="312.2" cy="1135.5" r="3.5" fill="#3B86CC" fill-opacity="0.5"/>
<circle cx="448.4" cy="1049.1" r="3.5" fill="#3B86CC" fill-opacity="0.5"/>
<circle cx="584.6" cy="1378.3" r="3.5" fill="#3B86CC" fill-opacity="0.5"/>
<circle cx="175.9" cy="1022.8" r="3.5" fill="#1F3A14" fill-opacity="0.5"/>
<circle cx="312.2" cy="1008.0" r="3.5" fill="#1F3A14" fill-opacity="0.5"/>
<circle cx="448.4" cy="1060.6" r="3.5" fill="#1F3A14" fill-opacity="0.5"/>
<circle cx="584.6" cy="1108.8" r="3.5" fill="#1F3A14" fill-opacity="0.5"/>
<circle cx="175.9" cy="1061.7" r="3.5" fill="#E86AA8" fill-opacity="0.5"/>
<circle cx="312.2" cy="1048.8" r="3.5" fill="#E86AA8" fill-opacity="0.5"/>
<circle cx="448.4" cy="1029.8" r="3.5" fill="#E86AA8" fill-opacity="0.5"/>
<circle cx="584.6" cy="1218.0" r="3.5" fill="#E86AA8" fill-opacity="0.5"/>
<circle cx="175.9" cy="953.5" r="3.5" fill="#2DB8E8" fill-opacity="0.5"/>
<circle cx="312.2" cy="904.9" r="3.5" fill="#2DB8E8" fill-opacity="0.5"/>
<circle cx="448.4" cy="986.4" r="3.5" fill="#2DB8E8" fill-opacity="0.5"/>
<circle cx="584.6" cy="989.9" r="3.5" fill="#2DB8E8" fill-opacity="0.5"/>
<circle cx="175.9" cy="947.6" r="3.5" fill="#0B5E8E" fill-opacity="0.5"/>
<circle cx="312.2" cy="1290.0" r="3.5" fill="#0B5E8E" fill-opacity="0.5"/>
<circle cx="448.4" cy="1403.4" r="3.5" fill="#0B5E8E" fill-opacity="0.5"/>
<circle cx="584.6" cy="1390.1" r="3.5" fill="#0B5E8E" fill-opacity="0.5"/>
<rect x="115.8" y="855.0" width="490.3" height="632.0" fill="none" stroke="#333" stroke-width="1.4"/>
<line x1="108.5" x2="115.8" y1="949.3" y2="949.3" stroke="#333" stroke-width="2"/>
<text transform="translate(108.30,956.67) scale(0.93,1)" font-size="24.8" fill="#4d4d4d" text-anchor="end">5.00%</text>
<line x1="108.5" x2="115.8" y1="1100.6" y2="1100.6" stroke="#333" stroke-width="2"/>
<text transform="translate(108.30,1108.00) scale(0.93,1)" font-size="24.8" fill="#4d4d4d" text-anchor="end">1.00%</text>
<line x1="108.5" x2="115.8" y1="1165.8" y2="1165.8" stroke="#333" stroke-width="2"/>
<text transform="translate(108.30,1173.17) scale(0.93,1)" font-size="24.8" fill="#4d4d4d" text-anchor="end">0.50%</text>
<line x1="108.5" x2="115.8" y1="1317.1" y2="1317.1" stroke="#333" stroke-width="2"/>
<text transform="translate(108.30,1324.50) scale(0.93,1)" font-size="24.8" fill="#4d4d4d" text-anchor="end">0.10%</text>
<line x1="108.5" x2="115.8" y1="1382.3" y2="1382.3" stroke="#333" stroke-width="2"/>
<text transform="translate(108.30,1389.67) scale(0.93,1)" font-size="24.8" fill="#4d4d4d" text-anchor="end">0.05%</text>
<line x1="175.9" x2="175.9" y1="1487.0" y2="1494.3" stroke="#333" stroke-width="2"/>
<text transform="translate(175.90,1519.50) scale(0.93,1)" font-size="24.8" fill="#4d4d4d" text-anchor="middle">ChinaMAP</text>
<line x1="312.2" x2="312.2" y1="1487.0" y2="1494.3" stroke="#333" stroke-width="2"/>
<text transform="translate(312.20,1519.50) scale(0.93,1)" font-size="24.8" fill="#4d4d4d" text-anchor="middle">WBBC</text>
<line x1="448.4" x2="448.4" y1="1487.0" y2="1494.3" stroke="#333" stroke-width="2"/>
<text transform="translate(448.40,1519.50) scale(0.93,1)" font-size="24.8" fill="#4d4d4d" text-anchor="middle">EAS</text>
<line x1="584.6" x2="584.6" y1="1487.0" y2="1494.3" stroke="#333" stroke-width="2"/>
<text transform="translate(584.60,1519.50) scale(0.93,1)" font-size="24.8" fill="#4d4d4d" text-anchor="middle">EUR</text>
<text transform="translate(38.30,1165.40) rotate(-90) scale(0.94,1)" font-size="30.0" fill="#000" text-anchor="middle">GCR</text>
<text x="172.9" y="932.6" font-size="12.8" fill="#000" text-anchor="end">DUOX2</text>
<text x="172.6" y="951.4" font-size="12.8" fill="#000" text-anchor="end">UGT1A1</text>
<text x="170.8" y="973.8" font-size="12.8" fill="#000" text-anchor="end">CD36</text>
<text x="179.4" y="986.7" font-size="12.8" fill="#000" text-anchor="end">SERPINB7</text>
<text x="170.8" y="997.8" font-size="12.8" fill="#000" text-anchor="end">GJB2</text>
<text x="171.0" y="1007.8" font-size="12.8" fill="#000" text-anchor="end">GALC</text>
<text x="171.0" y="1019.0" font-size="12.8" fill="#000" text-anchor="end">POLG</text>
<text x="173.8" y="1030.8" font-size="12.8" fill="#000" text-anchor="end">DMGDH</text>
<text x="172.9" y="1302.7" font-size="12.8" fill="#000" text-anchor="end">ATAD3A</text>
<text x="172.9" y="1392.7" font-size="12.8" fill="#000" text-anchor="end">RBM8A</text>
<text x="649.6" y="895.3" font-size="12.7" fill="#000">SYMBOL</text>
<line x1="650.9" x2="662.7" y1="909.2" y2="909.2" stroke="#E8232F" stroke-width="2"/>
<circle cx="656.8" cy="909.2" r="3.5" fill="#E8232F" fill-opacity="0.5"/>
<text x="669.2" y="913.8" font-size="12.7" fill="#000">ABCC6</text>
<line x1="650.9" x2="662.7" y1="923.8" y2="923.8" stroke="#52B350" stroke-width="2"/>
<circle cx="656.8" cy="923.8" r="3.5" fill="#52B350" fill-opacity="0.5"/>
<text x="669.2" y="928.4" font-size="12.7" fill="#000">ATAD3A</text>
<line x1="650.9" x2="662.7" y1="938.4" y2="938.4" stroke="#3A5BAA" stroke-width="2"/>
<circle cx="656.8" cy="938.4" r="3.5" fill="#3A5BAA" fill-opacity="0.5"/>
<text x="669.2" y="943.0" font-size="12.7" fill="#000">BCHE</text>
<line x1="650.9" x2="662.7" y1="952.9" y2="952.9" stroke="#F0B5BE" stroke-width="2"/>
<circle cx="656.8" cy="952.9" r="3.5" fill="#F0B5BE" fill-opacity="0.5"/>
<text x="669.2" y="957.5" font-size="12.7" fill="#000">CD36</text>
<line x1="650.9" x2="662.7" y1="967.5" y2="967.5" stroke="#B8479C" stroke-width="2"/>
<circle cx="656.8" cy="967.5" r="3.5" fill="#B8479C" fill-opacity="0.5"/>
<text x="669.2" y="972.1" font-size="12.7" fill="#000">CFTR</text>
<line x1="650.9" x2="662.7" y1="982.1" y2="982.1" stroke="#3EBCCB" stroke-width="2"/>
<circle cx="656.8" cy="982.1" r="3.5" fill="#3EBCCB" fill-opacity="0.5"/>
<text x="669.2" y="986.7" font-size="12.7" fill="#000">COL18A1</text>
<line x1="650.9" x2="662.7" y1="996.7" y2="996.7" stroke="#E5E52A" stroke-width="2"/>
<circle cx="656.8" cy="996.7" r="3.5" fill="#E5E52A" fill-opacity="0.5"/>
<text x="669.2" y="1001.3" font-size="12.7" fill="#000">CRB2</text>
<line x1="650.9" x2="662.7" y1="1011.3" y2="1011.3" stroke="#15224F" stroke-width="2"/>
<circle cx="656.8" cy="1011.3" r="3.5" fill="#15224F" fill-opacity="0.5"/>
<text x="669.2" y="1015.9" font-size="12.7" fill="#000">DHCR7</text>
<line x1="650.9" x2="662.7" y1="1025.8" y2="1025.8" stroke="#F28A2E" stroke-width="2"/>
<circle cx="656.8" cy="1025.8" r="3.5" fill="#F28A2E" fill-opacity="0.5"/>
<text x="669.2" y="1030.4" font-size="12.7" fill="#000">DMGDH</text>
<line x1="650.9" x2="662.7" y1="1040.4" y2="1040.4" stroke="#C8136A" stroke-width="2"/>
<circle cx="656.8" cy="1040.4" r="3.5" fill="#C8136A" fill-opacity="0.5"/>
<text x="669.2" y="1045.0" font-size="12.7" fill="#000">DNAH9</text>
<line x1="650.9" x2="662.7" y1="1055.0" y2="1055.0" stroke="#0A7A3E" stroke-width="2"/>
<circle cx="656.8" cy="1055.0" r="3.5" fill="#0A7A3E" fill-opacity="0.5"/>
<text x="669.2" y="1059.6" font-size="12.7" fill="#000">DUOX2</text>
<line x1="650.9" x2="662.7" y1="1069.6" y2="1069.6" stroke="#9AA8D8" stroke-width="2"/>
<circle cx="656.8" cy="1069.6" r="3.5" fill="#9AA8D8" fill-opacity="0.5"/>
<text x="669.2" y="1074.2" font-size="12.7" fill="#000">F5</text>
<line x1="650.9" x2="662.7" y1="1084.2" y2="1084.2" stroke="#8E2F8C" stroke-width="2"/>
<circle cx="656.8" cy="1084.2" r="3.5" fill="#8E2F8C" fill-opacity="0.5"/>
<text x="669.2" y="1088.8" font-size="12.7" fill="#000">FGG</text>
<line x1="650.9" x2="662.7" y1="1098.7" y2="1098.7" stroke="#5E0A16" stroke-width="2"/>
<circle cx="656.8" cy="1098.7" r="3.5" fill="#5E0A16" fill-opacity="0.5"/>
<text x="669.2" y="1103.3" font-size="12.7" fill="#000">FLNB</text>
<line x1="650.9" x2="662.7" y1="1113.3" y2="1113.3" stroke="#7A6A2A" stroke-width="2"/>
<circle cx="656.8" cy="1113.3" r="3.5" fill="#7A6A2A" fill-opacity="0.5"/>
<text x="669.2" y="1117.9" font-size="12.7" fill="#000">GALC</text>
<line x1="650.9" x2="662.7" y1="1127.9" y2="1127.9" stroke="#9A6EB0" stroke-width="2"/>
<circle cx="656.8" cy="1127.9" r="3.5" fill="#9A6EB0" fill-opacity="0.5"/>
<text x="669.2" y="1132.5" font-size="12.7" fill="#000">GALT</text>
<line x1="650.9" x2="662.7" y1="1142.5" y2="1142.5" stroke="#283A93" stroke-width="2"/>
<circle cx="656.8" cy="1142.5" r="3.5" fill="#283A93" fill-opacity="0.5"/>
<text x="669.2" y="1147.1" font-size="12.7" fill="#000">GJB2</text>
<line x1="650.9" x2="662.7" y1="1157.1" y2="1157.1" stroke="#5F9494" stroke-width="2"/>
<circle cx="656.8" cy="1157.1" r="3.5" fill="#5F9494" fill-opacity="0.5"/>
<text x="669.2" y="1161.7" font-size="12.7" fill="#000">HSPG2</text>
<line x1="650.9" x2="662.7" y1="1171.6" y2="1171.6" stroke="#3FAE80" stroke-width="2"/>
<circle cx="656.8" cy="1171.6" r="3.5" fill="#3FAE80" fill-opacity="0.5"/>
<text x="669.2" y="1176.2" font-size="12.7" fill="#000">MPO</text>
<line x1="650.9" x2="662.7" y1="1186.2" y2="1186.2" stroke="#B2D9A0" stroke-width="2"/>
<circle cx="656.8" cy="1186.2" r="3.5" fill="#B2D9A0" fill-opacity="0.5"/>
<text x="669.2" y="1190.8" font-size="12.7" fill="#000">MYO18B</text>
<line x1="650.9" x2="662.7" y1="1200.8" y2="1200.8" stroke="#7DBF3F" stroke-width="2"/>
<circle cx="656.8" cy="1200.8" r="3.5" fill="#7DBF3F" fill-opacity="0.5"/>
<text x="669.2" y="1205.4" font-size="12.7" fill="#000">POLG</text>
<line x1="650.9" x2="662.7" y1="1215.4" y2="1215.4" stroke="#EE8080" stroke-width="2"/>
<circle cx="656.8" cy="1215.4" r="3.5" fill="#EE8080" fill-opacity="0.5"/>
<text x="669.2" y="1220.0" font-size="12.7" fill="#000">PYGM</text>
<line x1="650.9" x2="662.7" y1="1230.0" y2="1230.0" stroke="#D03333" stroke-width="2"/>
<circle cx="656.8" cy="1230.0" r="3.5" fill="#D03333" fill-opacity="0.5"/>
<text x="669.2" y="1234.6" font-size="12.7" fill="#000">RBM8A</text>
<line x1="650.9" x2="662.7" y1="1244.5" y2="1244.5" stroke="#E2A9CC" stroke-width="2"/>
<circle cx="656.8" cy="1244.5" r="3.5" fill="#E2A9CC" fill-opacity="0.5"/>
<text x="669.2" y="1249.1" font-size="12.7" fill="#000">SERPINA1</text>
<line x1="650.9" x2="662.7" y1="1259.1" y2="1259.1" stroke="#F6B157" stroke-width="2"/>
<circle cx="656.8" cy="1259.1" r="3.5" fill="#F6B157" fill-opacity="0.5"/>
<text x="669.2" y="1263.7" font-size="12.7" fill="#000">SERPINB7</text>
<line x1="650.9" x2="662.7" y1="1273.7" y2="1273.7" stroke="#3B86CC" stroke-width="2"/>
<circle cx="656.8" cy="1273.7" r="3.5" fill="#3B86CC" fill-opacity="0.5"/>
<text x="669.2" y="1278.3" font-size="12.7" fill="#000">SLC22A12</text>
<line x1="650.9" x2="662.7" y1="1288.3" y2="1288.3" stroke="#1F3A14" stroke-width="2"/>
<circle cx="656.8" cy="1288.3" r="3.5" fill="#1F3A14" fill-opacity="0.5"/>
<text x="669.2" y="1292.9" font-size="12.7" fill="#000">SLC22A5</text>
<line x1="650.9" x2="662.7" y1="1302.9" y2="1302.9" stroke="#E86AA8" stroke-width="2"/>
<circle cx="656.8" cy="1302.9" r="3.5" fill="#E86AA8" fill-opacity="0.5"/>
<text x="669.2" y="1307.5" font-size="12.7" fill="#000">SLC25A13</text>
<line x1="650.9" x2="662.7" y1="1317.4" y2="1317.4" stroke="#2DB8E8" stroke-width="2"/>
<circle cx="656.8" cy="1317.4" r="3.5" fill="#2DB8E8" fill-opacity="0.5"/>
<text x="669.2" y="1322.0" font-size="12.7" fill="#000">TTN</text>
<line x1="650.9" x2="662.7" y1="1332.0" y2="1332.0" stroke="#0B5E8E" stroke-width="2"/>
<circle cx="656.8" cy="1332.0" r="3.5" fill="#0B5E8E" fill-opacity="0.5"/>
<text x="669.2" y="1336.6" font-size="12.7" fill="#000">UGT1A1</text>
<text x="650" y="1404.4" font-size="12.7" fill="#000">RankChange</text>
<line x1="650.9" x2="662.7" y1="1418.5" y2="1418.5" stroke="#000" stroke-width="2"/>
<text x="669.5" y="1423.1" font-size="12.7" fill="#000">Down</text>
<line x1="650.9" x2="662.7" y1="1432.6" y2="1432.6" stroke="#000" stroke-width="2" stroke-dasharray="4.2 4.2"/>
<text x="669.5" y="1437.2" font-size="12.7" fill="#000">Equal</text>
<line x1="650.9" x2="662.7" y1="1446.7" y2="1446.7" stroke="#000" stroke-width="2" stroke-dasharray="8.4 4.2"/>
<text x="669.5" y="1451.3" font-size="12.7" fill="#000">Up</text>
<defs><clipPath id="cr"><circle cx="935.5" cy="1213.5" r="151.5"/></clipPath></defs>
<circle cx="935.5" cy="1213.5" r="151.5" fill="#E64B3C"/>
<circle cx="1250.7" cy="1213.3" r="248.3" fill="#0EB1D2"/>
<circle cx="1250.7" cy="1213.3" r="248.3" fill="#B5847C" clip-path="url(#cr)"/>
<circle cx="935.5" cy="1213.5" r="151.5" fill="none" stroke="#000" stroke-width="2"/>
<circle cx="1250.7" cy="1213.3" r="248.3" fill="none" stroke="#000" stroke-width="2"/>
<text x="898.4" y="1212.9" font-size="20.6" font-weight="bold" fill="#000" text-anchor="middle">ChinaMAP (&gt;=1/200)</text>
<text x="894" y="1236.4" font-size="20" fill="#000" text-anchor="middle">144 (23%)</text>
<text x="1041.9" y="1220.4" font-size="20" fill="#000" text-anchor="middle">33 (5%)</text>
<text x="1294.7" y="1186.6" font-size="20.3" font-weight="bold" fill="#000" text-anchor="middle">RareDisease</text>
<text x="1288.6" y="1210" font-size="20" fill="#000" text-anchor="middle">443 (71%)</text>
<text x="-0.3" y="26.6" font-size="31" font-weight="bold" fill="#000">a</text>
<text x="763.2" y="26.6" font-size="31" font-weight="bold" fill="#000">b</text>
<text x="-0.2" y="811.7" font-size="31" font-weight="bold" fill="#000">c</text>
<text x="763.0" y="811.7" font-size="31" font-weight="bold" fill="#000">d</text>
</svg>
</body></html>
